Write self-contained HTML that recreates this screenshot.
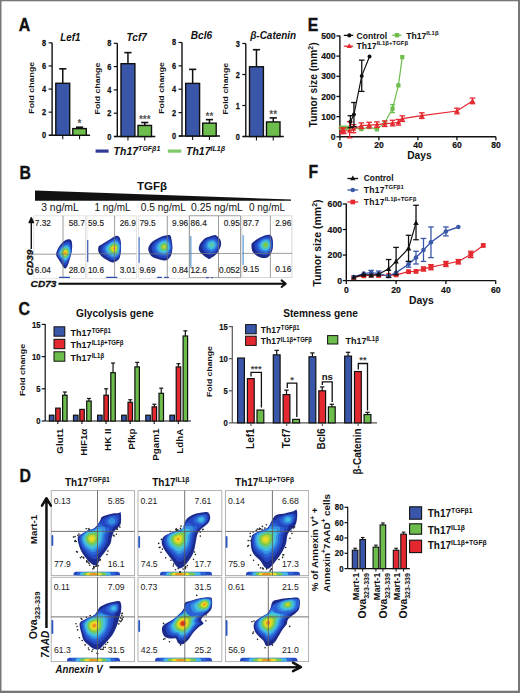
<!DOCTYPE html>
<html><head><meta charset="utf-8"><style>
html,body{margin:0;padding:0;background:#fff;width:520px;height:693px;overflow:hidden;}
svg{display:block;font-family:"Liberation Sans", sans-serif;}
</style></head><body>
<svg width="520" height="693" viewBox="0 0 520 693">
<defs><filter id="bl" x="-20%" y="-20%" width="140%" height="140%"><feGaussianBlur stdDeviation="0.35"/></filter></defs>
<rect x="0" y="0" width="520" height="693" fill="#777"/>
<rect x="1.5" y="1.3" width="516.5" height="689.4" fill="#fff"/>
<text transform="translate(18.80,30.80) scale(0.9,1)" font-size="17.6" font-weight="bold" font-style="normal" text-anchor="start" fill="#111" stroke="#111" stroke-width="0.35">A</text>
<text transform="translate(19.50,178.60) scale(0.9,1)" font-size="17.6" font-weight="bold" font-style="normal" text-anchor="start" fill="#111" stroke="#111" stroke-width="0.35">B</text>
<text transform="translate(18.50,315.20) scale(0.9,1)" font-size="17.6" font-weight="bold" font-style="normal" text-anchor="start" fill="#111" stroke="#111" stroke-width="0.35">C</text>
<text transform="translate(19.50,482.20) scale(0.9,1)" font-size="17.6" font-weight="bold" font-style="normal" text-anchor="start" fill="#111" stroke="#111" stroke-width="0.35">D</text>
<text transform="translate(307.80,30.80) scale(0.9,1)" font-size="17.6" font-weight="bold" font-style="normal" text-anchor="start" fill="#111" stroke="#111" stroke-width="0.35">E</text>
<text transform="translate(308.50,177.70) scale(0.9,1)" font-size="17.6" font-weight="bold" font-style="normal" text-anchor="start" fill="#111" stroke="#111" stroke-width="0.35">F</text>
<line x1="52.10" y1="42.82" x2="52.10" y2="135.80" stroke="#111" stroke-width="1.4" />
<line x1="49.10" y1="135.30" x2="90.10" y2="135.30" stroke="#111" stroke-width="1.4" />
<line x1="48.60" y1="135.30" x2="52.10" y2="135.30" stroke="#111" stroke-width="1.2" />
<text transform="translate(46.20,138.30) scale(0.84,1)" font-size="8.8" font-weight="bold" font-style="normal" text-anchor="end" fill="#111" stroke="#111" stroke-width="0.25">0</text>
<line x1="48.60" y1="112.18" x2="52.10" y2="112.18" stroke="#111" stroke-width="1.2" />
<text transform="translate(46.20,115.18) scale(0.84,1)" font-size="8.8" font-weight="bold" font-style="normal" text-anchor="end" fill="#111" stroke="#111" stroke-width="0.25">2</text>
<line x1="48.60" y1="89.06" x2="52.10" y2="89.06" stroke="#111" stroke-width="1.2" />
<text transform="translate(46.20,92.06) scale(0.84,1)" font-size="8.8" font-weight="bold" font-style="normal" text-anchor="end" fill="#111" stroke="#111" stroke-width="0.25">4</text>
<line x1="48.60" y1="65.94" x2="52.10" y2="65.94" stroke="#111" stroke-width="1.2" />
<text transform="translate(46.20,68.94) scale(0.84,1)" font-size="8.8" font-weight="bold" font-style="normal" text-anchor="end" fill="#111" stroke="#111" stroke-width="0.25">6</text>
<line x1="48.60" y1="42.82" x2="52.10" y2="42.82" stroke="#111" stroke-width="1.2" />
<text transform="translate(46.20,45.82) scale(0.84,1)" font-size="8.8" font-weight="bold" font-style="normal" text-anchor="end" fill="#111" stroke="#111" stroke-width="0.25">8</text>
<line x1="62.75" y1="68.83" x2="62.75" y2="83.28" stroke="#111" stroke-width="1.5" />
<line x1="59.15" y1="68.83" x2="66.35" y2="68.83" stroke="#111" stroke-width="1.6" />
<rect x="55.80" y="83.28" width="13.90" height="52.02" fill="#3a56a8" stroke="#111" stroke-width="1.4"/>
<line x1="62.75" y1="135.30" x2="62.75" y2="139.30" stroke="#111" stroke-width="1.1" />
<line x1="79.55" y1="127.21" x2="79.55" y2="128.60" stroke="#111" stroke-width="1.5" />
<line x1="75.95" y1="127.21" x2="83.15" y2="127.21" stroke="#111" stroke-width="1.6" />
<rect x="72.80" y="128.60" width="13.50" height="6.70" fill="#6dbd4c" stroke="#111" stroke-width="1.4"/>
<line x1="79.55" y1="135.30" x2="79.55" y2="139.30" stroke="#111" stroke-width="1.1" />
<text x="79.55" y="127.41" font-size="10" font-weight="bold" font-style="normal" text-anchor="middle" fill="#555" >*</text>
<text x="60.20" y="41.20" font-size="10.5" font-weight="bold" font-style="italic" text-anchor="start" fill="#111" textLength="20.2" lengthAdjust="spacingAndGlyphs">Lef1</text>
<text transform="translate(34.40,87.76) rotate(-90)" font-size="8" font-weight="bold" font-style="normal" text-anchor="middle" fill="#111" textLength="51.8" lengthAdjust="spacingAndGlyphs">Fold change</text>
<line x1="117.30" y1="43.30" x2="117.30" y2="137.00" stroke="#111" stroke-width="1.4" />
<line x1="114.30" y1="136.50" x2="155.30" y2="136.50" stroke="#111" stroke-width="1.4" />
<line x1="113.80" y1="136.50" x2="117.30" y2="136.50" stroke="#111" stroke-width="1.2" />
<text transform="translate(111.40,139.50) scale(0.84,1)" font-size="8.8" font-weight="bold" font-style="normal" text-anchor="end" fill="#111" stroke="#111" stroke-width="0.25">0</text>
<line x1="113.80" y1="113.20" x2="117.30" y2="113.20" stroke="#111" stroke-width="1.2" />
<text transform="translate(111.40,116.20) scale(0.84,1)" font-size="8.8" font-weight="bold" font-style="normal" text-anchor="end" fill="#111" stroke="#111" stroke-width="0.25">2</text>
<line x1="113.80" y1="89.90" x2="117.30" y2="89.90" stroke="#111" stroke-width="1.2" />
<text transform="translate(111.40,92.90) scale(0.84,1)" font-size="8.8" font-weight="bold" font-style="normal" text-anchor="end" fill="#111" stroke="#111" stroke-width="0.25">4</text>
<line x1="113.80" y1="66.60" x2="117.30" y2="66.60" stroke="#111" stroke-width="1.2" />
<text transform="translate(111.40,69.60) scale(0.84,1)" font-size="8.8" font-weight="bold" font-style="normal" text-anchor="end" fill="#111" stroke="#111" stroke-width="0.25">6</text>
<line x1="113.80" y1="43.30" x2="117.30" y2="43.30" stroke="#111" stroke-width="1.2" />
<text transform="translate(111.40,46.30) scale(0.84,1)" font-size="8.8" font-weight="bold" font-style="normal" text-anchor="end" fill="#111" stroke="#111" stroke-width="0.25">8</text>
<line x1="127.95" y1="52.62" x2="127.95" y2="63.69" stroke="#111" stroke-width="1.5" />
<line x1="124.35" y1="52.62" x2="131.55" y2="52.62" stroke="#111" stroke-width="1.6" />
<rect x="121.00" y="63.69" width="13.90" height="72.81" fill="#3a56a8" stroke="#111" stroke-width="1.4"/>
<line x1="127.95" y1="136.50" x2="127.95" y2="140.50" stroke="#111" stroke-width="1.1" />
<line x1="144.75" y1="122.52" x2="144.75" y2="125.43" stroke="#111" stroke-width="1.5" />
<line x1="141.15" y1="122.52" x2="148.35" y2="122.52" stroke="#111" stroke-width="1.6" />
<rect x="138.00" y="125.43" width="13.50" height="11.07" fill="#6dbd4c" stroke="#111" stroke-width="1.4"/>
<line x1="144.75" y1="136.50" x2="144.75" y2="140.50" stroke="#111" stroke-width="1.1" />
<text x="144.75" y="122.72" font-size="10" font-weight="bold" font-style="normal" text-anchor="middle" fill="#555" >***</text>
<text x="126.60" y="41.20" font-size="10.5" font-weight="bold" font-style="italic" text-anchor="start" fill="#111" textLength="20.2" lengthAdjust="spacingAndGlyphs">Tcf7</text>
<text transform="translate(99.60,88.60) rotate(-90)" font-size="8" font-weight="bold" font-style="normal" text-anchor="middle" fill="#111" textLength="51.8" lengthAdjust="spacingAndGlyphs">Fold change</text>
<line x1="182.00" y1="42.48" x2="182.00" y2="136.50" stroke="#111" stroke-width="1.4" />
<line x1="179.00" y1="136.00" x2="220.00" y2="136.00" stroke="#111" stroke-width="1.4" />
<line x1="178.50" y1="136.00" x2="182.00" y2="136.00" stroke="#111" stroke-width="1.2" />
<text transform="translate(176.10,139.00) scale(0.84,1)" font-size="8.8" font-weight="bold" font-style="normal" text-anchor="end" fill="#111" stroke="#111" stroke-width="0.25">0</text>
<line x1="178.50" y1="112.62" x2="182.00" y2="112.62" stroke="#111" stroke-width="1.2" />
<text transform="translate(176.10,115.62) scale(0.84,1)" font-size="8.8" font-weight="bold" font-style="normal" text-anchor="end" fill="#111" stroke="#111" stroke-width="0.25">2</text>
<line x1="178.50" y1="89.24" x2="182.00" y2="89.24" stroke="#111" stroke-width="1.2" />
<text transform="translate(176.10,92.24) scale(0.84,1)" font-size="8.8" font-weight="bold" font-style="normal" text-anchor="end" fill="#111" stroke="#111" stroke-width="0.25">4</text>
<line x1="178.50" y1="65.86" x2="182.00" y2="65.86" stroke="#111" stroke-width="1.2" />
<text transform="translate(176.10,68.86) scale(0.84,1)" font-size="8.8" font-weight="bold" font-style="normal" text-anchor="end" fill="#111" stroke="#111" stroke-width="0.25">6</text>
<line x1="178.50" y1="42.48" x2="182.00" y2="42.48" stroke="#111" stroke-width="1.2" />
<text transform="translate(176.10,45.48) scale(0.84,1)" font-size="8.8" font-weight="bold" font-style="normal" text-anchor="end" fill="#111" stroke="#111" stroke-width="0.25">8</text>
<line x1="192.65" y1="69.37" x2="192.65" y2="83.40" stroke="#111" stroke-width="1.5" />
<line x1="189.05" y1="69.37" x2="196.25" y2="69.37" stroke="#111" stroke-width="1.6" />
<rect x="185.70" y="83.40" width="13.90" height="52.60" fill="#3a56a8" stroke="#111" stroke-width="1.4"/>
<line x1="192.65" y1="136.00" x2="192.65" y2="140.00" stroke="#111" stroke-width="1.1" />
<line x1="209.45" y1="119.63" x2="209.45" y2="123.14" stroke="#111" stroke-width="1.5" />
<line x1="205.85" y1="119.63" x2="213.05" y2="119.63" stroke="#111" stroke-width="1.6" />
<rect x="202.70" y="123.14" width="13.50" height="12.86" fill="#6dbd4c" stroke="#111" stroke-width="1.4"/>
<line x1="209.45" y1="136.00" x2="209.45" y2="140.00" stroke="#111" stroke-width="1.1" />
<text x="209.45" y="119.83" font-size="10" font-weight="bold" font-style="normal" text-anchor="middle" fill="#555" >**</text>
<text x="190.80" y="38.80" font-size="10.5" font-weight="bold" font-style="italic" text-anchor="start" fill="#111" textLength="21.4" lengthAdjust="spacingAndGlyphs">Bcl6</text>
<text transform="translate(164.30,87.94) rotate(-90)" font-size="8" font-weight="bold" font-style="normal" text-anchor="middle" fill="#111" textLength="51.8" lengthAdjust="spacingAndGlyphs">Fold change</text>
<line x1="245.80" y1="43.50" x2="245.80" y2="137.00" stroke="#111" stroke-width="1.4" />
<line x1="242.80" y1="136.50" x2="283.80" y2="136.50" stroke="#111" stroke-width="1.4" />
<line x1="242.30" y1="136.50" x2="245.80" y2="136.50" stroke="#111" stroke-width="1.2" />
<text transform="translate(239.90,139.50) scale(0.84,1)" font-size="8.8" font-weight="bold" font-style="normal" text-anchor="end" fill="#111" stroke="#111" stroke-width="0.25">0</text>
<line x1="242.30" y1="105.50" x2="245.80" y2="105.50" stroke="#111" stroke-width="1.2" />
<text transform="translate(239.90,108.50) scale(0.84,1)" font-size="8.8" font-weight="bold" font-style="normal" text-anchor="end" fill="#111" stroke="#111" stroke-width="0.25">1</text>
<line x1="242.30" y1="74.50" x2="245.80" y2="74.50" stroke="#111" stroke-width="1.2" />
<text transform="translate(239.90,77.50) scale(0.84,1)" font-size="8.8" font-weight="bold" font-style="normal" text-anchor="end" fill="#111" stroke="#111" stroke-width="0.25">2</text>
<line x1="242.30" y1="43.50" x2="245.80" y2="43.50" stroke="#111" stroke-width="1.2" />
<text transform="translate(239.90,46.50) scale(0.84,1)" font-size="8.8" font-weight="bold" font-style="normal" text-anchor="end" fill="#111" stroke="#111" stroke-width="0.25">3</text>
<line x1="256.45" y1="49.70" x2="256.45" y2="66.75" stroke="#111" stroke-width="1.5" />
<line x1="252.85" y1="49.70" x2="260.05" y2="49.70" stroke="#111" stroke-width="1.6" />
<rect x="249.50" y="66.75" width="13.90" height="69.75" fill="#3a56a8" stroke="#111" stroke-width="1.4"/>
<line x1="256.45" y1="136.50" x2="256.45" y2="140.50" stroke="#111" stroke-width="1.1" />
<line x1="273.25" y1="117.90" x2="273.25" y2="121.93" stroke="#111" stroke-width="1.5" />
<line x1="269.65" y1="117.90" x2="276.85" y2="117.90" stroke="#111" stroke-width="1.6" />
<rect x="266.50" y="121.93" width="13.50" height="14.57" fill="#6dbd4c" stroke="#111" stroke-width="1.4"/>
<line x1="273.25" y1="136.50" x2="273.25" y2="140.50" stroke="#111" stroke-width="1.1" />
<text x="273.25" y="118.10" font-size="10" font-weight="bold" font-style="normal" text-anchor="middle" fill="#555" >**</text>
<text x="250.20" y="38.80" font-size="10.5" font-weight="bold" font-style="italic" text-anchor="start" fill="#111" textLength="46.0" lengthAdjust="spacingAndGlyphs">&#946;-Catenin</text>
<text transform="translate(228.10,88.70) rotate(-90)" font-size="8" font-weight="bold" font-style="normal" text-anchor="middle" fill="#111" textLength="51.8" lengthAdjust="spacingAndGlyphs">Fold change</text>
<line x1="95.60" y1="151.10" x2="108.60" y2="151.10" stroke="#313896" stroke-width="3.2" />
<text x="113.6" y="154.8" font-size="10.5" font-weight="bold" font-style="italic" fill="#111">Th17<tspan dy="-3.4" font-size="7">TGF&#946;1</tspan></text>
<line x1="167.80" y1="151.10" x2="181.40" y2="151.10" stroke="#7fc86a" stroke-width="3.2" />
<text x="186" y="154.8" font-size="10.5" font-weight="bold" font-style="italic" fill="#111">Th17<tspan dy="-3.4" font-size="7">IL1&#946;</tspan></text>
<line x1="339.90" y1="35.45" x2="339.90" y2="136.80" stroke="#111" stroke-width="1.4" />
<line x1="339.90" y1="136.80" x2="495.90" y2="136.80" stroke="#111" stroke-width="1.4" />
<line x1="336.40" y1="136.80" x2="339.90" y2="136.80" stroke="#111" stroke-width="1.3" />
<text transform="translate(335.60,140.00) scale(0.96,1)" font-size="9" font-weight="bold" font-style="normal" text-anchor="end" fill="#111" stroke="#111" stroke-width="0.2">0</text>
<line x1="336.40" y1="116.63" x2="339.90" y2="116.63" stroke="#111" stroke-width="1.3" />
<text transform="translate(335.60,119.83) scale(0.96,1)" font-size="9" font-weight="bold" font-style="normal" text-anchor="end" fill="#111" stroke="#111" stroke-width="0.2">100</text>
<line x1="336.40" y1="96.46" x2="339.90" y2="96.46" stroke="#111" stroke-width="1.3" />
<text transform="translate(335.60,99.66) scale(0.96,1)" font-size="9" font-weight="bold" font-style="normal" text-anchor="end" fill="#111" stroke="#111" stroke-width="0.2">200</text>
<line x1="336.40" y1="76.29" x2="339.90" y2="76.29" stroke="#111" stroke-width="1.3" />
<text transform="translate(335.60,79.49) scale(0.96,1)" font-size="9" font-weight="bold" font-style="normal" text-anchor="end" fill="#111" stroke="#111" stroke-width="0.2">300</text>
<line x1="336.40" y1="56.12" x2="339.90" y2="56.12" stroke="#111" stroke-width="1.3" />
<text transform="translate(335.60,59.32) scale(0.96,1)" font-size="9" font-weight="bold" font-style="normal" text-anchor="end" fill="#111" stroke="#111" stroke-width="0.2">400</text>
<line x1="336.40" y1="35.95" x2="339.90" y2="35.95" stroke="#111" stroke-width="1.3" />
<text transform="translate(335.60,39.15) scale(0.96,1)" font-size="9" font-weight="bold" font-style="normal" text-anchor="end" fill="#111" stroke="#111" stroke-width="0.2">500</text>
<line x1="339.90" y1="136.80" x2="339.90" y2="140.30" stroke="#111" stroke-width="1.3" />
<text transform="translate(339.90,148.20) scale(0.95,1)" font-size="9" font-weight="bold" font-style="normal" text-anchor="middle" fill="#111" stroke="#111" stroke-width="0.2">0</text>
<line x1="378.90" y1="136.80" x2="378.90" y2="140.30" stroke="#111" stroke-width="1.3" />
<text transform="translate(378.90,148.20) scale(0.95,1)" font-size="9" font-weight="bold" font-style="normal" text-anchor="middle" fill="#111" stroke="#111" stroke-width="0.2">20</text>
<line x1="417.90" y1="136.80" x2="417.90" y2="140.30" stroke="#111" stroke-width="1.3" />
<text transform="translate(417.90,148.20) scale(0.95,1)" font-size="9" font-weight="bold" font-style="normal" text-anchor="middle" fill="#111" stroke="#111" stroke-width="0.2">40</text>
<line x1="456.90" y1="136.80" x2="456.90" y2="140.30" stroke="#111" stroke-width="1.3" />
<text transform="translate(456.90,148.20) scale(0.95,1)" font-size="9" font-weight="bold" font-style="normal" text-anchor="middle" fill="#111" stroke="#111" stroke-width="0.2">60</text>
<line x1="495.90" y1="136.80" x2="495.90" y2="140.30" stroke="#111" stroke-width="1.3" />
<text transform="translate(495.90,148.20) scale(0.95,1)" font-size="9" font-weight="bold" font-style="normal" text-anchor="middle" fill="#111" stroke="#111" stroke-width="0.2">80</text>
<text x="407.20" y="159.40" font-size="10.2" font-weight="bold" font-style="normal" text-anchor="start" fill="#111" >Days</text>
<text transform="translate(316.9,84.8) rotate(-90)" font-size="10.2" font-weight="bold" text-anchor="middle" fill="#111">Tumor size (mm<tspan dy="-4" font-size="7">2</tspan><tspan dy="4">)</tspan></text>
<polyline points="340.88,127.72 343.80,127.72 347.70,127.72 361.35,129.14 369.15,127.12 376.95,129.34 384.75,122.68 392.55,108.56 398.40,85.37 402.30,57.13" fill="none" stroke="#6dbd4c" stroke-width="1.2"/>
<rect x="338.77" y="125.62" width="4.20" height="4.20" fill="#6dbd4c"/>
<rect x="341.70" y="125.62" width="4.20" height="4.20" fill="#6dbd4c"/>
<rect x="345.60" y="125.62" width="4.20" height="4.20" fill="#6dbd4c"/>
<rect x="359.25" y="127.04" width="4.20" height="4.20" fill="#6dbd4c"/>
<rect x="367.05" y="125.02" width="4.20" height="4.20" fill="#6dbd4c"/>
<rect x="374.85" y="127.24" width="4.20" height="4.20" fill="#6dbd4c"/>
<rect x="382.65" y="120.58" width="4.20" height="4.20" fill="#6dbd4c"/>
<rect x="390.45" y="106.46" width="4.20" height="4.20" fill="#6dbd4c"/>
<rect x="396.30" y="83.27" width="4.20" height="4.20" fill="#6dbd4c"/>
<rect x="400.20" y="55.03" width="4.20" height="4.20" fill="#6dbd4c"/>
<line x1="392.55" y1="104.53" x2="392.55" y2="112.60" stroke="#6dbd4c" stroke-width="1.3" />
<line x1="390.05" y1="104.53" x2="395.05" y2="104.53" stroke="#6dbd4c" stroke-width="1.3" />
<line x1="390.05" y1="112.60" x2="395.05" y2="112.60" stroke="#6dbd4c" stroke-width="1.3" />
<polyline points="341.85,130.75 343.80,130.75 349.65,130.75 353.55,128.73 361.35,125.71 369.15,125.10 376.95,124.70 384.75,123.69 392.55,123.08 398.40,122.28 402.30,118.65 421.80,115.62 456.90,110.98 472.50,100.90" fill="none" stroke="#e3292f" stroke-width="1.2"/>
<line x1="341.85" y1="127.93" x2="341.85" y2="133.57" stroke="#e3292f" stroke-width="1.3" />
<line x1="339.05" y1="127.93" x2="344.65" y2="127.93" stroke="#e3292f" stroke-width="1.3" />
<line x1="339.05" y1="133.57" x2="344.65" y2="133.57" stroke="#e3292f" stroke-width="1.3" />
<line x1="343.80" y1="127.93" x2="343.80" y2="133.57" stroke="#e3292f" stroke-width="1.3" />
<line x1="341.00" y1="127.93" x2="346.60" y2="127.93" stroke="#e3292f" stroke-width="1.3" />
<line x1="341.00" y1="133.57" x2="346.60" y2="133.57" stroke="#e3292f" stroke-width="1.3" />
<line x1="349.65" y1="121.67" x2="349.65" y2="137.81" stroke="#e3292f" stroke-width="1.3" />
<line x1="346.85" y1="121.67" x2="352.45" y2="121.67" stroke="#e3292f" stroke-width="1.3" />
<line x1="346.85" y1="137.81" x2="352.45" y2="137.81" stroke="#e3292f" stroke-width="1.3" />
<line x1="353.55" y1="124.70" x2="353.55" y2="132.77" stroke="#e3292f" stroke-width="1.3" />
<line x1="350.75" y1="124.70" x2="356.35" y2="124.70" stroke="#e3292f" stroke-width="1.3" />
<line x1="350.75" y1="132.77" x2="356.35" y2="132.77" stroke="#e3292f" stroke-width="1.3" />
<line x1="361.35" y1="122.88" x2="361.35" y2="128.53" stroke="#e3292f" stroke-width="1.3" />
<line x1="358.55" y1="122.88" x2="364.15" y2="122.88" stroke="#e3292f" stroke-width="1.3" />
<line x1="358.55" y1="128.53" x2="364.15" y2="128.53" stroke="#e3292f" stroke-width="1.3" />
<line x1="369.15" y1="122.28" x2="369.15" y2="127.93" stroke="#e3292f" stroke-width="1.3" />
<line x1="366.35" y1="122.28" x2="371.95" y2="122.28" stroke="#e3292f" stroke-width="1.3" />
<line x1="366.35" y1="127.93" x2="371.95" y2="127.93" stroke="#e3292f" stroke-width="1.3" />
<line x1="376.95" y1="121.87" x2="376.95" y2="127.52" stroke="#e3292f" stroke-width="1.3" />
<line x1="374.15" y1="121.87" x2="379.75" y2="121.87" stroke="#e3292f" stroke-width="1.3" />
<line x1="374.15" y1="127.52" x2="379.75" y2="127.52" stroke="#e3292f" stroke-width="1.3" />
<line x1="384.75" y1="120.87" x2="384.75" y2="126.51" stroke="#e3292f" stroke-width="1.3" />
<line x1="381.95" y1="120.87" x2="387.55" y2="120.87" stroke="#e3292f" stroke-width="1.3" />
<line x1="381.95" y1="126.51" x2="387.55" y2="126.51" stroke="#e3292f" stroke-width="1.3" />
<line x1="392.55" y1="120.26" x2="392.55" y2="125.91" stroke="#e3292f" stroke-width="1.3" />
<line x1="389.75" y1="120.26" x2="395.35" y2="120.26" stroke="#e3292f" stroke-width="1.3" />
<line x1="389.75" y1="125.91" x2="395.35" y2="125.91" stroke="#e3292f" stroke-width="1.3" />
<line x1="398.40" y1="119.45" x2="398.40" y2="125.10" stroke="#e3292f" stroke-width="1.3" />
<line x1="395.60" y1="119.45" x2="401.20" y2="119.45" stroke="#e3292f" stroke-width="1.3" />
<line x1="395.60" y1="125.10" x2="401.20" y2="125.10" stroke="#e3292f" stroke-width="1.3" />
<line x1="402.30" y1="115.82" x2="402.30" y2="121.47" stroke="#e3292f" stroke-width="1.3" />
<line x1="399.50" y1="115.82" x2="405.10" y2="115.82" stroke="#e3292f" stroke-width="1.3" />
<line x1="399.50" y1="121.47" x2="405.10" y2="121.47" stroke="#e3292f" stroke-width="1.3" />
<line x1="421.80" y1="112.80" x2="421.80" y2="118.45" stroke="#e3292f" stroke-width="1.3" />
<line x1="419.00" y1="112.80" x2="424.60" y2="112.80" stroke="#e3292f" stroke-width="1.3" />
<line x1="419.00" y1="118.45" x2="424.60" y2="118.45" stroke="#e3292f" stroke-width="1.3" />
<line x1="456.90" y1="108.16" x2="456.90" y2="113.81" stroke="#e3292f" stroke-width="1.3" />
<line x1="454.10" y1="108.16" x2="459.70" y2="108.16" stroke="#e3292f" stroke-width="1.3" />
<line x1="454.10" y1="113.81" x2="459.70" y2="113.81" stroke="#e3292f" stroke-width="1.3" />
<line x1="472.50" y1="98.07" x2="472.50" y2="103.72" stroke="#e3292f" stroke-width="1.3" />
<line x1="469.70" y1="98.07" x2="475.30" y2="98.07" stroke="#e3292f" stroke-width="1.3" />
<line x1="469.70" y1="103.72" x2="475.30" y2="103.72" stroke="#e3292f" stroke-width="1.3" />
<polygon points="341.85,127.99 344.49,132.82 339.20,132.82" fill="#e3292f"/>
<polygon points="343.80,127.99 346.44,132.82 341.15,132.82" fill="#e3292f"/>
<polygon points="349.65,127.99 352.29,132.82 347.00,132.82" fill="#e3292f"/>
<polygon points="353.55,125.97 356.19,130.80 350.90,130.80" fill="#e3292f"/>
<polygon points="361.35,122.95 363.99,127.78 358.70,127.78" fill="#e3292f"/>
<polygon points="369.15,122.34 371.79,127.17 366.50,127.17" fill="#e3292f"/>
<polygon points="376.95,121.94 379.59,126.77 374.31,126.77" fill="#e3292f"/>
<polygon points="384.75,120.93 387.39,125.76 382.11,125.76" fill="#e3292f"/>
<polygon points="392.55,120.32 395.19,125.15 389.90,125.15" fill="#e3292f"/>
<polygon points="398.40,119.52 401.04,124.35 395.75,124.35" fill="#e3292f"/>
<polygon points="402.30,115.89 404.94,120.72 399.65,120.72" fill="#e3292f"/>
<polygon points="421.80,112.86 424.44,117.69 419.15,117.69" fill="#e3292f"/>
<polygon points="456.90,108.22 459.54,113.05 454.25,113.05" fill="#e3292f"/>
<polygon points="472.50,98.14 475.14,102.97 469.86,102.97" fill="#e3292f"/>
<polyline points="350.43,121.67 353.94,114.61 361.74,75.89 369.54,56.52" fill="none" stroke="#111" stroke-width="1.2"/>
<circle cx="350.43" cy="121.67" r="1.99" fill="#111"/>
<circle cx="353.94" cy="114.61" r="1.99" fill="#111"/>
<circle cx="361.74" cy="75.89" r="1.99" fill="#111"/>
<circle cx="369.54" cy="56.52" r="1.99" fill="#111"/>
<line x1="350.43" y1="115.62" x2="350.43" y2="127.72" stroke="#111" stroke-width="1.3" />
<line x1="347.63" y1="115.62" x2="353.23" y2="115.62" stroke="#111" stroke-width="1.3" />
<line x1="347.63" y1="127.72" x2="353.23" y2="127.72" stroke="#111" stroke-width="1.3" />
<line x1="353.94" y1="102.51" x2="353.94" y2="126.72" stroke="#111" stroke-width="1.3" />
<line x1="351.14" y1="102.51" x2="356.74" y2="102.51" stroke="#111" stroke-width="1.3" />
<line x1="351.14" y1="126.72" x2="356.74" y2="126.72" stroke="#111" stroke-width="1.3" />
<line x1="361.74" y1="60.15" x2="361.74" y2="91.42" stroke="#111" stroke-width="1.3" />
<line x1="358.94" y1="60.15" x2="364.54" y2="60.15" stroke="#111" stroke-width="1.3" />
<line x1="358.94" y1="91.42" x2="364.54" y2="91.42" stroke="#111" stroke-width="1.3" />
<line x1="343.80" y1="35.40" x2="353.20" y2="35.40" stroke="#111" stroke-width="1.3" />
<circle cx="349.30" cy="35.40" r="2.09" fill="#111"/>
<text x="356.60" y="38.80" font-size="8.6" font-weight="bold" font-style="normal" text-anchor="start" fill="#111" >Control</text>
<line x1="392.30" y1="35.20" x2="401.50" y2="35.20" stroke="#6dbd4c" stroke-width="1.3" />
<rect x="394.80" y="33.00" width="4.40" height="4.40" fill="#6dbd4c"/>
<text x="406.2" y="38.8" font-size="8.6" font-weight="bold" fill="#111">Th17<tspan dy="-3.4" font-size="6">IL1&#946;</tspan></text>
<line x1="343.80" y1="46.20" x2="353.20" y2="46.20" stroke="#e3292f" stroke-width="1.3" />
<polygon points="349.30,43.24 351.94,48.07 346.66,48.07" fill="#e3292f"/>
<text x="356.6" y="49.0" font-size="8.6" font-weight="bold" fill="#111">Th17<tspan dy="-3.6" font-size="6">IL1&#946;+TGF&#946;</tspan></text>
<line x1="346.30" y1="203.48" x2="346.30" y2="280.60" stroke="#111" stroke-width="1.4" />
<line x1="346.30" y1="280.60" x2="495.70" y2="280.60" stroke="#111" stroke-width="1.4" />
<line x1="342.80" y1="280.60" x2="346.30" y2="280.60" stroke="#111" stroke-width="1.3" />
<text transform="translate(342.10,283.80) scale(0.97,1)" font-size="9" font-weight="bold" font-style="normal" text-anchor="end" fill="#111" stroke="#111" stroke-width="0.2">0</text>
<line x1="342.80" y1="255.06" x2="346.30" y2="255.06" stroke="#111" stroke-width="1.3" />
<text transform="translate(342.10,258.26) scale(0.97,1)" font-size="9" font-weight="bold" font-style="normal" text-anchor="end" fill="#111" stroke="#111" stroke-width="0.2">200</text>
<line x1="342.80" y1="229.52" x2="346.30" y2="229.52" stroke="#111" stroke-width="1.3" />
<text transform="translate(342.10,232.72) scale(0.97,1)" font-size="9" font-weight="bold" font-style="normal" text-anchor="end" fill="#111" stroke="#111" stroke-width="0.2">400</text>
<line x1="342.80" y1="203.98" x2="346.30" y2="203.98" stroke="#111" stroke-width="1.3" />
<text transform="translate(342.10,207.18) scale(0.97,1)" font-size="9" font-weight="bold" font-style="normal" text-anchor="end" fill="#111" stroke="#111" stroke-width="0.2">600</text>
<line x1="346.30" y1="280.60" x2="346.30" y2="284.10" stroke="#111" stroke-width="1.3" />
<text transform="translate(346.30,293.10) scale(0.96,1)" font-size="9" font-weight="bold" font-style="normal" text-anchor="middle" fill="#111" stroke="#111" stroke-width="0.2">0</text>
<line x1="396.10" y1="280.60" x2="396.10" y2="284.10" stroke="#111" stroke-width="1.3" />
<text transform="translate(396.10,293.10) scale(0.96,1)" font-size="9" font-weight="bold" font-style="normal" text-anchor="middle" fill="#111" stroke="#111" stroke-width="0.2">20</text>
<line x1="445.90" y1="280.60" x2="445.90" y2="284.10" stroke="#111" stroke-width="1.3" />
<text transform="translate(445.90,293.10) scale(0.96,1)" font-size="9" font-weight="bold" font-style="normal" text-anchor="middle" fill="#111" stroke="#111" stroke-width="0.2">40</text>
<line x1="495.70" y1="280.60" x2="495.70" y2="284.10" stroke="#111" stroke-width="1.3" />
<text transform="translate(495.70,293.10) scale(0.96,1)" font-size="9" font-weight="bold" font-style="normal" text-anchor="middle" fill="#111" stroke="#111" stroke-width="0.2">60</text>
<text x="409.00" y="304.30" font-size="10.4" font-weight="bold" font-style="normal" text-anchor="start" fill="#111" >Days</text>
<text transform="translate(320.7,243) rotate(-90)" font-size="10.5" font-weight="bold" text-anchor="middle" fill="#111">Tumor size (mm<tspan dy="-4" font-size="7">2</tspan><tspan dy="4">)</tspan></text>
<polyline points="353.77,277.41 363.73,275.75 371.20,275.24 378.67,275.49 388.63,275.49 396.10,274.85 408.55,271.66 416.02,271.41 423.49,268.85 430.96,267.19 445.90,264.00 458.35,261.45 470.80,254.42 483.25,245.48" fill="none" stroke="#e3292f" stroke-width="1.2"/>
<line x1="423.49" y1="267.19" x2="423.49" y2="271.02" stroke="#e3292f" stroke-width="1.3" />
<line x1="420.69" y1="267.19" x2="426.29" y2="267.19" stroke="#e3292f" stroke-width="1.3" />
<line x1="420.69" y1="271.02" x2="426.29" y2="271.02" stroke="#e3292f" stroke-width="1.3" />
<line x1="430.96" y1="264.64" x2="430.96" y2="269.75" stroke="#e3292f" stroke-width="1.3" />
<line x1="428.16" y1="264.64" x2="433.76" y2="264.64" stroke="#e3292f" stroke-width="1.3" />
<line x1="428.16" y1="269.75" x2="433.76" y2="269.75" stroke="#e3292f" stroke-width="1.3" />
<line x1="445.90" y1="261.45" x2="445.90" y2="266.55" stroke="#e3292f" stroke-width="1.3" />
<line x1="443.10" y1="261.45" x2="448.70" y2="261.45" stroke="#e3292f" stroke-width="1.3" />
<line x1="443.10" y1="266.55" x2="448.70" y2="266.55" stroke="#e3292f" stroke-width="1.3" />
<line x1="458.35" y1="259.53" x2="458.35" y2="264.00" stroke="#e3292f" stroke-width="1.3" />
<line x1="455.55" y1="259.53" x2="461.15" y2="259.53" stroke="#e3292f" stroke-width="1.3" />
<line x1="455.55" y1="264.00" x2="461.15" y2="264.00" stroke="#e3292f" stroke-width="1.3" />
<line x1="470.80" y1="251.23" x2="470.80" y2="257.61" stroke="#e3292f" stroke-width="1.3" />
<line x1="468.00" y1="251.23" x2="473.60" y2="251.23" stroke="#e3292f" stroke-width="1.3" />
<line x1="468.00" y1="257.61" x2="473.60" y2="257.61" stroke="#e3292f" stroke-width="1.3" />
<rect x="351.37" y="275.01" width="4.80" height="4.80" fill="#e3292f"/>
<rect x="361.33" y="273.35" width="4.80" height="4.80" fill="#e3292f"/>
<rect x="368.80" y="272.84" width="4.80" height="4.80" fill="#e3292f"/>
<rect x="376.27" y="273.09" width="4.80" height="4.80" fill="#e3292f"/>
<rect x="386.23" y="273.09" width="4.80" height="4.80" fill="#e3292f"/>
<rect x="393.70" y="272.45" width="4.80" height="4.80" fill="#e3292f"/>
<rect x="406.15" y="269.26" width="4.80" height="4.80" fill="#e3292f"/>
<rect x="413.62" y="269.01" width="4.80" height="4.80" fill="#e3292f"/>
<rect x="421.09" y="266.45" width="4.80" height="4.80" fill="#e3292f"/>
<rect x="428.56" y="264.79" width="4.80" height="4.80" fill="#e3292f"/>
<rect x="443.50" y="261.60" width="4.80" height="4.80" fill="#e3292f"/>
<rect x="455.95" y="259.05" width="4.80" height="4.80" fill="#e3292f"/>
<rect x="468.40" y="252.02" width="4.80" height="4.80" fill="#e3292f"/>
<rect x="480.85" y="243.08" width="4.80" height="4.80" fill="#e3292f"/>
<polyline points="353.77,277.02 363.73,273.58 371.20,272.68 378.67,273.58 388.63,276.13 396.10,272.68 408.55,264.25 416.02,257.61 423.49,249.95 430.96,242.29 445.90,231.44 458.35,226.97" fill="none" stroke="#3a58a8" stroke-width="1.4"/>
<line x1="371.20" y1="270.38" x2="371.20" y2="274.85" stroke="#3a58a8" stroke-width="1.3" />
<line x1="368.40" y1="270.38" x2="374.00" y2="270.38" stroke="#3a58a8" stroke-width="1.3" />
<line x1="368.40" y1="274.85" x2="374.00" y2="274.85" stroke="#3a58a8" stroke-width="1.3" />
<line x1="378.67" y1="271.02" x2="378.67" y2="275.49" stroke="#3a58a8" stroke-width="1.3" />
<line x1="375.87" y1="271.02" x2="381.47" y2="271.02" stroke="#3a58a8" stroke-width="1.3" />
<line x1="375.87" y1="275.49" x2="381.47" y2="275.49" stroke="#3a58a8" stroke-width="1.3" />
<line x1="408.55" y1="261.45" x2="408.55" y2="267.19" stroke="#3a58a8" stroke-width="1.3" />
<line x1="405.75" y1="261.45" x2="411.35" y2="261.45" stroke="#3a58a8" stroke-width="1.3" />
<line x1="405.75" y1="267.19" x2="411.35" y2="267.19" stroke="#3a58a8" stroke-width="1.3" />
<line x1="416.02" y1="251.23" x2="416.02" y2="264.00" stroke="#3a58a8" stroke-width="1.3" />
<line x1="413.22" y1="251.23" x2="418.82" y2="251.23" stroke="#3a58a8" stroke-width="1.3" />
<line x1="413.22" y1="264.00" x2="418.82" y2="264.00" stroke="#3a58a8" stroke-width="1.3" />
<line x1="423.49" y1="238.46" x2="423.49" y2="261.45" stroke="#3a58a8" stroke-width="1.3" />
<line x1="420.69" y1="238.46" x2="426.29" y2="238.46" stroke="#3a58a8" stroke-width="1.3" />
<line x1="420.69" y1="261.45" x2="426.29" y2="261.45" stroke="#3a58a8" stroke-width="1.3" />
<line x1="430.96" y1="226.97" x2="430.96" y2="257.61" stroke="#3a58a8" stroke-width="1.3" />
<line x1="428.16" y1="226.97" x2="433.76" y2="226.97" stroke="#3a58a8" stroke-width="1.3" />
<line x1="428.16" y1="257.61" x2="433.76" y2="257.61" stroke="#3a58a8" stroke-width="1.3" />
<line x1="445.90" y1="226.97" x2="445.90" y2="235.91" stroke="#3a58a8" stroke-width="1.3" />
<line x1="443.10" y1="226.97" x2="448.70" y2="226.97" stroke="#3a58a8" stroke-width="1.3" />
<line x1="443.10" y1="235.91" x2="448.70" y2="235.91" stroke="#3a58a8" stroke-width="1.3" />
<circle cx="353.77" cy="277.02" r="2.28" fill="#3a58a8"/>
<circle cx="363.73" cy="273.58" r="2.28" fill="#3a58a8"/>
<circle cx="371.20" cy="272.68" r="2.28" fill="#3a58a8"/>
<circle cx="378.67" cy="273.58" r="2.28" fill="#3a58a8"/>
<circle cx="388.63" cy="276.13" r="2.28" fill="#3a58a8"/>
<circle cx="396.10" cy="272.68" r="2.28" fill="#3a58a8"/>
<circle cx="408.55" cy="264.25" r="2.28" fill="#3a58a8"/>
<circle cx="416.02" cy="257.61" r="2.28" fill="#3a58a8"/>
<circle cx="423.49" cy="249.95" r="2.28" fill="#3a58a8"/>
<circle cx="430.96" cy="242.29" r="2.28" fill="#3a58a8"/>
<circle cx="445.90" cy="231.44" r="2.28" fill="#3a58a8"/>
<circle cx="458.35" cy="226.97" r="2.28" fill="#3a58a8"/>
<polyline points="353.77,277.41 363.73,274.47 371.20,275.24 378.67,274.22 388.63,268.85 396.10,261.45 408.55,248.42 416.02,222.88" fill="none" stroke="#111" stroke-width="1.2"/>
<line x1="388.63" y1="259.53" x2="388.63" y2="277.41" stroke="#111" stroke-width="1.3" />
<line x1="385.83" y1="259.53" x2="391.43" y2="259.53" stroke="#111" stroke-width="1.3" />
<line x1="385.83" y1="277.41" x2="391.43" y2="277.41" stroke="#111" stroke-width="1.3" />
<line x1="396.10" y1="247.40" x2="396.10" y2="274.85" stroke="#111" stroke-width="1.3" />
<line x1="393.30" y1="247.40" x2="398.90" y2="247.40" stroke="#111" stroke-width="1.3" />
<line x1="393.30" y1="274.85" x2="398.90" y2="274.85" stroke="#111" stroke-width="1.3" />
<line x1="408.55" y1="235.27" x2="408.55" y2="261.45" stroke="#111" stroke-width="1.3" />
<line x1="405.75" y1="235.27" x2="411.35" y2="235.27" stroke="#111" stroke-width="1.3" />
<line x1="405.75" y1="261.45" x2="411.35" y2="261.45" stroke="#111" stroke-width="1.3" />
<line x1="416.02" y1="205.26" x2="416.02" y2="239.74" stroke="#111" stroke-width="1.3" />
<line x1="413.22" y1="205.26" x2="418.82" y2="205.26" stroke="#111" stroke-width="1.3" />
<line x1="413.22" y1="239.74" x2="418.82" y2="239.74" stroke="#111" stroke-width="1.3" />
<polygon points="353.77,274.53 356.53,279.57 351.01,279.57" fill="#111"/>
<polygon points="363.73,271.59 366.49,276.63 360.97,276.63" fill="#111"/>
<polygon points="371.20,272.36 373.96,277.40 368.44,277.40" fill="#111"/>
<polygon points="378.67,271.34 381.43,276.38 375.91,276.38" fill="#111"/>
<polygon points="388.63,265.97 391.39,271.01 385.87,271.01" fill="#111"/>
<polygon points="396.10,258.57 398.86,263.61 393.34,263.61" fill="#111"/>
<polygon points="408.55,245.54 411.31,250.58 405.79,250.58" fill="#111"/>
<polygon points="416.02,220.00 418.78,225.04 413.26,225.04" fill="#111"/>
<line x1="347.40" y1="178.50" x2="358.20" y2="178.50" stroke="#111" stroke-width="1.3" />
<polygon points="352.80,175.54 355.44,180.37 350.16,180.37" fill="#111"/>
<text x="363.80" y="181.10" font-size="8.4" font-weight="bold" font-style="normal" text-anchor="start" fill="#111" >Control</text>
<line x1="347.40" y1="190.00" x2="358.20" y2="190.00" stroke="#3a58a8" stroke-width="1.3" />
<circle cx="352.80" cy="190.00" r="2.28" fill="#3a58a8"/>
<text x="363.8" y="193" font-size="8.5" font-weight="bold" fill="#111" letter-spacing="0.3">Th17<tspan dy="-3.6" font-size="6" letter-spacing="0">TGF&#946;1</tspan></text>
<line x1="347.40" y1="202.00" x2="358.20" y2="202.00" stroke="#e3292f" stroke-width="1.3" />
<rect x="350.50" y="199.70" width="4.60" height="4.60" fill="#e3292f"/>
<text x="363.8" y="204.8" font-size="8.5" font-weight="bold" fill="#111" letter-spacing="0.3">Th17<tspan dy="-3.6" font-size="6" letter-spacing="0">IL1&#946;+TGF&#946;</tspan></text>
<polygon points="35,190.4 291,199.6 291,200.8 35,200.8" fill="#111"/>
<text x="152.00" y="190.20" font-size="11.5" font-weight="bold" font-style="normal" text-anchor="middle" fill="#111" >TGF&#946;</text>
<text x="41.20" y="210.70" font-size="10.5" font-weight="normal" font-style="normal" text-anchor="start" fill="#111" textLength="37.6" lengthAdjust="spacingAndGlyphs">3 ng/mL</text>
<text x="94.50" y="210.70" font-size="10.5" font-weight="normal" font-style="normal" text-anchor="start" fill="#111" textLength="36.0" lengthAdjust="spacingAndGlyphs">1 ng/mL</text>
<text x="140.80" y="210.70" font-size="10.5" font-weight="normal" font-style="normal" text-anchor="start" fill="#111" textLength="45.0" lengthAdjust="spacingAndGlyphs">0.5 ng/mL</text>
<text x="191.00" y="210.70" font-size="10.5" font-weight="normal" font-style="normal" text-anchor="start" fill="#111" textLength="51.9" lengthAdjust="spacingAndGlyphs">0.25 ng/mL</text>
<text x="249.00" y="210.70" font-size="10.5" font-weight="normal" font-style="normal" text-anchor="start" fill="#111" textLength="36.0" lengthAdjust="spacingAndGlyphs">0 ng/mL</text>
<rect x="33.8" y="215.8" width="51.60000000000001" height="62.5" fill="#fff" stroke="#ddd" stroke-width="0.8"/>
<rect x="86.9" y="215.8" width="49.5" height="62.5" fill="#fff" stroke="#ddd" stroke-width="0.8"/>
<rect x="138.4" y="215.8" width="50.400000000000006" height="62.5" fill="#fff" stroke="#ddd" stroke-width="0.8"/>
<rect x="189.6" y="215.8" width="50.80000000000001" height="61.89999999999998" fill="#fff" stroke="#888" stroke-width="0.8"/>
<rect x="241.9" y="215.8" width="49.99999999999997" height="61.599999999999966" fill="#fff" stroke="#ccc" stroke-width="0.8"/>
<g filter="url(#bl)"><path d="M68.50,239.20 C69.77,239.12 70.78,239.50 71.40,240.70 C72.02,241.90 72.22,244.35 72.20,246.40 C72.18,248.45 71.70,250.90 71.30,253.00 C70.90,255.10 70.35,257.08 69.80,259.00 C69.25,260.92 68.63,262.97 68.00,264.50 C67.37,266.03 66.70,267.65 66.00,268.20 C65.30,268.75 64.55,268.50 63.80,267.80 C63.05,267.10 62.37,265.38 61.50,264.00 C60.63,262.62 59.50,260.98 58.60,259.50 C57.70,258.02 56.38,256.52 56.10,255.10 C55.82,253.68 56.33,252.52 56.90,251.00 C57.47,249.48 58.35,247.63 59.50,246.00 C60.65,244.37 62.30,242.33 63.80,241.20 C65.30,240.07 67.23,239.28 68.50,239.20 Z" fill="#1c2b8c"/><path d="M67.93,241.61 C68.99,241.58 69.76,241.88 70.35,242.79 C70.93,243.71 71.27,245.41 71.44,247.11 C71.60,248.81 71.65,251.09 71.33,253.00 C71.01,254.92 70.14,256.99 69.51,258.60 C68.89,260.22 68.19,261.58 67.58,262.69 C66.97,263.80 66.45,264.89 65.87,265.27 C65.28,265.66 64.71,265.49 64.08,264.99 C63.45,264.49 62.87,263.33 62.08,262.29 C61.29,261.25 60.17,259.99 59.35,258.75 C58.53,257.51 57.41,256.11 57.13,254.84 C56.85,253.58 57.17,252.52 57.67,251.16 C58.16,249.80 59.02,248.05 60.08,246.68 C61.14,245.31 62.72,243.79 64.03,242.95 C65.33,242.10 66.88,241.64 67.93,241.61 Z" fill="#2446c0"/><path d="M67.53,243.34 C68.42,243.35 69.04,243.58 69.58,244.31 C70.12,245.05 70.51,246.30 70.75,247.75 C70.99,249.19 71.29,251.26 71.02,252.99 C70.75,254.72 69.78,256.72 69.15,258.10 C68.52,259.49 67.83,260.45 67.26,261.31 C66.70,262.16 66.27,262.94 65.77,263.23 C65.28,263.51 64.82,263.39 64.28,263.02 C63.74,262.64 63.23,261.81 62.52,260.98 C61.81,260.16 60.77,259.14 60.02,258.08 C59.28,257.02 58.32,255.74 58.06,254.61 C57.79,253.49 58.01,252.54 58.44,251.33 C58.86,250.11 59.67,248.50 60.63,247.33 C61.59,246.15 63.05,244.96 64.20,244.29 C65.35,243.63 66.63,243.34 67.53,243.34 Z" fill="#2b62d6"/><path d="M67.17,244.85 C67.93,244.87 68.42,245.06 68.91,245.64 C69.39,246.23 69.80,247.15 70.08,248.37 C70.36,249.59 70.80,251.44 70.58,252.98 C70.36,254.51 69.36,256.38 68.76,257.56 C68.15,258.74 67.49,259.41 66.98,260.06 C66.47,260.72 66.12,261.27 65.69,261.48 C65.27,261.69 64.91,261.60 64.45,261.32 C63.99,261.04 63.55,260.45 62.93,259.80 C62.30,259.15 61.34,258.33 60.68,257.42 C60.01,256.52 59.20,255.37 58.95,254.39 C58.71,253.40 58.85,252.57 59.22,251.50 C59.59,250.43 60.33,248.97 61.18,247.97 C62.04,246.98 63.36,246.04 64.36,245.52 C65.36,245.00 66.41,244.83 67.17,244.85 Z" fill="#3590e0"/><path d="M66.85,246.22 C67.48,246.25 67.87,246.39 68.30,246.86 C68.72,247.32 69.12,247.97 69.41,248.98 C69.70,250.00 70.22,251.63 70.05,252.96 C69.87,254.29 68.89,255.99 68.34,256.98 C67.78,257.97 67.16,258.42 66.71,258.91 C66.26,259.40 65.98,259.77 65.62,259.92 C65.27,260.07 64.99,260.01 64.60,259.81 C64.21,259.60 63.85,259.20 63.30,258.69 C62.75,258.19 61.90,257.53 61.32,256.78 C60.74,256.02 60.06,255.02 59.84,254.17 C59.62,253.31 59.70,252.59 60.02,251.67 C60.33,250.74 60.99,249.46 61.74,248.62 C62.49,247.79 63.65,247.06 64.51,246.66 C65.36,246.26 66.22,246.18 66.85,246.22 Z" fill="#42bde6"/><path d="M66.55,247.47 C67.07,247.51 67.37,247.62 67.73,247.97 C68.10,248.33 68.47,248.77 68.75,249.60 C69.03,250.43 69.58,251.81 69.43,252.94 C69.29,254.07 68.39,255.56 67.89,256.37 C67.40,257.18 66.85,257.46 66.46,257.81 C66.07,258.17 65.85,258.41 65.56,258.51 C65.27,258.61 65.05,258.58 64.74,258.43 C64.42,258.29 64.12,258.03 63.66,257.64 C63.19,257.26 62.45,256.75 61.96,256.14 C61.47,255.52 60.91,254.66 60.72,253.94 C60.53,253.23 60.57,252.62 60.83,251.84 C61.09,251.06 61.66,249.96 62.30,249.28 C62.93,248.60 63.94,248.05 64.65,247.75 C65.36,247.45 66.04,247.43 66.55,247.47 Z" fill="#55c9a8"/><path d="M66.28,248.64 C66.68,248.68 66.90,248.76 67.21,249.02 C67.51,249.28 67.83,249.56 68.09,250.21 C68.35,250.86 68.86,251.99 68.75,252.92 C68.64,253.84 67.85,255.09 67.43,255.73 C67.01,256.38 66.54,256.52 66.22,256.77 C65.89,257.02 65.73,257.15 65.50,257.22 C65.28,257.29 65.11,257.27 64.86,257.17 C64.61,257.07 64.37,256.92 64.00,256.64 C63.62,256.36 63.00,255.98 62.60,255.50 C62.20,255.01 61.76,254.30 61.60,253.72 C61.44,253.15 61.45,252.65 61.66,252.02 C61.87,251.39 62.34,250.48 62.86,249.94 C63.38,249.40 64.21,249.01 64.78,248.79 C65.35,248.57 65.88,248.60 66.28,248.64 Z" fill="#7cc84a"/><path d="M66.02,249.73 C66.32,249.76 66.48,249.82 66.71,250.00 C66.94,250.19 67.21,250.35 67.43,250.83 C67.64,251.31 68.09,252.18 68.01,252.89 C67.93,253.60 67.29,254.59 66.95,255.07 C66.61,255.55 66.24,255.61 65.98,255.77 C65.73,255.93 65.61,255.99 65.45,256.03 C65.28,256.07 65.17,256.06 64.98,256.00 C64.79,255.94 64.61,255.87 64.32,255.68 C64.04,255.48 63.55,255.22 63.25,254.85 C62.94,254.49 62.60,253.95 62.48,253.50 C62.36,253.06 62.35,252.68 62.51,252.20 C62.67,251.72 63.03,251.01 63.43,250.61 C63.83,250.21 64.48,249.94 64.91,249.80 C65.34,249.65 65.72,249.69 66.02,249.73 Z" fill="#bcd636"/><path d="M65.78,250.74 C65.99,250.77 66.08,250.80 66.25,250.92 C66.41,251.04 66.60,251.12 66.76,251.45 C66.92,251.77 67.25,252.38 67.19,252.86 C67.14,253.35 66.68,254.05 66.44,254.37 C66.20,254.69 65.94,254.71 65.76,254.81 C65.59,254.91 65.51,254.93 65.40,254.95 C65.29,254.98 65.21,254.97 65.09,254.94 C64.96,254.90 64.84,254.87 64.64,254.75 C64.44,254.63 64.10,254.45 63.89,254.21 C63.68,253.96 63.45,253.59 63.37,253.28 C63.28,252.98 63.27,252.72 63.38,252.39 C63.49,252.06 63.74,251.57 64.02,251.30 C64.29,251.03 64.74,250.86 65.04,250.76 C65.33,250.67 65.58,250.71 65.78,250.74 Z" fill="#f0dc20"/><path d="M65.56,251.69 C65.67,251.71 65.72,251.72 65.81,251.79 C65.90,251.85 66.00,251.90 66.09,252.07 C66.17,252.25 66.35,252.57 66.32,252.83 C66.29,253.10 66.04,253.47 65.91,253.65 C65.79,253.82 65.64,253.83 65.55,253.88 C65.46,253.93 65.41,253.95 65.35,253.96 C65.29,253.97 65.25,253.97 65.19,253.95 C65.12,253.93 65.05,253.91 64.94,253.85 C64.84,253.78 64.66,253.69 64.54,253.56 C64.43,253.43 64.31,253.22 64.26,253.06 C64.21,252.90 64.21,252.76 64.27,252.58 C64.32,252.40 64.46,252.14 64.61,251.99 C64.76,251.85 65.00,251.75 65.16,251.70 C65.32,251.65 65.45,251.68 65.56,251.69 Z" fill="#f09020"/></g>
<g filter="url(#bl)"><path d="M115.50,235.90 C117.07,235.38 117.88,235.97 118.70,236.60 C119.52,237.23 120.00,238.15 120.40,239.70 C120.80,241.25 121.10,243.37 121.10,245.90 C121.10,248.43 120.87,252.58 120.40,254.90 C119.93,257.22 119.57,258.53 118.30,259.80 C117.03,261.07 114.53,262.38 112.80,262.50 C111.07,262.62 109.63,261.42 107.90,260.50 C106.17,259.58 103.95,258.38 102.40,257.00 C100.85,255.62 99.23,253.93 98.60,252.20 C97.97,250.47 97.97,247.98 98.60,246.60 C99.23,245.22 100.62,245.05 102.40,243.90 C104.18,242.75 107.12,241.03 109.30,239.70 C111.48,238.37 113.93,236.42 115.50,235.90 Z" fill="#1c2b8c"/><path d="M115.31,237.70 C116.69,237.32 117.32,237.81 118.05,238.31 C118.79,238.81 119.22,239.42 119.70,240.69 C120.19,241.96 120.92,243.66 120.97,245.95 C121.01,248.24 120.50,252.39 119.96,254.45 C119.43,256.51 118.91,257.32 117.75,258.29 C116.60,259.26 114.50,260.20 113.02,260.26 C111.54,260.32 110.32,259.43 108.87,258.65 C107.42,257.87 105.59,256.78 104.35,255.60 C103.10,254.41 101.89,252.98 101.39,251.54 C100.89,250.09 100.90,248.10 101.35,246.93 C101.80,245.77 102.68,245.62 104.09,244.56 C105.49,243.50 107.91,241.71 109.78,240.57 C111.65,239.42 113.94,238.08 115.31,237.70 Z" fill="#2446c0"/><path d="M115.17,239.13 C116.38,238.83 116.89,239.25 117.54,239.66 C118.20,240.07 118.58,240.50 119.08,241.57 C119.58,242.65 120.48,244.05 120.54,246.11 C120.60,248.17 119.99,252.09 119.45,253.92 C118.91,255.74 118.35,256.28 117.30,257.05 C116.26,257.83 114.47,258.55 113.19,258.58 C111.91,258.61 110.85,257.91 109.61,257.24 C108.38,256.57 106.83,255.59 105.79,254.56 C104.75,253.53 103.80,252.29 103.39,251.06 C102.98,249.83 102.99,248.17 103.33,247.18 C103.67,246.18 104.27,246.04 105.42,245.08 C106.57,244.11 108.62,242.39 110.25,241.40 C111.87,240.41 113.95,239.42 115.17,239.13 Z" fill="#2b62d6"/><path d="M115.03,240.43 C116.09,240.21 116.50,240.56 117.08,240.90 C117.65,241.23 117.99,241.53 118.47,242.43 C118.96,243.34 119.93,244.50 120.00,246.32 C120.07,248.14 119.41,251.75 118.90,253.35 C118.38,254.95 117.81,255.28 116.89,255.90 C115.96,256.52 114.44,257.06 113.34,257.07 C112.24,257.08 111.33,256.54 110.28,255.96 C109.24,255.39 107.93,254.52 107.07,253.64 C106.21,252.75 105.46,251.69 105.13,250.65 C104.79,249.61 104.80,248.24 105.06,247.39 C105.31,246.54 105.70,246.41 106.65,245.56 C107.59,244.70 109.31,243.09 110.71,242.24 C112.11,241.38 113.97,240.66 115.03,240.43 Z" fill="#3590e0"/><path d="M114.90,241.67 C115.81,241.50 116.14,241.80 116.63,242.07 C117.13,242.33 117.42,242.53 117.88,243.28 C118.33,244.03 119.30,244.97 119.37,246.55 C119.44,248.13 118.80,251.37 118.31,252.75 C117.83,254.12 117.29,254.31 116.49,254.80 C115.68,255.29 114.41,255.69 113.48,255.68 C112.55,255.68 111.78,255.26 110.91,254.78 C110.03,254.29 108.95,253.54 108.25,252.79 C107.54,252.04 106.96,251.15 106.69,250.28 C106.42,249.41 106.44,248.29 106.62,247.58 C106.81,246.86 107.05,246.76 107.81,246.01 C108.57,245.26 110.00,243.80 111.18,243.08 C112.36,242.35 114.00,241.84 114.90,241.67 Z" fill="#42bde6"/><path d="M114.78,242.86 C115.54,242.74 115.79,242.98 116.21,243.19 C116.63,243.40 116.87,243.52 117.28,244.13 C117.69,244.73 118.60,245.48 118.67,246.81 C118.74,248.15 118.14,250.97 117.71,252.12 C117.28,253.27 116.78,253.35 116.10,253.73 C115.41,254.11 114.38,254.39 113.61,254.38 C112.85,254.37 112.21,254.05 111.49,253.65 C110.78,253.26 109.90,252.62 109.34,252.00 C108.78,251.38 108.34,250.65 108.13,249.94 C107.92,249.23 107.93,248.34 108.06,247.75 C108.19,247.17 108.32,247.08 108.92,246.44 C109.51,245.80 110.68,244.52 111.65,243.93 C112.63,243.33 114.02,242.98 114.78,242.86 Z" fill="#55c9a8"/><path d="M114.66,244.00 C115.28,243.92 115.46,244.11 115.80,244.27 C116.14,244.43 116.34,244.49 116.69,244.97 C117.04,245.44 117.85,246.02 117.92,247.10 C117.98,248.18 117.44,250.54 117.07,251.47 C116.71,252.40 116.28,252.41 115.72,252.69 C115.16,252.96 114.35,253.16 113.74,253.14 C113.13,253.12 112.62,252.90 112.06,252.58 C111.50,252.27 110.81,251.75 110.38,251.25 C109.94,250.76 109.63,250.18 109.46,249.62 C109.30,249.07 109.31,248.38 109.40,247.92 C109.49,247.45 109.53,247.38 109.99,246.86 C110.44,246.34 111.35,245.26 112.13,244.79 C112.91,244.31 114.05,244.09 114.66,244.00 Z" fill="#7cc84a"/><path d="M114.55,245.12 C115.01,245.06 115.15,245.20 115.40,245.32 C115.66,245.43 115.81,245.46 116.10,245.81 C116.38,246.15 117.05,246.57 117.11,247.40 C117.16,248.24 116.71,250.08 116.42,250.79 C116.13,251.50 115.78,251.47 115.35,251.66 C114.92,251.86 114.31,251.98 113.85,251.96 C113.40,251.94 113.01,251.79 112.60,251.55 C112.18,251.32 111.67,250.92 111.36,250.55 C111.04,250.18 110.83,249.74 110.71,249.33 C110.59,248.91 110.60,248.41 110.66,248.07 C110.71,247.72 110.71,247.67 111.03,247.27 C111.36,246.86 112.03,246.01 112.62,245.66 C113.20,245.30 114.08,245.17 114.55,245.12 Z" fill="#bcd636"/><path d="M114.44,246.20 C114.75,246.17 114.84,246.26 115.02,246.34 C115.19,246.41 115.30,246.42 115.50,246.66 C115.70,246.89 116.18,247.17 116.22,247.74 C116.26,248.31 115.94,249.60 115.73,250.08 C115.53,250.57 115.28,250.53 114.98,250.65 C114.69,250.78 114.28,250.85 113.97,250.84 C113.66,250.82 113.40,250.73 113.11,250.57 C112.83,250.41 112.49,250.13 112.28,249.88 C112.07,249.63 111.94,249.33 111.86,249.05 C111.78,248.78 111.79,248.44 111.82,248.21 C111.85,247.98 111.83,247.94 112.05,247.66 C112.26,247.38 112.71,246.79 113.11,246.55 C113.51,246.30 114.12,246.24 114.44,246.20 Z" fill="#f0dc20"/><path d="M114.33,247.26 C114.50,247.24 114.54,247.30 114.64,247.34 C114.74,247.38 114.79,247.38 114.90,247.51 C115.01,247.63 115.27,247.78 115.29,248.09 C115.31,248.40 115.14,249.09 115.03,249.35 C114.91,249.61 114.78,249.59 114.62,249.66 C114.46,249.73 114.24,249.77 114.07,249.76 C113.91,249.75 113.77,249.70 113.62,249.61 C113.46,249.53 113.28,249.38 113.17,249.24 C113.06,249.11 112.98,248.95 112.94,248.80 C112.90,248.65 112.90,248.47 112.92,248.34 C112.94,248.22 112.93,248.20 113.04,248.05 C113.16,247.90 113.40,247.58 113.61,247.45 C113.83,247.32 114.16,247.28 114.33,247.26 Z" fill="#f09020"/></g>
<g filter="url(#bl)"><path d="M166.90,235.20 C168.52,234.97 169.50,234.63 170.30,235.50 C171.10,236.37 171.35,238.32 171.70,240.40 C172.05,242.48 172.52,245.47 172.40,248.00 C172.28,250.53 171.82,253.63 171.00,255.60 C170.18,257.57 168.65,258.98 167.50,259.80 C166.35,260.62 165.70,260.62 164.10,260.50 C162.50,260.38 159.98,259.80 157.90,259.10 C155.82,258.40 153.17,257.68 151.60,256.30 C150.03,254.92 148.97,252.42 148.50,250.80 C148.03,249.18 148.17,248.10 148.80,246.60 C149.43,245.10 150.33,243.42 152.30,241.80 C154.27,240.18 158.17,238.00 160.60,236.90 C163.03,235.80 165.28,235.43 166.90,235.20 Z" fill="#1c2b8c"/><path d="M166.48,236.95 C167.85,236.83 168.53,236.70 169.27,237.38 C170.00,238.07 170.45,239.33 170.89,241.09 C171.33,242.84 172.05,245.71 171.91,247.93 C171.77,250.15 170.90,252.80 170.06,254.40 C169.23,256.00 167.90,256.92 166.90,257.52 C165.91,258.13 165.42,258.16 164.10,258.05 C162.78,257.95 160.68,257.50 159.01,256.89 C157.35,256.28 155.35,255.53 154.13,254.37 C152.92,253.22 152.11,251.26 151.73,249.97 C151.35,248.68 151.42,247.86 151.84,246.64 C152.26,245.42 152.72,244.05 154.25,242.63 C155.79,241.20 158.99,239.05 161.02,238.10 C163.06,237.15 165.10,237.07 166.48,236.95 Z" fill="#2446c0"/><path d="M166.12,238.42 C167.29,238.36 167.79,238.32 168.44,238.89 C169.10,239.45 169.59,240.31 170.04,241.79 C170.49,243.28 171.27,245.89 171.14,247.82 C171.00,249.74 170.00,252.01 169.22,253.33 C168.44,254.66 167.30,255.29 166.44,255.76 C165.59,256.23 165.20,256.27 164.10,256.17 C163.00,256.08 161.22,255.73 159.87,255.20 C158.51,254.67 156.93,253.95 155.96,252.99 C154.99,252.02 154.35,250.43 154.03,249.38 C153.71,248.33 153.75,247.68 154.05,246.67 C154.35,245.65 154.59,244.53 155.82,243.29 C157.05,242.05 159.71,240.06 161.43,239.25 C163.15,238.44 164.95,238.48 166.12,238.42 Z" fill="#2b62d6"/><path d="M165.79,239.81 C166.76,239.79 167.12,239.82 167.68,240.27 C168.25,240.72 168.75,241.29 169.17,242.53 C169.60,243.76 170.37,246.06 170.24,247.69 C170.11,249.32 169.11,251.21 168.41,252.29 C167.70,253.37 166.74,253.79 166.02,254.15 C165.31,254.52 165.00,254.55 164.10,254.47 C163.20,254.39 161.73,254.12 160.64,253.67 C159.54,253.22 158.32,252.58 157.55,251.78 C156.78,250.98 156.28,249.72 156.02,248.87 C155.76,248.02 155.78,247.52 155.98,246.69 C156.19,245.87 156.28,244.95 157.26,243.90 C158.23,242.85 160.42,241.08 161.84,240.40 C163.26,239.72 164.81,239.84 165.79,239.81 Z" fill="#3590e0"/><path d="M165.46,241.16 C166.25,241.17 166.50,241.23 166.97,241.58 C167.44,241.93 167.90,242.29 168.28,243.28 C168.66,244.27 169.37,246.21 169.25,247.54 C169.14,248.88 168.20,250.41 167.60,251.26 C167.00,252.11 166.21,252.38 165.63,252.65 C165.05,252.92 164.81,252.96 164.10,252.89 C163.39,252.83 162.20,252.62 161.35,252.25 C160.50,251.88 159.57,251.33 158.98,250.69 C158.39,250.05 158.02,249.07 157.81,248.41 C157.60,247.75 157.61,247.37 157.74,246.72 C157.88,246.06 157.88,245.34 158.63,244.48 C159.38,243.62 161.11,242.11 162.25,241.56 C163.39,241.01 164.67,241.16 165.46,241.16 Z" fill="#42bde6"/><path d="M165.14,242.49 C165.74,242.50 165.91,242.57 166.28,242.83 C166.65,243.10 167.04,243.30 167.36,244.05 C167.68,244.81 168.28,246.36 168.18,247.39 C168.09,248.42 167.29,249.60 166.80,250.24 C166.31,250.88 165.71,251.03 165.26,251.22 C164.81,251.41 164.64,251.45 164.10,251.39 C163.56,251.34 162.66,251.19 162.03,250.91 C161.40,250.62 160.73,250.17 160.30,249.69 C159.87,249.20 159.60,248.49 159.44,247.99 C159.29,247.50 159.28,247.23 159.36,246.74 C159.45,246.25 159.39,245.71 159.94,245.04 C160.49,244.37 161.80,243.16 162.66,242.73 C163.53,242.31 164.54,242.47 165.14,242.49 Z" fill="#55c9a8"/><path d="M164.83,243.79 C165.25,243.81 165.34,243.87 165.61,244.05 C165.87,244.23 166.18,244.32 166.41,244.85 C166.65,245.38 167.11,246.50 167.04,247.22 C166.97,247.95 166.35,248.78 166.00,249.22 C165.64,249.66 165.21,249.73 164.90,249.85 C164.58,249.98 164.47,250.00 164.10,249.97 C163.73,249.93 163.10,249.83 162.67,249.63 C162.24,249.43 161.81,249.10 161.52,248.76 C161.23,248.42 161.06,247.94 160.95,247.61 C160.84,247.27 160.83,247.10 160.88,246.76 C160.92,246.42 160.85,246.05 161.22,245.58 C161.58,245.11 162.48,244.23 163.08,243.93 C163.69,243.63 164.41,243.77 164.83,243.79 Z" fill="#7cc84a"/><path d="M164.51,245.08 C164.75,245.09 164.81,245.13 164.96,245.23 C165.11,245.33 165.28,245.39 165.42,245.69 C165.56,245.99 165.81,246.63 165.78,247.04 C165.74,247.46 165.38,247.93 165.18,248.18 C164.98,248.43 164.74,248.47 164.56,248.54 C164.38,248.61 164.31,248.63 164.10,248.60 C163.89,248.58 163.53,248.53 163.29,248.41 C163.04,248.30 162.79,248.11 162.63,247.92 C162.47,247.73 162.36,247.45 162.30,247.26 C162.24,247.07 162.24,246.97 162.26,246.78 C162.29,246.58 162.25,246.37 162.46,246.10 C162.67,245.83 163.18,245.33 163.52,245.16 C163.86,244.99 164.27,245.07 164.51,245.08 Z" fill="#bcd636"/></g>
<g filter="url(#bl)"><path d="M214.10,235.20 C215.83,234.92 215.87,235.15 216.90,235.90 C217.93,236.65 219.62,238.15 220.30,239.70 C220.98,241.25 221.35,243.23 221.00,245.20 C220.65,247.17 219.23,249.77 218.20,251.50 C217.17,253.23 216.18,254.40 214.80,255.60 C213.42,256.80 211.05,258.23 209.90,258.70 C208.75,259.17 209.05,259.03 207.90,258.40 C206.75,257.77 204.45,256.17 203.00,254.90 C201.55,253.63 199.83,252.30 199.20,250.80 C198.57,249.30 198.68,247.52 199.20,245.90 C199.72,244.28 201.08,242.48 202.30,241.10 C203.52,239.72 204.53,238.58 206.50,237.60 C208.47,236.62 212.37,235.48 214.10,235.20 Z" fill="#1c2b8c"/><path d="M213.68,236.91 C215.13,236.73 215.09,236.96 215.94,237.58 C216.79,238.20 218.19,239.36 218.79,240.63 C219.40,241.89 219.85,243.52 219.59,245.17 C219.33,246.82 218.14,249.15 217.24,250.54 C216.34,251.93 215.33,252.70 214.18,253.50 C213.04,254.29 211.24,255.03 210.35,255.29 C209.46,255.55 209.73,255.51 208.85,255.05 C207.97,254.59 206.17,253.48 205.08,252.53 C203.99,251.59 202.81,250.50 202.30,249.36 C201.80,248.22 201.77,246.96 202.05,245.69 C202.33,244.43 203.10,242.96 203.96,241.79 C204.83,240.62 205.62,239.47 207.24,238.66 C208.86,237.85 212.23,237.09 213.68,236.91 Z" fill="#2446c0"/><path d="M213.31,238.43 C214.49,238.31 214.42,238.52 215.12,239.02 C215.81,239.52 216.94,240.43 217.46,241.45 C217.98,242.47 218.41,243.78 218.21,245.14 C218.02,246.50 217.04,248.47 216.28,249.58 C215.53,250.69 214.62,251.23 213.68,251.78 C212.75,252.33 211.36,252.73 210.67,252.87 C209.97,253.02 210.20,253.02 209.52,252.67 C208.84,252.33 207.43,251.54 206.59,250.81 C205.75,250.09 204.91,249.22 204.51,248.34 C204.11,247.46 204.03,246.53 204.18,245.54 C204.34,244.55 204.79,243.37 205.43,242.40 C206.06,241.43 206.69,240.40 208.00,239.74 C209.32,239.08 212.12,238.55 213.31,238.43 Z" fill="#2b62d6"/><path d="M212.95,239.91 C213.87,239.83 213.80,240.00 214.33,240.39 C214.87,240.78 215.75,241.46 216.16,242.25 C216.58,243.03 216.96,244.05 216.81,245.11 C216.67,246.17 215.90,247.76 215.30,248.60 C214.70,249.45 213.94,249.81 213.21,250.18 C212.49,250.55 211.46,250.72 210.94,250.80 C210.42,250.87 210.61,250.89 210.10,250.64 C209.60,250.39 208.53,249.84 207.91,249.31 C207.29,248.78 206.71,248.11 206.40,247.46 C206.10,246.81 206.00,246.15 206.08,245.40 C206.15,244.66 206.39,243.74 206.84,242.99 C207.30,242.23 207.77,241.36 208.78,240.85 C209.80,240.34 212.02,239.98 212.95,239.91 Z" fill="#3590e0"/><path d="M212.59,241.37 C213.25,241.32 213.19,241.45 213.57,241.73 C213.95,242.01 214.58,242.48 214.88,243.04 C215.19,243.60 215.49,244.32 215.39,245.08 C215.29,245.84 214.74,247.01 214.30,247.60 C213.87,248.20 213.29,248.42 212.77,248.65 C212.25,248.87 211.54,248.91 211.18,248.94 C210.82,248.97 210.96,249.00 210.61,248.83 C210.27,248.67 209.52,248.32 209.10,247.96 C208.68,247.60 208.31,247.12 208.10,246.67 C207.88,246.23 207.79,245.80 207.81,245.28 C207.84,244.76 207.94,244.11 208.24,243.56 C208.54,243.02 208.86,242.36 209.59,241.99 C210.31,241.63 211.93,241.41 212.59,241.37 Z" fill="#42bde6"/><path d="M212.23,242.84 C212.62,242.82 212.58,242.90 212.81,243.06 C213.03,243.23 213.41,243.50 213.59,243.83 C213.77,244.17 213.95,244.59 213.90,245.05 C213.84,245.50 213.51,246.20 213.25,246.55 C212.99,246.90 212.64,247.03 212.33,247.16 C212.02,247.29 211.61,247.30 211.40,247.31 C211.18,247.33 211.27,247.34 211.06,247.25 C210.86,247.15 210.42,246.95 210.17,246.74 C209.93,246.53 209.71,246.24 209.59,245.98 C209.46,245.72 209.40,245.47 209.41,245.16 C209.42,244.86 209.47,244.47 209.65,244.15 C209.82,243.82 210.01,243.43 210.44,243.21 C210.87,242.99 211.83,242.87 212.23,242.84 Z" fill="#55c9a8"/></g>
<g filter="url(#bl)"><path d="M265.40,235.20 C267.00,234.73 268.40,234.52 269.50,234.80 C270.60,235.08 271.42,235.62 272.00,236.90 C272.58,238.18 272.88,240.53 273.00,242.50 C273.12,244.47 273.05,246.87 272.70,248.70 C272.35,250.53 271.65,252.12 270.90,253.50 C270.15,254.88 269.23,256.25 268.20,257.00 C267.17,257.75 265.98,257.93 264.70,258.00 C263.42,258.07 262.00,257.92 260.50,257.40 C259.00,256.88 257.08,256.00 255.70,254.90 C254.32,253.80 252.90,252.53 252.20,250.80 C251.50,249.07 251.27,246.00 251.50,244.50 C251.73,243.00 252.20,242.95 253.60,241.80 C255.00,240.65 257.93,238.70 259.90,237.60 C261.87,236.50 263.80,235.67 265.40,235.20 Z" fill="#1c2b8c"/><path d="M265.44,236.54 C266.82,236.20 267.94,236.20 268.88,236.46 C269.82,236.72 270.46,237.07 271.06,238.10 C271.67,239.14 272.33,240.95 272.52,242.67 C272.70,244.39 272.57,246.82 272.18,248.42 C271.78,250.03 270.91,251.25 270.17,252.30 C269.42,253.35 268.60,254.22 267.73,254.73 C266.85,255.24 265.93,255.36 264.90,255.38 C263.88,255.39 262.75,255.26 261.58,254.82 C260.41,254.39 258.92,253.65 257.86,252.76 C256.80,251.87 255.77,250.86 255.22,249.50 C254.68,248.14 254.48,245.79 254.60,244.61 C254.72,243.43 254.94,243.43 255.94,242.42 C256.95,241.41 259.05,239.51 260.63,238.53 C262.21,237.55 264.07,236.89 265.44,236.54 Z" fill="#2446c0"/><path d="M265.48,237.79 C266.65,237.52 267.57,237.62 268.36,237.85 C269.16,238.08 269.67,238.32 270.24,239.17 C270.81,240.01 271.57,241.44 271.77,242.92 C271.97,244.40 271.82,246.65 271.44,248.03 C271.06,249.41 270.18,250.38 269.50,251.21 C268.82,252.03 268.10,252.61 267.36,252.99 C266.62,253.36 265.88,253.44 265.05,253.43 C264.22,253.42 263.31,253.31 262.37,252.94 C261.43,252.58 260.25,251.95 259.41,251.23 C258.57,250.50 257.78,249.68 257.35,248.59 C256.91,247.50 256.74,245.64 256.80,244.69 C256.86,243.74 256.96,243.76 257.72,242.89 C258.48,242.02 260.05,240.29 261.34,239.44 C262.64,238.59 264.31,238.05 265.48,237.79 Z" fill="#2b62d6"/><path d="M265.52,239.02 C266.49,238.82 267.22,238.96 267.88,239.16 C268.53,239.35 268.93,239.52 269.44,240.19 C269.94,240.87 270.71,241.98 270.91,243.22 C271.10,244.45 270.95,246.44 270.61,247.59 C270.26,248.75 269.44,249.50 268.84,250.14 C268.25,250.77 267.65,251.15 267.04,251.41 C266.43,251.68 265.85,251.73 265.18,251.71 C264.52,251.69 263.80,251.60 263.06,251.30 C262.32,250.99 261.40,250.49 260.75,249.90 C260.10,249.32 259.50,248.67 259.16,247.81 C258.82,246.95 258.68,245.50 258.70,244.75 C258.73,244.00 258.75,244.04 259.31,243.31 C259.87,242.58 261.03,241.08 262.06,240.36 C263.10,239.65 264.55,239.22 265.52,239.02 Z" fill="#3590e0"/><path d="M265.55,240.25 C266.32,240.10 266.89,240.26 267.41,240.42 C267.92,240.58 268.23,240.68 268.65,241.20 C269.08,241.72 269.78,242.56 269.95,243.54 C270.13,244.53 269.99,246.19 269.70,247.11 C269.40,248.03 268.69,248.60 268.19,249.07 C267.70,249.55 267.21,249.77 266.73,249.95 C266.25,250.13 265.81,250.16 265.30,250.14 C264.80,250.11 264.25,250.04 263.69,249.80 C263.13,249.56 262.43,249.16 261.95,248.72 C261.46,248.27 261.03,247.77 260.78,247.11 C260.52,246.46 260.40,245.38 260.41,244.81 C260.41,244.24 260.38,244.28 260.78,243.70 C261.18,243.11 262.00,241.87 262.80,241.30 C263.59,240.72 264.79,240.39 265.55,240.25 Z" fill="#42bde6"/><path d="M265.59,241.48 C266.16,241.38 266.57,241.53 266.95,241.65 C267.33,241.77 267.54,241.83 267.87,242.20 C268.20,242.58 268.78,243.16 268.93,243.90 C269.07,244.63 268.96,245.91 268.72,246.60 C268.49,247.28 267.92,247.68 267.54,248.01 C267.16,248.34 266.80,248.46 266.44,248.57 C266.09,248.68 265.78,248.70 265.42,248.67 C265.05,248.65 264.66,248.59 264.27,248.42 C263.87,248.24 263.38,247.95 263.04,247.63 C262.71,247.31 262.42,246.95 262.24,246.49 C262.05,246.03 261.97,245.27 261.96,244.87 C261.95,244.46 261.90,244.50 262.16,244.06 C262.43,243.63 262.97,242.68 263.54,242.25 C264.11,241.82 265.02,241.58 265.59,241.48 Z" fill="#55c9a8"/><path d="M265.63,242.76 C265.99,242.70 266.25,242.79 266.49,242.87 C266.73,242.95 266.87,242.98 267.08,243.22 C267.29,243.46 267.67,243.83 267.76,244.29 C267.85,244.76 267.78,245.58 267.63,246.02 C267.48,246.46 267.11,246.71 266.87,246.91 C266.63,247.12 266.40,247.20 266.17,247.26 C265.95,247.33 265.75,247.35 265.52,247.33 C265.29,247.31 265.04,247.28 264.79,247.17 C264.54,247.06 264.23,246.87 264.02,246.67 C263.80,246.46 263.62,246.23 263.51,245.94 C263.39,245.65 263.34,245.17 263.33,244.92 C263.32,244.66 263.29,244.68 263.46,244.41 C263.62,244.13 263.96,243.52 264.33,243.25 C264.69,242.97 265.27,242.82 265.63,242.76 Z" fill="#7cc84a"/></g>
<rect x="87.2" y="240" width="1.1" height="22" rx="0.55" fill="#2a46a8"/>
<rect x="138.6" y="237" width="1.1" height="26" rx="0.55" fill="#3a70c8"/>
<rect x="190.3" y="236" width="1.1" height="32" rx="0.55" fill="#4a90d0"/>
<rect x="242.6" y="235" width="1.1" height="30" rx="0.55" fill="#4a98d8"/>
<rect x="59" y="276.7" width="11" height="1.4" rx="0.7" fill="#2a4cb0"/>
<rect x="106" y="276.7" width="11.5" height="1.4" rx="0.7" fill="#2a4cb0"/>
<rect x="157" y="276.7" width="5" height="1.4" rx="0.7" fill="#2a4cb0"/>
<rect x="164" y="276.7" width="5" height="1.4" rx="0.7" fill="#2a4cb0"/>
<rect x="206" y="276.90000000000003" width="3" height="1.4" rx="0.7" fill="#2a4cb0"/>
<rect x="211" y="276.90000000000003" width="2" height="1.4" rx="0.7" fill="#2a4cb0"/>
<line x1="63.00" y1="215.80" x2="63.00" y2="278.30" stroke="#777" stroke-width="0.9" stroke-opacity="0.8"/>
<line x1="33.80" y1="254.20" x2="85.40" y2="254.20" stroke="#777" stroke-width="0.9" stroke-opacity="0.8"/>
<line x1="114.60" y1="215.80" x2="114.60" y2="278.30" stroke="#777" stroke-width="0.9" stroke-opacity="0.8"/>
<line x1="86.90" y1="253.80" x2="136.40" y2="253.80" stroke="#777" stroke-width="0.9" stroke-opacity="0.8"/>
<line x1="167.30" y1="215.80" x2="167.30" y2="278.30" stroke="#777" stroke-width="0.9" stroke-opacity="0.8"/>
<line x1="138.40" y1="253.80" x2="188.80" y2="253.80" stroke="#777" stroke-width="0.9" stroke-opacity="0.8"/>
<line x1="218.50" y1="215.80" x2="218.50" y2="277.70" stroke="#777" stroke-width="0.9" stroke-opacity="0.8"/>
<line x1="189.60" y1="253.50" x2="240.40" y2="253.50" stroke="#777" stroke-width="0.9" stroke-opacity="0.8"/>
<line x1="270.40" y1="215.80" x2="270.40" y2="277.40" stroke="#777" stroke-width="0.9" stroke-opacity="0.8"/>
<line x1="241.90" y1="253.40" x2="291.90" y2="253.40" stroke="#777" stroke-width="0.9" stroke-opacity="0.8"/>
<text x="34.80" y="225.70" font-size="8.3" font-weight="normal" font-style="normal" text-anchor="start" fill="#1a1a1a" stroke="#1a1a1a" stroke-width="0.15">7.32</text>
<text x="84.80" y="225.70" font-size="8.3" font-weight="normal" font-style="normal" text-anchor="end" fill="#1a1a1a" stroke="#1a1a1a" stroke-width="0.15">58.7</text>
<text x="34.80" y="273.30" font-size="8.3" font-weight="normal" font-style="normal" text-anchor="start" fill="#1a1a1a" stroke="#1a1a1a" stroke-width="0.15">6.04</text>
<text x="84.80" y="273.30" font-size="8.3" font-weight="normal" font-style="normal" text-anchor="end" fill="#1a1a1a" stroke="#1a1a1a" stroke-width="0.15">28.0</text>
<text x="87.90" y="225.70" font-size="8.3" font-weight="normal" font-style="normal" text-anchor="start" fill="#1a1a1a" stroke="#1a1a1a" stroke-width="0.15">59.5</text>
<text x="135.80" y="225.70" font-size="8.3" font-weight="normal" font-style="normal" text-anchor="end" fill="#1a1a1a" stroke="#1a1a1a" stroke-width="0.15">26.9</text>
<text x="87.90" y="273.30" font-size="8.3" font-weight="normal" font-style="normal" text-anchor="start" fill="#1a1a1a" stroke="#1a1a1a" stroke-width="0.15">10.6</text>
<text x="135.80" y="273.30" font-size="8.3" font-weight="normal" font-style="normal" text-anchor="end" fill="#1a1a1a" stroke="#1a1a1a" stroke-width="0.15">3.01</text>
<text x="139.40" y="225.70" font-size="8.3" font-weight="normal" font-style="normal" text-anchor="start" fill="#1a1a1a" stroke="#1a1a1a" stroke-width="0.15">79.5</text>
<text x="188.20" y="225.70" font-size="8.3" font-weight="normal" font-style="normal" text-anchor="end" fill="#1a1a1a" stroke="#1a1a1a" stroke-width="0.15">9.96</text>
<text x="139.40" y="273.30" font-size="8.3" font-weight="normal" font-style="normal" text-anchor="start" fill="#1a1a1a" stroke="#1a1a1a" stroke-width="0.15">9.69</text>
<text x="188.20" y="273.30" font-size="8.3" font-weight="normal" font-style="normal" text-anchor="end" fill="#1a1a1a" stroke="#1a1a1a" stroke-width="0.15">0.84</text>
<text x="190.60" y="225.70" font-size="8.3" font-weight="normal" font-style="normal" text-anchor="start" fill="#1a1a1a" stroke="#1a1a1a" stroke-width="0.15">86.4</text>
<text x="239.80" y="225.70" font-size="8.3" font-weight="normal" font-style="normal" text-anchor="end" fill="#1a1a1a" stroke="#1a1a1a" stroke-width="0.15">0.95</text>
<text x="190.60" y="272.70" font-size="8.3" font-weight="normal" font-style="normal" text-anchor="start" fill="#1a1a1a" stroke="#1a1a1a" stroke-width="0.15">12.6</text>
<text x="239.80" y="272.70" font-size="8.3" font-weight="normal" font-style="normal" text-anchor="end" fill="#1a1a1a" stroke="#1a1a1a" stroke-width="0.15">0.052</text>
<text x="242.90" y="225.70" font-size="8.3" font-weight="normal" font-style="normal" text-anchor="start" fill="#1a1a1a" stroke="#1a1a1a" stroke-width="0.15">87.7</text>
<text x="291.30" y="225.70" font-size="8.3" font-weight="normal" font-style="normal" text-anchor="end" fill="#1a1a1a" stroke="#1a1a1a" stroke-width="0.15">2.96</text>
<text x="242.90" y="272.40" font-size="8.3" font-weight="normal" font-style="normal" text-anchor="start" fill="#1a1a1a" stroke="#1a1a1a" stroke-width="0.15">9.15</text>
<text x="291.30" y="272.40" font-size="8.3" font-weight="normal" font-style="normal" text-anchor="end" fill="#1a1a1a" stroke="#1a1a1a" stroke-width="0.15">0.16</text>
<line x1="31.30" y1="219.00" x2="31.30" y2="249.00" stroke="#111" stroke-width="1.4" />
<polygon points="31.3,217.6 29.0,222.6 33.6,222.6" fill="#111" stroke="#111" stroke-width="1.2" stroke-linejoin="round"/>
<text transform="translate(33.10,262.40) rotate(-90)" font-size="9.3" font-weight="bold" font-style="italic" text-anchor="middle" fill="#111" textLength="25.6" lengthAdjust="spacingAndGlyphs" stroke="#111" stroke-width="0.3">CD39</text>
<text x="30.60" y="287.10" font-size="9.6" font-weight="bold" font-style="italic" text-anchor="start" fill="#111" textLength="25.8" lengthAdjust="spacingAndGlyphs" stroke="#111" stroke-width="0.3">CD73</text>
<rect x="58.5" y="282.7" width="226" height="2.1" fill="#111"/>
<polyline points="281.6,280.4 285.8,283.7 281.6,287.0" fill="none" stroke="#111" stroke-width="2.0" stroke-linejoin="round" stroke-linecap="round"/>
<polygon points="286.2,283.7 282.8,281.5 282.8,285.9" fill="#111"/>
<line x1="45.20" y1="323.90" x2="45.20" y2="421.00" stroke="#111" stroke-width="1.2" />
<line x1="45.20" y1="421.00" x2="191.00" y2="421.00" stroke="#111" stroke-width="1.2" />
<line x1="41.70" y1="421.00" x2="45.20" y2="421.00" stroke="#111" stroke-width="1.2" />
<text transform="translate(40.60,424.10) scale(0.86,1)" font-size="8.9" font-weight="bold" font-style="normal" text-anchor="end" fill="#111" stroke="#111" stroke-width="0.2">0</text>
<line x1="41.70" y1="388.80" x2="45.20" y2="388.80" stroke="#111" stroke-width="1.2" />
<text transform="translate(40.60,391.90) scale(0.86,1)" font-size="8.9" font-weight="bold" font-style="normal" text-anchor="end" fill="#111" stroke="#111" stroke-width="0.2">5</text>
<line x1="41.70" y1="356.60" x2="45.20" y2="356.60" stroke="#111" stroke-width="1.2" />
<text transform="translate(40.60,359.70) scale(0.86,1)" font-size="8.9" font-weight="bold" font-style="normal" text-anchor="end" fill="#111" stroke="#111" stroke-width="0.2">10</text>
<line x1="41.70" y1="324.40" x2="45.20" y2="324.40" stroke="#111" stroke-width="1.2" />
<text transform="translate(40.60,327.50) scale(0.86,1)" font-size="8.9" font-weight="bold" font-style="normal" text-anchor="end" fill="#111" stroke="#111" stroke-width="0.2">15</text>
<text transform="translate(24.80,370.00) rotate(-90)" font-size="7.9" font-weight="bold" font-style="normal" text-anchor="middle" fill="#111" textLength="52.2" lengthAdjust="spacingAndGlyphs">Fold change</text>
<text x="76.00" y="317.40" font-size="10.2" font-weight="bold" font-style="normal" text-anchor="start" fill="#111" >Glycolysis gene</text>
<rect x="49.40" y="415.20" width="4.50" height="5.80" rx="0" fill="#3a56a8" stroke="#111" stroke-width="1.2"/>
<rect x="55.70" y="408.12" width="4.50" height="12.88" rx="0" fill="#e3292f" stroke="#111" stroke-width="1.2"/>
<line x1="64.85" y1="392.02" x2="64.85" y2="395.24" stroke="#111" stroke-width="1.2" />
<line x1="62.85" y1="392.02" x2="66.85" y2="392.02" stroke="#111" stroke-width="1.2" />
<rect x="62.60" y="395.24" width="4.50" height="25.76" rx="0" fill="#6dbd4c" stroke="#111" stroke-width="1.2"/>
<line x1="57.80" y1="421.00" x2="57.80" y2="424.00" stroke="#111" stroke-width="1.1" />
<text transform="translate(62.80,428.60) rotate(-90)" font-size="9.8" font-weight="bold" font-style="normal" text-anchor="end" fill="#111" >Glut1</text>
<rect x="73.50" y="415.20" width="4.50" height="5.80" rx="0" fill="#3a56a8" stroke="#111" stroke-width="1.2"/>
<rect x="79.80" y="409.41" width="4.50" height="11.59" rx="0" fill="#e3292f" stroke="#111" stroke-width="1.2"/>
<line x1="88.95" y1="398.46" x2="88.95" y2="401.04" stroke="#111" stroke-width="1.2" />
<line x1="86.95" y1="398.46" x2="90.95" y2="398.46" stroke="#111" stroke-width="1.2" />
<rect x="86.70" y="401.04" width="4.50" height="19.96" rx="0" fill="#6dbd4c" stroke="#111" stroke-width="1.2"/>
<line x1="81.90" y1="421.00" x2="81.90" y2="424.00" stroke="#111" stroke-width="1.1" />
<text transform="translate(86.90,428.60) rotate(-90)" font-size="9.8" font-weight="bold" font-style="normal" text-anchor="end" fill="#111" >HIF1&#945;</text>
<rect x="97.60" y="415.20" width="4.50" height="5.80" rx="0" fill="#3a56a8" stroke="#111" stroke-width="1.2"/>
<line x1="106.15" y1="388.80" x2="106.15" y2="395.24" stroke="#111" stroke-width="1.2" />
<line x1="104.15" y1="388.80" x2="108.15" y2="388.80" stroke="#111" stroke-width="1.2" />
<rect x="103.90" y="395.24" width="4.50" height="25.76" rx="0" fill="#e3292f" stroke="#111" stroke-width="1.2"/>
<line x1="113.05" y1="363.04" x2="113.05" y2="372.70" stroke="#111" stroke-width="1.2" />
<line x1="111.05" y1="363.04" x2="115.05" y2="363.04" stroke="#111" stroke-width="1.2" />
<rect x="110.80" y="372.70" width="4.50" height="48.30" rx="0" fill="#6dbd4c" stroke="#111" stroke-width="1.2"/>
<line x1="106.00" y1="421.00" x2="106.00" y2="424.00" stroke="#111" stroke-width="1.1" />
<text transform="translate(111.00,428.60) rotate(-90)" font-size="9.8" font-weight="bold" font-style="normal" text-anchor="end" fill="#111" >HK II</text>
<rect x="121.70" y="415.20" width="4.50" height="5.80" rx="0" fill="#3a56a8" stroke="#111" stroke-width="1.2"/>
<line x1="130.25" y1="399.75" x2="130.25" y2="402.32" stroke="#111" stroke-width="1.2" />
<line x1="128.25" y1="399.75" x2="132.25" y2="399.75" stroke="#111" stroke-width="1.2" />
<rect x="128.00" y="402.32" width="4.50" height="18.68" rx="0" fill="#e3292f" stroke="#111" stroke-width="1.2"/>
<line x1="137.15" y1="362.40" x2="137.15" y2="366.90" stroke="#111" stroke-width="1.2" />
<line x1="135.15" y1="362.40" x2="139.15" y2="362.40" stroke="#111" stroke-width="1.2" />
<rect x="134.90" y="366.90" width="4.50" height="54.10" rx="0" fill="#6dbd4c" stroke="#111" stroke-width="1.2"/>
<line x1="130.10" y1="421.00" x2="130.10" y2="424.00" stroke="#111" stroke-width="1.1" />
<text transform="translate(135.10,428.60) rotate(-90)" font-size="9.8" font-weight="bold" font-style="normal" text-anchor="end" fill="#111" >Pfkp</text>
<rect x="145.80" y="415.20" width="4.50" height="5.80" rx="0" fill="#3a56a8" stroke="#111" stroke-width="1.2"/>
<line x1="154.35" y1="404.26" x2="154.35" y2="406.83" stroke="#111" stroke-width="1.2" />
<line x1="152.35" y1="404.26" x2="156.35" y2="404.26" stroke="#111" stroke-width="1.2" />
<rect x="152.10" y="406.83" width="4.50" height="14.17" rx="0" fill="#e3292f" stroke="#111" stroke-width="1.2"/>
<line x1="161.25" y1="388.16" x2="161.25" y2="393.31" stroke="#111" stroke-width="1.2" />
<line x1="159.25" y1="388.16" x2="163.25" y2="388.16" stroke="#111" stroke-width="1.2" />
<rect x="159.00" y="393.31" width="4.50" height="27.69" rx="0" fill="#6dbd4c" stroke="#111" stroke-width="1.2"/>
<line x1="154.20" y1="421.00" x2="154.20" y2="424.00" stroke="#111" stroke-width="1.1" />
<text transform="translate(159.20,428.60) rotate(-90)" font-size="9.8" font-weight="bold" font-style="normal" text-anchor="end" fill="#111" >Pgam1</text>
<rect x="169.90" y="415.20" width="4.50" height="5.80" rx="0" fill="#3a56a8" stroke="#111" stroke-width="1.2"/>
<line x1="178.45" y1="363.68" x2="178.45" y2="366.90" stroke="#111" stroke-width="1.2" />
<line x1="176.45" y1="363.68" x2="180.45" y2="363.68" stroke="#111" stroke-width="1.2" />
<rect x="176.20" y="366.90" width="4.50" height="54.10" rx="0" fill="#e3292f" stroke="#111" stroke-width="1.2"/>
<line x1="185.35" y1="330.84" x2="185.35" y2="335.99" stroke="#111" stroke-width="1.2" />
<line x1="183.35" y1="330.84" x2="187.35" y2="330.84" stroke="#111" stroke-width="1.2" />
<rect x="183.10" y="335.99" width="4.50" height="85.01" rx="0" fill="#6dbd4c" stroke="#111" stroke-width="1.2"/>
<line x1="178.30" y1="421.00" x2="178.30" y2="424.00" stroke="#111" stroke-width="1.1" />
<text transform="translate(183.30,428.60) rotate(-90)" font-size="9.8" font-weight="bold" font-style="normal" text-anchor="end" fill="#111" >LdhA</text>
<rect x="54" y="326.80" width="10.8" height="9.4" fill="#3a56a8" stroke="#111" stroke-width="1"/>
<text transform="translate(70.6,335.80) scale(0.92,1)" font-size="9.8" font-weight="bold" fill="#111">Th17<tspan dy="-3.0" font-size="6.6">TGF&#946;1</tspan></text>
<rect x="54" y="339.30" width="10.8" height="9.4" fill="#e3292f" stroke="#111" stroke-width="1"/>
<text transform="translate(70.6,348.30) scale(0.92,1)" font-size="9.8" font-weight="bold" fill="#111">Th17<tspan dy="-3.0" font-size="6.6">IL1&#946;+TGF&#946;</tspan></text>
<rect x="54" y="351.80" width="10.8" height="9.4" fill="#6dbd4c" stroke="#111" stroke-width="1"/>
<text transform="translate(70.6,360.80) scale(0.92,1)" font-size="9.8" font-weight="bold" fill="#111">Th17<tspan dy="-3.0" font-size="6.6">IL1&#946;</tspan></text>
<line x1="232.30" y1="326.10" x2="232.30" y2="422.90" stroke="#555" stroke-width="1.2" />
<line x1="232.30" y1="422.90" x2="377.00" y2="422.90" stroke="#555" stroke-width="1.2" />
<line x1="228.80" y1="422.90" x2="232.30" y2="422.90" stroke="#555" stroke-width="1.2" />
<text transform="translate(227.70,426.00) scale(0.86,1)" font-size="8.9" font-weight="bold" font-style="normal" text-anchor="end" fill="#111" stroke="#111" stroke-width="0.2">0</text>
<line x1="228.80" y1="390.80" x2="232.30" y2="390.80" stroke="#555" stroke-width="1.2" />
<text transform="translate(227.70,393.90) scale(0.86,1)" font-size="8.9" font-weight="bold" font-style="normal" text-anchor="end" fill="#111" stroke="#111" stroke-width="0.2">5</text>
<line x1="228.80" y1="358.70" x2="232.30" y2="358.70" stroke="#555" stroke-width="1.2" />
<text transform="translate(227.70,361.80) scale(0.86,1)" font-size="8.9" font-weight="bold" font-style="normal" text-anchor="end" fill="#111" stroke="#111" stroke-width="0.2">10</text>
<line x1="228.80" y1="326.60" x2="232.30" y2="326.60" stroke="#555" stroke-width="1.2" />
<text transform="translate(227.70,329.70) scale(0.86,1)" font-size="8.9" font-weight="bold" font-style="normal" text-anchor="end" fill="#111" stroke="#111" stroke-width="0.2">15</text>
<text transform="translate(212.30,371.60) rotate(-90)" font-size="7.9" font-weight="bold" font-style="normal" text-anchor="middle" fill="#111" textLength="51" lengthAdjust="spacingAndGlyphs">Fold change</text>
<text x="320.50" y="317.20" font-size="10.2" font-weight="bold" font-style="normal" text-anchor="middle" fill="#111" >Stemness gene</text>
<rect x="237.60" y="358.06" width="6.8" height="64.84" fill="#3a56a8" stroke="#111" stroke-width="1.2"/>
<rect x="247.40" y="378.60" width="6.8" height="44.30" fill="#e3292f" stroke="#111" stroke-width="1.2"/>
<rect x="257.00" y="410.06" width="6.8" height="12.84" fill="#6dbd4c" stroke="#111" stroke-width="1.2"/>
<line x1="251.00" y1="422.90" x2="251.00" y2="425.90" stroke="#555" stroke-width="1.1" />
<text transform="translate(254.00,428.40) rotate(-90)" font-size="10" font-weight="bold" font-style="normal" text-anchor="end" fill="#111" >Lef1</text>
<line x1="276.70" y1="350.35" x2="276.70" y2="354.85" stroke="#111" stroke-width="1.2" />
<line x1="274.50" y1="350.35" x2="278.90" y2="350.35" stroke="#111" stroke-width="1.2" />
<rect x="273.30" y="354.85" width="6.8" height="68.05" fill="#3a56a8" stroke="#111" stroke-width="1.2"/>
<line x1="286.50" y1="390.16" x2="286.50" y2="394.65" stroke="#111" stroke-width="1.2" />
<line x1="284.30" y1="390.16" x2="288.70" y2="390.16" stroke="#111" stroke-width="1.2" />
<rect x="283.10" y="394.65" width="6.8" height="28.25" fill="#e3292f" stroke="#111" stroke-width="1.2"/>
<rect x="292.70" y="419.37" width="6.8" height="3.53" fill="#6dbd4c" stroke="#111" stroke-width="1.2"/>
<line x1="286.70" y1="422.90" x2="286.70" y2="425.90" stroke="#555" stroke-width="1.1" />
<text transform="translate(289.70,428.40) rotate(-90)" font-size="10" font-weight="bold" font-style="normal" text-anchor="end" fill="#111" >Tcf7</text>
<line x1="312.40" y1="352.92" x2="312.40" y2="356.77" stroke="#111" stroke-width="1.2" />
<line x1="310.20" y1="352.92" x2="314.60" y2="352.92" stroke="#111" stroke-width="1.2" />
<rect x="309.00" y="356.77" width="6.8" height="66.13" fill="#3a56a8" stroke="#111" stroke-width="1.2"/>
<line x1="322.20" y1="386.95" x2="322.20" y2="390.80" stroke="#111" stroke-width="1.2" />
<line x1="320.00" y1="386.95" x2="324.40" y2="386.95" stroke="#111" stroke-width="1.2" />
<rect x="318.80" y="390.80" width="6.8" height="32.10" fill="#e3292f" stroke="#111" stroke-width="1.2"/>
<line x1="331.80" y1="404.28" x2="331.80" y2="406.85" stroke="#111" stroke-width="1.2" />
<line x1="329.60" y1="404.28" x2="334.00" y2="404.28" stroke="#111" stroke-width="1.2" />
<rect x="328.40" y="406.85" width="6.8" height="16.05" fill="#6dbd4c" stroke="#111" stroke-width="1.2"/>
<line x1="322.40" y1="422.90" x2="322.40" y2="425.90" stroke="#555" stroke-width="1.1" />
<text transform="translate(325.40,428.40) rotate(-90)" font-size="10" font-weight="bold" font-style="normal" text-anchor="end" fill="#111" >Bcl6</text>
<line x1="348.10" y1="352.28" x2="348.10" y2="356.13" stroke="#111" stroke-width="1.2" />
<line x1="345.90" y1="352.28" x2="350.30" y2="352.28" stroke="#111" stroke-width="1.2" />
<rect x="344.70" y="356.13" width="6.8" height="66.77" fill="#3a56a8" stroke="#111" stroke-width="1.2"/>
<rect x="354.50" y="371.54" width="6.8" height="51.36" fill="#e3292f" stroke="#111" stroke-width="1.2"/>
<line x1="367.50" y1="412.31" x2="367.50" y2="414.55" stroke="#111" stroke-width="1.2" />
<line x1="365.30" y1="412.31" x2="369.70" y2="412.31" stroke="#111" stroke-width="1.2" />
<rect x="364.10" y="414.55" width="6.8" height="8.35" fill="#6dbd4c" stroke="#111" stroke-width="1.2"/>
<line x1="358.10" y1="422.90" x2="358.10" y2="425.90" stroke="#555" stroke-width="1.1" />
<text transform="translate(361.10,428.40) rotate(-90)" font-size="10" font-weight="bold" font-style="normal" text-anchor="end" fill="#111" >&#946;-Catenin</text>
<polyline points="251.00,376.50 251.00,372.30 261.40,372.30 261.40,407.50" fill="none" stroke="#111" stroke-width="1.3"/>
<text x="256.20" y="371.50" font-size="9.4" font-weight="bold" font-style="normal" text-anchor="middle" fill="#444" >***</text>
<polyline points="287.30,388.00 287.30,383.10 296.80,383.10 296.80,417.00" fill="none" stroke="#111" stroke-width="1.3"/>
<text x="292.05" y="382.50" font-size="9.4" font-weight="bold" font-style="normal" text-anchor="middle" fill="#444" >*</text>
<polyline points="322.30,385.00 322.30,381.80 332.20,381.80 332.20,402.00" fill="none" stroke="#111" stroke-width="1.3"/>
<text x="327.25" y="380.00" font-size="9.6" font-weight="bold" font-style="normal" text-anchor="middle" fill="#111" >ns</text>
<polyline points="358.30,369.50 358.30,363.50 367.50,363.50 367.50,410.60" fill="none" stroke="#111" stroke-width="1.3"/>
<text x="362.90" y="363.30" font-size="9.4" font-weight="bold" font-style="normal" text-anchor="middle" fill="#444" >**</text>
<rect x="245.6" y="324.6" width="10.6" height="9.2" fill="#3a56a8" stroke="#111" stroke-width="1"/>
<text transform="translate(260.7,332.6) scale(0.9,1)" font-size="9.6" font-weight="bold" fill="#111">Th17<tspan dy="-2.9" font-size="6.6">TGF&#946;1</tspan></text>
<rect x="245.6" y="336.2" width="10.6" height="9.2" fill="#e3292f" stroke="#111" stroke-width="1"/>
<text transform="translate(260.7,344.4) scale(0.9,1)" font-size="9.6" font-weight="bold" fill="#111">Th17<tspan dy="-2.9" font-size="6.6">IL1&#946;+TGF&#946;</tspan></text>
<rect x="327.6" y="335.6" width="10.2" height="8.4" fill="#6dbd4c" stroke="#111" stroke-width="1"/>
<text transform="translate(345.4,344.2) scale(0.92,1)" font-size="9.8" font-weight="bold" fill="#111">Th17<tspan dy="-3.0" font-size="6.6">IL1&#946;</tspan></text>
<rect x="51.2" y="490.6" width="83.39999999999999" height="85.0" fill="#fff" stroke="#aaa" stroke-width="0.9"/>
<rect x="138.0" y="490.6" width="83.80000000000001" height="85.0" fill="#fff" stroke="#aaa" stroke-width="0.9"/>
<rect x="225.4" y="490.6" width="83.20000000000002" height="85.0" fill="#fff" stroke="#aaa" stroke-width="0.9"/>
<rect x="51.2" y="577.3" width="83.39999999999999" height="84.30000000000007" fill="#fff" stroke="#aaa" stroke-width="0.9"/>
<rect x="138.0" y="577.3" width="83.80000000000001" height="84.30000000000007" fill="#fff" stroke="#aaa" stroke-width="0.9"/>
<rect x="225.4" y="577.3" width="83.20000000000002" height="84.30000000000007" fill="#fff" stroke="#aaa" stroke-width="0.9"/>
<g filter="url(#bl)"><path d="M73.50,575.20 C73.50,571.80 75.00,571.80 77.50,571.80 L116.00,571.80 C118.50,571.80 120.00,571.80 120.00,575.20 Z" fill="#2446c0"/><path d="M76.67,575.20 C76.67,572.06 78.17,572.06 80.67,572.06 L111.42,572.06 C113.92,572.06 115.42,572.06 115.42,575.20 Z" fill="#2b62d6"/><path d="M79.83,575.20 C79.83,572.31 81.33,572.31 83.83,572.31 L106.83,572.31 C109.33,572.31 110.83,572.31 110.83,575.20 Z" fill="#42bde6"/><path d="M83.00,575.20 C83.00,572.57 84.50,572.57 87.00,572.57 L102.25,572.57 C104.75,572.57 106.25,572.57 106.25,575.20 Z" fill="#7cc84a"/><path d="M86.17,575.20 C86.17,572.82 87.67,572.82 90.17,572.82 L97.67,572.82 C100.17,572.82 101.67,572.82 101.67,575.20 Z" fill="#f0dc20"/><path d="M89.33,575.20 C89.33,573.08 90.83,573.08 93.33,573.08 L93.08,573.08 C95.58,573.08 97.08,573.08 97.08,575.20 Z" fill="#f09020"/></g>
<g filter="url(#bl)"><path d="M160.00,575.20 C160.00,571.80 161.50,571.80 164.00,571.80 L208.00,571.80 C210.50,571.80 212.00,571.80 212.00,575.20 Z" fill="#2446c0"/><path d="M163.00,575.20 C163.00,572.06 164.50,572.06 167.00,572.06 L202.33,572.06 C204.83,572.06 206.33,572.06 206.33,575.20 Z" fill="#2b62d6"/><path d="M166.00,575.20 C166.00,572.31 167.50,572.31 170.00,572.31 L196.67,572.31 C199.17,572.31 200.67,572.31 200.67,575.20 Z" fill="#42bde6"/><path d="M169.00,575.20 C169.00,572.57 170.50,572.57 173.00,572.57 L191.00,572.57 C193.50,572.57 195.00,572.57 195.00,575.20 Z" fill="#7cc84a"/><path d="M172.00,575.20 C172.00,572.82 173.50,572.82 176.00,572.82 L185.33,572.82 C187.83,572.82 189.33,572.82 189.33,575.20 Z" fill="#f0dc20"/><path d="M175.00,575.20 C175.00,573.08 176.50,573.08 179.00,573.08 L179.67,573.08 C182.17,573.08 183.67,573.08 183.67,575.20 Z" fill="#f09020"/></g>
<g filter="url(#bl)"><path d="M246.00,575.20 C246.00,571.80 247.50,571.80 250.00,571.80 L296.00,571.80 C298.50,571.80 300.00,571.80 300.00,575.20 Z" fill="#2446c0"/><path d="M249.17,575.20 C249.17,572.06 250.67,572.06 253.17,572.06 L290.17,572.06 C292.67,572.06 294.17,572.06 294.17,575.20 Z" fill="#2b62d6"/><path d="M252.33,575.20 C252.33,572.31 253.83,572.31 256.33,572.31 L284.33,572.31 C286.83,572.31 288.33,572.31 288.33,575.20 Z" fill="#42bde6"/><path d="M255.50,575.20 C255.50,572.57 257.00,572.57 259.50,572.57 L278.50,572.57 C281.00,572.57 282.50,572.57 282.50,575.20 Z" fill="#7cc84a"/><path d="M258.67,575.20 C258.67,572.82 260.17,572.82 262.67,572.82 L272.67,572.82 C275.17,572.82 276.67,572.82 276.67,575.20 Z" fill="#f0dc20"/><path d="M261.83,575.20 C261.83,573.08 263.33,573.08 265.83,573.08 L266.83,573.08 C269.33,573.08 270.83,573.08 270.83,575.20 Z" fill="#f09020"/></g>
<g filter="url(#bl)"><path d="M67.00,661.30 C67.00,657.70 68.50,657.70 71.00,657.70 L116.00,657.70 C118.50,657.70 120.00,657.70 120.00,661.30 Z" fill="#2446c0"/><path d="M71.33,661.30 C71.33,657.97 72.83,657.97 75.33,657.97 L111.50,657.97 C114.00,657.97 115.50,657.97 115.50,661.30 Z" fill="#2b62d6"/><path d="M75.67,661.30 C75.67,658.24 77.17,658.24 79.67,658.24 L107.00,658.24 C109.50,658.24 111.00,658.24 111.00,661.30 Z" fill="#42bde6"/><path d="M80.00,661.30 C80.00,658.51 81.50,658.51 84.00,658.51 L102.50,658.51 C105.00,658.51 106.50,658.51 106.50,661.30 Z" fill="#7cc84a"/><path d="M84.33,661.30 C84.33,658.78 85.83,658.78 88.33,658.78 L98.00,658.78 C100.50,658.78 102.00,658.78 102.00,661.30 Z" fill="#f0dc20"/><path d="M88.67,661.30 C88.67,659.05 90.17,659.05 92.67,659.05 L93.50,659.05 C96.00,659.05 97.50,659.05 97.50,661.30 Z" fill="#f09020"/></g>
<g filter="url(#bl)"><path d="M155.00,661.30 C155.00,657.70 156.50,657.70 159.00,657.70 L208.00,657.70 C210.50,657.70 212.00,657.70 212.00,661.30 Z" fill="#2446c0"/><path d="M159.17,661.30 C159.17,657.97 160.67,657.97 163.17,657.97 L202.67,657.97 C205.17,657.97 206.67,657.97 206.67,661.30 Z" fill="#2b62d6"/><path d="M163.33,661.30 C163.33,658.24 164.83,658.24 167.33,658.24 L197.33,658.24 C199.83,658.24 201.33,658.24 201.33,661.30 Z" fill="#42bde6"/><path d="M167.50,661.30 C167.50,658.51 169.00,658.51 171.50,658.51 L192.00,658.51 C194.50,658.51 196.00,658.51 196.00,661.30 Z" fill="#7cc84a"/><path d="M171.67,661.30 C171.67,658.78 173.17,658.78 175.67,658.78 L186.67,658.78 C189.17,658.78 190.67,658.78 190.67,661.30 Z" fill="#f0dc20"/><path d="M175.83,661.30 C175.83,659.05 177.33,659.05 179.83,659.05 L181.33,659.05 C183.83,659.05 185.33,659.05 185.33,661.30 Z" fill="#f09020"/></g>
<g filter="url(#bl)"><path d="M240.00,661.30 C240.00,657.70 241.50,657.70 244.00,657.70 L293.50,657.70 C296.00,657.70 297.50,657.70 297.50,661.30 Z" fill="#2446c0"/><path d="M244.33,661.30 C244.33,657.97 245.83,657.97 248.33,657.97 L288.25,657.97 C290.75,657.97 292.25,657.97 292.25,661.30 Z" fill="#2b62d6"/><path d="M248.67,661.30 C248.67,658.24 250.17,658.24 252.67,658.24 L283.00,658.24 C285.50,658.24 287.00,658.24 287.00,661.30 Z" fill="#42bde6"/><path d="M253.00,661.30 C253.00,658.51 254.50,658.51 257.00,658.51 L277.75,658.51 C280.25,658.51 281.75,658.51 281.75,661.30 Z" fill="#7cc84a"/><path d="M257.33,661.30 C257.33,658.78 258.83,658.78 261.33,658.78 L272.50,658.78 C275.00,658.78 276.50,658.78 276.50,661.30 Z" fill="#f0dc20"/><path d="M261.67,661.30 C261.67,659.05 263.17,659.05 265.67,659.05 L267.25,659.05 C269.75,659.05 271.25,659.05 271.25,661.30 Z" fill="#f09020"/></g>
<rect x="51.5" y="535" width="1.8" height="11" rx="0.9" fill="#2a58c0" filter="url(#bl)"/>
<rect x="138.29999999999998" y="536" width="1.8" height="12" rx="0.9" fill="#2a58c0" filter="url(#bl)"/>
<rect x="225.7" y="536" width="1.8" height="12" rx="0.9" fill="#2a58c0" filter="url(#bl)"/>
<rect x="51.5" y="620" width="1.8" height="14" rx="0.9" fill="#2a58c0" filter="url(#bl)"/>
<rect x="138.29999999999998" y="620" width="1.8" height="12" rx="0.9" fill="#2a58c0" filter="url(#bl)"/>
<rect x="225.7" y="620" width="1.8" height="16" rx="0.9" fill="#2a58c0" filter="url(#bl)"/>
<g filter="url(#bl)"><path d="M102.60,516.50 C104.42,515.65 109.10,514.27 111.80,513.70 C114.50,513.13 117.35,513.40 118.80,513.10 C120.25,512.80 120.12,511.13 120.50,511.90 C120.88,512.67 121.10,515.58 121.10,517.70 C121.10,519.82 121.08,522.87 120.50,524.60 C119.92,526.33 118.65,526.95 117.60,528.10 C116.55,529.25 115.17,529.97 114.20,531.50 C113.23,533.03 112.38,535.37 111.80,537.30 C111.22,539.23 111.47,541.18 110.70,543.10 C109.93,545.02 108.35,547.07 107.20,548.80 C106.05,550.53 104.95,551.95 103.80,553.50 C102.65,555.05 101.17,556.57 100.30,558.10 C99.43,559.63 99.18,561.55 98.60,562.70 C98.02,563.85 97.67,564.62 96.80,565.00 C95.93,565.38 94.73,565.58 93.40,565.00 C92.07,564.42 90.33,563.03 88.80,561.50 C87.27,559.97 85.55,557.72 84.20,555.80 C82.85,553.88 81.67,552.12 80.70,550.00 C79.73,547.88 78.88,545.22 78.40,543.10 C77.92,540.98 77.42,538.75 77.80,537.30 C78.18,535.85 79.07,535.37 80.70,534.40 C82.33,533.43 85.30,532.55 87.60,531.50 C89.90,530.45 92.57,529.63 94.50,528.10 C96.43,526.57 98.13,523.85 99.20,522.30 C100.27,520.75 100.33,519.77 100.90,518.80 C101.47,517.83 100.78,517.35 102.60,516.50 Z" fill="#1c2b8c"/><path d="M100.25,521.25 C101.51,520.81 104.84,520.19 106.71,519.98 C108.58,519.77 110.49,520.10 111.46,519.98 C112.43,519.86 112.24,518.71 112.53,519.26 C112.83,519.80 113.12,521.79 113.23,523.27 C113.34,524.74 113.48,526.91 113.20,528.12 C112.91,529.34 112.12,529.74 111.50,530.55 C110.89,531.35 110.05,531.80 109.50,532.96 C108.94,534.12 108.53,535.96 108.18,537.52 C107.83,539.07 107.98,540.70 107.39,542.30 C106.80,543.90 105.60,545.67 104.66,547.11 C103.71,548.55 102.73,549.73 101.73,550.93 C100.73,552.13 99.42,553.26 98.65,554.34 C97.88,555.41 97.59,556.62 97.08,557.38 C96.58,558.14 96.30,558.63 95.62,558.89 C94.95,559.15 94.05,559.31 93.01,558.96 C91.97,558.60 90.66,557.76 89.40,556.76 C88.14,555.75 86.67,554.29 85.45,552.92 C84.24,551.54 83.07,550.24 82.10,548.53 C81.14,546.82 80.16,544.52 79.66,542.66 C79.16,540.81 78.84,538.76 79.08,537.41 C79.33,536.06 79.78,535.68 81.12,534.56 C82.47,533.44 84.91,531.77 87.13,530.71 C89.36,529.64 92.66,529.17 94.48,528.18 C96.30,527.20 97.27,525.73 98.04,524.81 C98.81,523.88 98.74,523.23 99.11,522.64 C99.48,522.05 98.98,521.69 100.25,521.25 Z" fill="#2446c0"/><path d="M98.77,524.23 C99.73,523.98 102.30,523.73 103.71,523.68 C105.13,523.63 106.53,523.97 107.25,523.93 C107.96,523.89 107.76,523.02 108.00,523.44 C108.24,523.87 108.55,525.35 108.70,526.47 C108.85,527.60 109.05,529.27 108.90,530.20 C108.75,531.12 108.21,531.41 107.81,532.03 C107.41,532.65 106.85,532.96 106.50,533.89 C106.15,534.83 105.95,536.36 105.71,537.66 C105.48,538.97 105.58,540.37 105.10,541.74 C104.62,543.12 103.65,544.67 102.85,545.91 C102.04,547.14 101.16,548.15 100.28,549.14 C99.40,550.13 98.25,551.03 97.56,551.85 C96.87,552.67 96.58,553.51 96.14,554.07 C95.70,554.62 95.47,554.96 94.91,555.16 C94.35,555.36 93.63,555.49 92.77,555.25 C91.92,555.01 90.85,554.45 89.78,553.72 C88.71,552.99 87.42,551.94 86.33,550.88 C85.25,549.81 84.15,548.78 83.25,547.34 C82.34,545.90 81.37,543.88 80.89,542.24 C80.40,540.60 80.18,538.75 80.35,537.52 C80.52,536.29 80.77,535.97 81.91,534.85 C83.06,533.74 85.14,531.83 87.21,530.83 C89.27,529.82 92.64,529.51 94.31,528.81 C95.97,528.12 96.58,527.26 97.19,526.65 C97.79,526.04 97.67,525.56 97.93,525.16 C98.19,524.76 97.81,524.48 98.77,524.23 Z" fill="#2b62d6"/><path d="M97.52,526.75 C98.25,526.63 100.23,526.60 101.30,526.65 C102.37,526.70 103.41,527.02 103.93,527.03 C104.46,527.05 104.26,526.39 104.46,526.72 C104.65,527.05 104.95,528.15 105.12,529.01 C105.29,529.86 105.51,531.16 105.45,531.86 C105.39,532.57 105.02,532.78 104.77,533.25 C104.52,533.72 104.16,533.93 103.95,534.69 C103.74,535.45 103.66,536.70 103.51,537.79 C103.36,538.89 103.42,540.08 103.03,541.24 C102.65,542.41 101.86,543.76 101.19,544.80 C100.51,545.85 99.74,546.70 98.97,547.51 C98.21,548.33 97.21,549.04 96.60,549.67 C96.00,550.30 95.73,550.88 95.34,551.28 C94.96,551.68 94.77,551.92 94.31,552.07 C93.85,552.22 93.28,552.33 92.58,552.17 C91.88,552.01 91.02,551.64 90.11,551.12 C89.20,550.59 88.10,549.84 87.14,549.02 C86.18,548.19 85.19,547.37 84.37,546.17 C83.54,544.96 82.62,543.21 82.18,541.79 C81.73,540.37 81.58,538.73 81.70,537.64 C81.82,536.54 81.93,536.27 82.90,535.22 C83.86,534.16 85.62,532.22 87.48,531.30 C89.35,530.38 92.58,530.19 94.07,529.70 C95.55,529.21 95.92,528.75 96.39,528.36 C96.87,527.97 96.72,527.63 96.90,527.36 C97.09,527.09 96.79,526.87 97.52,526.75 Z" fill="#3590e0"/><path d="M96.41,529.00 C96.96,528.97 98.46,529.08 99.25,529.18 C100.04,529.29 100.79,529.58 101.17,529.63 C101.55,529.67 101.36,529.18 101.52,529.43 C101.68,529.68 101.95,530.49 102.12,531.13 C102.28,531.77 102.51,532.75 102.51,533.28 C102.51,533.81 102.27,533.96 102.13,534.31 C101.98,534.67 101.76,534.80 101.65,535.41 C101.54,536.01 101.55,537.02 101.46,537.92 C101.36,538.81 101.40,539.80 101.09,540.77 C100.78,541.75 100.16,542.88 99.60,543.75 C99.04,544.62 98.38,545.33 97.73,545.98 C97.09,546.63 96.24,547.20 95.72,547.67 C95.21,548.14 94.96,548.53 94.64,548.81 C94.32,549.09 94.16,549.26 93.79,549.36 C93.42,549.47 92.97,549.56 92.40,549.46 C91.84,549.36 91.15,549.13 90.41,548.77 C89.66,548.40 88.73,547.87 87.91,547.25 C87.09,546.62 86.22,545.97 85.49,544.99 C84.77,544.00 83.94,542.53 83.54,541.32 C83.15,540.12 83.04,538.71 83.12,537.76 C83.20,536.81 83.23,536.60 84.02,535.64 C84.82,534.68 86.28,532.83 87.91,532.02 C89.53,531.21 92.50,531.10 93.78,530.77 C95.07,530.43 95.26,530.25 95.63,530.02 C95.99,529.79 95.83,529.54 95.96,529.37 C96.09,529.20 95.86,529.03 96.41,529.00 Z" fill="#42bde6"/><path d="M95.39,531.06 C95.78,531.08 96.89,531.27 97.46,531.40 C98.03,531.53 98.54,531.79 98.80,531.84 C99.06,531.90 98.90,531.55 99.02,531.74 C99.15,531.92 99.39,532.49 99.54,532.95 C99.70,533.42 99.90,534.14 99.94,534.52 C99.98,534.91 99.83,535.01 99.76,535.26 C99.69,535.52 99.57,535.60 99.53,536.07 C99.48,536.53 99.54,537.33 99.49,538.03 C99.44,538.74 99.46,539.54 99.22,540.32 C98.98,541.10 98.50,542.03 98.06,542.72 C97.61,543.42 97.07,543.99 96.54,544.50 C96.01,545.01 95.32,545.44 94.89,545.78 C94.47,546.12 94.26,546.36 94.00,546.56 C93.73,546.75 93.61,546.85 93.32,546.93 C93.03,547.01 92.69,547.07 92.25,547.02 C91.81,546.96 91.28,546.84 90.68,546.59 C90.08,546.34 89.33,545.99 88.65,545.53 C87.98,545.06 87.25,544.58 86.63,543.80 C86.02,543.01 85.31,541.81 84.97,540.83 C84.64,539.84 84.57,538.68 84.62,537.89 C84.67,537.10 84.64,536.93 85.28,536.11 C85.91,535.28 87.08,533.63 88.44,532.94 C89.81,532.25 92.38,532.20 93.45,531.99 C94.52,531.77 94.60,531.77 94.87,531.65 C95.14,531.53 94.99,531.36 95.08,531.26 C95.17,531.16 94.99,531.03 95.39,531.06 Z" fill="#55c9a8"/><path d="M94.44,532.97 C94.71,533.02 95.48,533.23 95.86,533.36 C96.25,533.50 96.58,533.71 96.75,533.76 C96.92,533.82 96.79,533.59 96.88,533.72 C96.97,533.85 97.17,534.22 97.30,534.54 C97.43,534.86 97.61,535.36 97.66,535.62 C97.71,535.89 97.63,535.95 97.61,536.13 C97.59,536.30 97.54,536.35 97.54,536.68 C97.53,537.02 97.62,537.62 97.60,538.15 C97.57,538.68 97.58,539.29 97.41,539.88 C97.23,540.48 96.88,541.19 96.54,541.72 C96.20,542.25 95.78,542.68 95.38,543.06 C94.97,543.43 94.43,543.74 94.10,543.98 C93.77,544.21 93.60,544.35 93.40,544.47 C93.20,544.59 93.11,544.65 92.89,544.70 C92.68,544.75 92.43,544.80 92.10,544.78 C91.78,544.75 91.39,544.70 90.94,544.54 C90.48,544.39 89.91,544.17 89.38,543.85 C88.86,543.52 88.28,543.17 87.79,542.59 C87.31,542.00 86.73,541.07 86.46,540.31 C86.19,539.55 86.16,538.64 86.18,538.02 C86.21,537.41 86.15,537.28 86.64,536.61 C87.12,535.95 88.00,534.57 89.08,534.03 C90.15,533.48 92.25,533.47 93.09,533.34 C93.93,533.21 93.93,533.31 94.12,533.26 C94.32,533.22 94.19,533.11 94.24,533.06 C94.29,533.01 94.17,532.92 94.44,532.97 Z" fill="#7cc84a"/><path d="M93.55,534.76 C93.72,534.82 94.21,535.00 94.45,535.10 C94.69,535.21 94.89,535.36 94.99,535.41 C95.09,535.46 95.00,535.32 95.06,535.40 C95.12,535.48 95.26,535.71 95.36,535.91 C95.46,536.11 95.59,536.43 95.64,536.60 C95.69,536.77 95.65,536.80 95.65,536.91 C95.66,537.02 95.64,537.05 95.66,537.27 C95.67,537.49 95.75,537.90 95.74,538.26 C95.74,538.62 95.74,539.04 95.62,539.45 C95.50,539.86 95.27,540.35 95.04,540.72 C94.81,541.08 94.51,541.38 94.23,541.63 C93.94,541.89 93.57,542.09 93.34,542.24 C93.11,542.39 92.99,542.46 92.85,542.53 C92.71,542.60 92.65,542.63 92.50,542.66 C92.35,542.69 92.19,542.73 91.97,542.72 C91.75,542.71 91.49,542.69 91.18,542.60 C90.87,542.51 90.47,542.39 90.10,542.18 C89.74,541.97 89.33,541.74 88.98,541.34 C88.64,540.94 88.22,540.30 88.03,539.77 C87.84,539.24 87.82,538.60 87.84,538.17 C87.85,537.73 87.79,537.65 88.12,537.17 C88.45,536.69 89.06,535.68 89.82,535.29 C90.58,534.90 92.09,534.91 92.69,534.84 C93.28,534.77 93.25,534.89 93.37,534.88 C93.50,534.88 93.40,534.81 93.43,534.79 C93.46,534.77 93.38,534.71 93.55,534.76 Z" fill="#bcd636"/><path d="M92.71,536.45 C92.81,536.48 93.08,536.58 93.21,536.64 C93.34,536.70 93.45,536.78 93.50,536.81 C93.56,536.84 93.51,536.76 93.54,536.80 C93.57,536.85 93.65,536.97 93.71,537.08 C93.76,537.19 93.83,537.37 93.86,537.46 C93.88,537.55 93.87,537.57 93.87,537.63 C93.87,537.69 93.86,537.70 93.87,537.83 C93.88,537.95 93.92,538.17 93.91,538.37 C93.91,538.57 93.91,538.80 93.85,539.02 C93.78,539.24 93.66,539.52 93.53,539.72 C93.40,539.91 93.24,540.08 93.08,540.22 C92.93,540.36 92.72,540.47 92.60,540.55 C92.47,540.63 92.41,540.67 92.33,540.71 C92.25,540.74 92.22,540.76 92.14,540.78 C92.06,540.80 91.97,540.82 91.85,540.81 C91.73,540.80 91.59,540.79 91.42,540.75 C91.25,540.70 91.03,540.63 90.83,540.52 C90.62,540.40 90.40,540.28 90.21,540.06 C90.02,539.84 89.79,539.49 89.69,539.20 C89.58,538.91 89.57,538.55 89.58,538.32 C89.59,538.08 89.56,538.03 89.74,537.77 C89.92,537.51 90.25,536.95 90.67,536.74 C91.09,536.53 91.92,536.53 92.24,536.49 C92.56,536.46 92.55,536.52 92.62,536.52 C92.69,536.51 92.63,536.48 92.65,536.47 C92.66,536.46 92.62,536.42 92.71,536.45 Z" fill="#f0dc20"/></g>
<g filter="url(#bl)"><path d="M102.00,520.00 C103.25,518.25 108.25,516.33 111.00,515.50 C113.75,514.67 117.08,514.42 118.50,515.00 C119.92,515.58 119.67,517.42 119.50,519.00 C119.33,520.58 118.92,523.08 117.50,524.50 C116.08,525.92 113.33,527.25 111.00,527.50 C108.67,527.75 105.00,527.25 103.50,526.00 C102.00,524.75 100.75,521.75 102.00,520.00 Z" fill="#2446c0"/><path d="M105.57,520.44 C106.35,519.09 109.32,516.76 111.10,516.20 C112.88,515.64 115.21,516.52 116.24,517.09 C117.28,517.66 117.28,518.50 117.30,519.63 C117.32,520.76 117.41,522.73 116.38,523.85 C115.36,524.98 112.80,526.31 111.14,526.38 C109.48,526.46 107.37,525.29 106.44,524.30 C105.51,523.31 104.79,521.79 105.57,520.44 Z" fill="#2b62d6"/><path d="M108.38,520.78 C108.80,519.97 110.37,518.36 111.36,518.05 C112.34,517.73 113.69,518.52 114.29,518.89 C114.90,519.27 114.95,519.63 115.00,520.29 C115.05,520.94 115.20,522.14 114.60,522.82 C114.00,523.51 112.35,524.38 111.39,524.39 C110.43,524.41 109.34,523.52 108.84,522.91 C108.33,522.31 107.96,521.59 108.38,520.78 Z" fill="#3590e0"/></g>
<g filter="url(#bl)"><path d="M186.00,519.70 C187.58,517.60 190.50,515.63 193.50,514.40 C196.50,513.17 201.53,512.60 204.00,512.30 C206.47,512.00 207.27,511.72 208.30,512.60 C209.33,513.48 210.20,515.88 210.20,517.60 C210.20,519.32 209.67,521.13 208.30,522.90 C206.93,524.67 203.77,526.43 202.00,528.20 C200.23,529.97 198.77,531.03 197.70,533.50 C196.63,535.97 196.30,539.83 195.60,543.00 C194.90,546.17 194.57,549.67 193.50,552.50 C192.43,555.33 190.78,557.70 189.20,560.00 C187.62,562.30 185.58,564.90 184.00,566.30 C182.42,567.70 180.95,568.40 179.70,568.40 C178.45,568.40 177.90,567.88 176.50,566.30 C175.10,564.72 173.23,561.55 171.30,558.90 C169.37,556.25 166.50,553.05 164.90,550.40 C163.30,547.75 161.88,545.30 161.70,543.00 C161.52,540.70 162.38,538.18 163.80,536.60 C165.22,535.02 167.72,534.37 170.20,533.50 C172.68,532.63 176.40,532.48 178.70,531.40 C181.00,530.32 182.78,528.95 184.00,527.00 C185.22,525.05 184.42,521.80 186.00,519.70 Z" fill="#1c2b8c"/><path d="M184.64,523.02 C185.71,521.71 187.91,520.58 190.04,519.92 C192.18,519.26 195.70,519.15 197.43,519.08 C199.16,519.00 199.66,518.83 200.41,519.50 C201.16,520.17 201.85,521.89 201.93,523.11 C202.02,524.33 201.74,525.61 200.91,526.84 C200.08,528.07 198.06,529.21 196.98,530.47 C195.89,531.73 195.06,532.43 194.41,534.42 C193.77,536.42 193.70,539.80 193.11,542.43 C192.53,545.06 191.91,547.98 190.90,550.22 C189.89,552.47 188.40,554.23 187.04,555.91 C185.67,557.59 183.99,559.34 182.71,560.32 C181.42,561.29 180.31,561.73 179.34,561.75 C178.36,561.76 177.99,561.45 176.85,560.40 C175.70,559.35 174.17,557.37 172.48,555.44 C170.79,553.52 168.14,551.01 166.69,548.85 C165.25,546.69 164.07,544.49 163.81,542.49 C163.54,540.48 164.09,538.36 165.10,536.82 C166.11,535.28 167.57,534.35 169.85,533.26 C172.13,532.16 176.50,531.17 178.79,530.26 C181.08,529.35 182.62,529.03 183.60,527.82 C184.57,526.61 183.57,524.34 184.64,523.02 Z" fill="#2446c0"/><path d="M183.71,525.29 C184.51,524.37 186.29,523.66 187.94,523.28 C189.59,522.91 192.28,522.99 193.60,523.02 C194.93,523.05 195.27,522.92 195.87,523.47 C196.46,524.02 197.04,525.35 197.15,526.30 C197.27,527.25 197.11,528.23 196.55,529.16 C196.00,530.09 194.57,530.91 193.84,531.89 C193.10,532.87 192.58,533.37 192.15,535.06 C191.72,536.74 191.76,539.74 191.26,542.01 C190.75,544.27 190.05,546.78 189.12,548.66 C188.18,550.53 186.84,551.94 185.64,553.27 C184.44,554.60 183.00,555.90 181.91,556.64 C180.82,557.38 179.93,557.69 179.12,557.71 C178.31,557.72 178.03,557.52 177.06,556.75 C176.09,555.98 174.78,554.61 173.28,553.10 C171.78,551.59 169.36,549.51 168.06,547.67 C166.76,545.83 165.75,543.86 165.46,542.08 C165.18,540.31 165.56,538.46 166.34,537.03 C167.12,535.59 168.06,534.59 170.14,533.46 C172.21,532.32 176.63,531.02 178.79,530.24 C180.96,529.45 182.31,529.59 183.13,528.76 C183.95,527.94 182.91,526.20 183.71,525.29 Z" fill="#2b62d6"/><path d="M182.89,527.30 C183.49,526.68 184.92,526.25 186.20,526.06 C187.48,525.87 189.54,526.07 190.56,526.16 C191.57,526.25 191.81,526.16 192.27,526.61 C192.74,527.06 193.23,528.09 193.35,528.83 C193.48,529.57 193.40,530.32 193.04,531.03 C192.68,531.74 191.68,532.32 191.19,533.08 C190.70,533.85 190.40,534.21 190.12,535.63 C189.84,537.05 189.95,539.67 189.51,541.61 C189.08,543.55 188.36,545.69 187.51,547.25 C186.67,548.82 185.49,549.94 184.44,551.00 C183.40,552.05 182.17,553.01 181.25,553.58 C180.33,554.14 179.61,554.36 178.94,554.38 C178.27,554.40 178.06,554.26 177.24,553.70 C176.41,553.14 175.31,552.21 173.99,551.01 C172.68,549.82 170.52,548.10 169.36,546.55 C168.21,544.99 167.35,543.24 167.06,541.69 C166.77,540.14 167.04,538.55 167.65,537.25 C168.25,535.94 168.83,534.94 170.69,533.84 C172.54,532.74 176.77,531.31 178.76,530.63 C180.75,529.96 181.93,530.37 182.62,529.81 C183.30,529.26 182.29,527.93 182.89,527.30 Z" fill="#3590e0"/><path d="M182.12,529.19 C182.55,528.78 183.70,528.55 184.68,528.49 C185.66,528.43 187.22,528.69 187.98,528.81 C188.75,528.94 188.90,528.88 189.27,529.24 C189.63,529.60 190.03,530.39 190.16,530.96 C190.29,531.52 190.27,532.10 190.05,532.63 C189.83,533.16 189.15,533.56 188.84,534.15 C188.53,534.74 188.38,534.99 188.20,536.16 C188.03,537.34 188.18,539.59 187.82,541.22 C187.45,542.85 186.76,544.65 186.01,545.94 C185.27,547.22 184.24,548.11 183.35,548.94 C182.46,549.76 181.43,550.46 180.67,550.88 C179.91,551.31 179.32,551.45 178.78,551.47 C178.23,551.49 178.08,551.41 177.40,551.01 C176.71,550.61 175.78,550.00 174.66,549.07 C173.53,548.14 171.64,546.74 170.64,545.44 C169.64,544.15 168.92,542.63 168.65,541.31 C168.37,539.98 168.56,538.64 169.02,537.48 C169.48,536.32 169.81,535.37 171.42,534.35 C173.03,533.32 176.93,531.89 178.71,531.32 C180.48,530.76 181.49,531.31 182.05,530.96 C182.62,530.60 181.68,529.60 182.12,529.19 Z" fill="#42bde6"/><path d="M181.38,530.98 C181.69,530.73 182.58,530.65 183.31,530.67 C184.04,530.69 185.19,530.98 185.75,531.11 C186.31,531.25 186.41,531.21 186.69,531.50 C186.96,531.78 187.28,532.37 187.41,532.80 C187.53,533.22 187.54,533.64 187.42,534.03 C187.30,534.42 186.86,534.68 186.69,535.12 C186.51,535.56 186.46,535.73 186.37,536.68 C186.28,537.63 186.44,539.51 186.14,540.84 C185.84,542.17 185.21,543.64 184.57,544.67 C183.94,545.70 183.08,546.39 182.34,547.02 C181.60,547.65 180.76,548.14 180.14,548.45 C179.53,548.76 179.07,548.85 178.64,548.87 C178.20,548.89 178.10,548.84 177.54,548.57 C176.98,548.29 176.23,547.92 175.29,547.22 C174.35,546.51 172.76,545.39 171.91,544.34 C171.07,543.29 170.48,542.02 170.24,540.92 C169.99,539.81 170.11,538.71 170.45,537.72 C170.80,536.72 170.94,535.88 172.30,534.96 C173.67,534.05 177.11,532.71 178.63,532.24 C180.16,531.78 180.99,532.39 181.45,532.18 C181.91,531.97 181.07,531.24 181.38,530.98 Z" fill="#55c9a8"/><path d="M180.67,532.72 C180.88,532.59 181.55,532.59 182.07,532.66 C182.59,532.73 183.39,533.00 183.79,533.14 C184.18,533.27 184.24,533.25 184.44,533.46 C184.64,533.67 184.89,534.10 185.00,534.40 C185.10,534.71 185.14,535.01 185.09,535.28 C185.04,535.54 184.78,535.70 184.70,536.02 C184.61,536.34 184.63,536.44 184.59,537.18 C184.55,537.92 184.71,539.41 184.47,540.46 C184.24,541.50 183.69,542.66 183.18,543.45 C182.66,544.24 181.97,544.75 181.38,545.21 C180.80,545.68 180.14,546.00 179.66,546.22 C179.18,546.43 178.84,546.48 178.51,546.50 C178.18,546.52 178.11,546.50 177.67,546.32 C177.24,546.14 176.65,545.95 175.90,545.43 C175.15,544.92 173.86,544.06 173.19,543.24 C172.51,542.43 172.05,541.41 171.84,540.53 C171.63,539.65 171.70,538.78 171.94,537.97 C172.19,537.16 172.21,536.44 173.32,535.67 C174.42,534.90 177.30,533.72 178.55,533.36 C179.80,532.99 180.46,533.59 180.81,533.48 C181.17,533.38 180.46,532.86 180.67,532.72 Z" fill="#7cc84a"/><path d="M179.98,534.42 C180.11,534.36 180.57,534.41 180.92,534.50 C181.26,534.58 181.79,534.82 182.05,534.93 C182.31,535.04 182.33,535.04 182.47,535.18 C182.60,535.33 182.78,535.62 182.87,535.82 C182.96,536.02 183.00,536.22 182.99,536.39 C182.98,536.57 182.85,536.65 182.83,536.86 C182.81,537.08 182.85,537.13 182.85,537.67 C182.84,538.20 182.98,539.31 182.81,540.08 C182.63,540.84 182.20,541.69 181.81,542.25 C181.42,542.82 180.91,543.18 180.47,543.49 C180.04,543.81 179.56,544.01 179.21,544.15 C178.86,544.28 178.63,544.31 178.39,544.32 C178.15,544.34 178.11,544.33 177.79,544.23 C177.48,544.13 177.05,544.04 176.50,543.70 C175.94,543.35 174.97,542.73 174.46,542.14 C173.96,541.55 173.62,540.79 173.46,540.13 C173.29,539.48 173.33,538.84 173.49,538.23 C173.65,537.61 173.61,537.05 174.44,536.45 C175.26,535.85 177.49,534.91 178.44,534.64 C179.39,534.37 179.89,534.89 180.14,534.85 C180.40,534.81 179.85,534.47 179.98,534.42 Z" fill="#bcd636"/><path d="M179.29,536.08 C179.37,536.06 179.66,536.12 179.86,536.18 C180.07,536.25 180.38,536.42 180.53,536.50 C180.68,536.58 180.69,536.57 180.77,536.66 C180.85,536.76 180.97,536.93 181.03,537.05 C181.09,537.17 181.12,537.29 181.13,537.39 C181.13,537.49 181.07,537.53 181.07,537.66 C181.08,537.78 181.12,537.81 181.13,538.15 C181.13,538.49 181.23,539.20 181.12,539.69 C181.01,540.18 180.72,540.72 180.47,541.07 C180.21,541.43 179.88,541.65 179.60,541.84 C179.32,542.03 179.02,542.14 178.80,542.22 C178.58,542.31 178.43,542.32 178.28,542.33 C178.13,542.33 178.11,542.34 177.91,542.28 C177.71,542.23 177.44,542.20 177.08,541.99 C176.72,541.78 176.09,541.39 175.77,541.02 C175.44,540.64 175.22,540.15 175.11,539.73 C175.01,539.31 175.02,538.90 175.12,538.50 C175.21,538.10 175.16,537.72 175.70,537.33 C176.23,536.93 177.71,536.30 178.33,536.13 C178.95,535.95 179.26,536.31 179.42,536.31 C179.59,536.30 179.22,536.10 179.29,536.08 Z" fill="#f0dc20"/><path d="M178.63,537.72 C178.66,537.71 178.78,537.73 178.88,537.76 C178.97,537.79 179.10,537.86 179.17,537.90 C179.23,537.93 179.24,537.93 179.27,537.97 C179.31,538.01 179.36,538.09 179.39,538.14 C179.41,538.19 179.43,538.25 179.43,538.29 C179.43,538.34 179.41,538.35 179.41,538.41 C179.41,538.46 179.43,538.48 179.43,538.63 C179.43,538.78 179.48,539.09 179.43,539.30 C179.38,539.52 179.25,539.75 179.14,539.91 C179.03,540.07 178.88,540.17 178.76,540.25 C178.64,540.33 178.50,540.38 178.41,540.42 C178.31,540.45 178.24,540.46 178.18,540.46 C178.11,540.47 178.10,540.47 178.02,540.44 C177.93,540.42 177.81,540.41 177.65,540.31 C177.49,540.22 177.22,540.05 177.07,539.89 C176.93,539.72 176.83,539.50 176.79,539.32 C176.74,539.14 176.75,538.96 176.79,538.78 C176.83,538.60 176.81,538.44 177.04,538.27 C177.28,538.09 177.93,537.81 178.20,537.74 C178.47,537.66 178.61,537.82 178.68,537.82 C178.75,537.81 178.59,537.73 178.63,537.72 Z" fill="#f09020"/></g>
<g filter="url(#bl)"><path d="M189.00,520.00 C189.67,518.42 193.50,516.50 196.00,515.50 C198.50,514.50 202.00,514.08 204.00,514.00 C206.00,513.92 207.42,513.83 208.00,515.00 C208.58,516.17 208.50,519.25 207.50,521.00 C206.50,522.75 204.58,524.83 202.00,525.50 C199.42,526.17 194.17,525.92 192.00,525.00 C189.83,524.08 188.33,521.58 189.00,520.00 Z" fill="#2446c0"/><path d="M193.42,519.82 C193.73,518.66 195.22,517.03 196.91,516.20 C198.60,515.37 202.02,514.83 203.58,514.82 C205.14,514.81 205.80,515.16 206.27,516.14 C206.75,517.13 207.16,519.33 206.43,520.75 C205.70,522.16 203.78,524.25 201.89,524.65 C199.99,525.06 196.47,523.98 195.06,523.17 C193.65,522.37 193.11,520.98 193.42,519.82 Z" fill="#2b62d6"/><path d="M196.59,519.69 C196.71,518.92 197.13,517.76 198.18,517.18 C199.23,516.59 201.84,516.14 202.90,516.15 C203.97,516.17 204.24,516.57 204.57,517.27 C204.90,517.98 205.38,519.39 204.90,520.38 C204.42,521.37 202.94,522.98 201.69,523.21 C200.45,523.44 198.27,522.35 197.42,521.76 C196.57,521.17 196.46,520.45 196.59,519.69 Z" fill="#3590e0"/><path d="M198.77,519.60 C198.82,519.17 198.89,518.50 199.46,518.16 C200.03,517.82 201.58,517.55 202.19,517.56 C202.79,517.58 202.89,517.85 203.08,518.25 C203.27,518.66 203.59,519.44 203.33,520.01 C203.06,520.57 202.18,521.53 201.49,521.65 C200.79,521.77 199.62,521.06 199.17,520.71 C198.72,520.37 198.72,520.02 198.77,519.60 Z" fill="#42bde6"/></g>
<g filter="url(#bl)"><path d="M269.00,526.00 C270.58,523.72 272.67,517.60 275.30,515.50 C277.93,513.40 281.80,514.10 284.80,513.40 C287.80,512.70 291.35,511.90 293.30,511.30 C295.25,510.70 295.85,509.02 296.50,509.80 C297.15,510.58 297.38,513.47 297.20,516.00 C297.02,518.53 296.93,522.08 295.40,525.00 C293.87,527.92 289.58,530.33 288.00,533.50 C286.42,536.67 287.13,540.48 285.90,544.00 C284.67,547.52 282.55,551.43 280.60,554.60 C278.65,557.77 276.13,560.70 274.20,563.00 C272.27,565.30 270.58,567.68 269.00,568.40 C267.42,569.12 266.12,568.53 264.70,567.30 C263.28,566.07 262.28,563.12 260.50,561.00 C258.72,558.88 255.58,557.07 254.00,554.60 C252.42,552.13 251.33,549.37 251.00,546.20 C250.67,543.03 250.95,537.90 252.00,535.60 C253.05,533.30 255.00,533.47 257.30,532.40 C259.60,531.33 263.85,530.27 265.80,529.20 C267.75,528.13 267.42,528.28 269.00,526.00 Z" fill="#1c2b8c"/><path d="M268.78,526.83 C270.02,525.46 271.36,521.67 273.25,520.48 C275.13,519.30 278.00,519.99 280.10,519.71 C282.20,519.43 284.54,519.10 285.85,518.81 C287.15,518.52 287.45,517.39 287.92,517.96 C288.40,518.53 288.70,520.48 288.71,522.24 C288.73,524.00 288.85,526.47 288.01,528.53 C287.18,530.60 284.63,532.16 283.70,534.61 C282.77,537.05 283.38,540.32 282.42,543.20 C281.46,546.08 279.61,549.42 277.94,551.91 C276.27,554.39 274.03,556.48 272.41,558.12 C270.78,559.75 269.45,561.22 268.20,561.71 C266.94,562.20 266.01,561.83 264.88,561.05 C263.75,560.27 262.94,558.49 261.42,557.03 C259.89,555.57 257.21,554.22 255.74,552.29 C254.26,550.36 253.03,548.20 252.56,545.46 C252.09,542.72 252.16,538.06 252.91,535.85 C253.66,533.64 254.92,533.41 257.07,532.21 C259.22,531.01 263.86,529.57 265.82,528.67 C267.77,527.78 267.54,528.19 268.78,526.83 Z" fill="#2446c0"/><path d="M268.50,527.89 C269.53,526.99 270.48,524.39 271.94,523.65 C273.41,522.92 275.69,523.57 277.29,523.48 C278.89,523.39 280.60,523.27 281.56,523.13 C282.52,522.98 282.67,522.15 283.04,522.61 C283.42,523.06 283.73,524.49 283.82,525.83 C283.92,527.17 284.12,529.05 283.62,530.63 C283.13,532.22 281.46,533.34 280.85,535.34 C280.24,537.34 280.78,540.19 279.99,542.64 C279.20,545.09 277.57,547.99 276.11,550.05 C274.66,552.11 272.66,553.73 271.26,554.99 C269.86,556.25 268.75,557.25 267.70,557.62 C266.66,557.98 265.93,557.73 264.99,557.19 C264.04,556.64 263.36,555.45 262.03,554.34 C260.71,553.24 258.37,552.16 257.03,550.57 C255.68,548.98 254.46,547.20 253.96,544.79 C253.46,542.39 253.44,538.20 254.02,536.15 C254.61,534.11 255.50,533.72 257.47,532.54 C259.43,531.36 263.96,529.84 265.80,529.07 C267.64,528.29 267.48,528.80 268.50,527.89 Z" fill="#2b62d6"/><path d="M268.18,529.12 C269.02,528.54 269.69,526.78 270.83,526.36 C271.97,525.93 273.78,526.52 275.00,526.55 C276.22,526.58 277.46,526.59 278.17,526.54 C278.87,526.49 278.93,525.88 279.22,526.24 C279.52,526.59 279.82,527.66 279.96,528.67 C280.10,529.69 280.33,531.11 280.07,532.33 C279.80,533.55 278.73,534.35 278.35,535.99 C277.97,537.62 278.43,540.06 277.78,542.13 C277.14,544.20 275.72,546.69 274.47,548.39 C273.22,550.08 271.47,551.33 270.27,552.31 C269.08,553.28 268.16,553.95 267.30,554.23 C266.43,554.50 265.87,554.33 265.08,553.95 C264.30,553.57 263.72,552.79 262.58,551.96 C261.44,551.13 259.44,550.27 258.24,548.96 C257.04,547.65 255.89,546.19 255.39,544.11 C254.90,542.03 254.83,538.34 255.28,536.50 C255.74,534.66 256.37,534.20 258.12,533.09 C259.87,531.98 264.11,530.50 265.78,529.84 C267.46,529.18 267.34,529.71 268.18,529.12 Z" fill="#3590e0"/><path d="M267.82,530.49 C268.50,530.14 268.96,529.00 269.83,528.79 C270.70,528.57 272.11,529.09 273.03,529.19 C273.95,529.30 274.83,529.39 275.33,529.40 C275.84,529.41 275.83,528.97 276.06,529.25 C276.29,529.52 276.57,530.29 276.72,531.05 C276.88,531.81 277.13,532.87 277.01,533.79 C276.90,534.72 276.27,535.27 276.05,536.58 C275.83,537.89 276.22,539.94 275.70,541.65 C275.18,543.36 273.98,545.45 272.92,546.82 C271.87,548.20 270.38,549.15 269.39,549.89 C268.39,550.62 267.64,551.05 266.94,551.25 C266.23,551.46 265.80,551.34 265.16,551.09 C264.52,550.84 264.05,550.36 263.09,549.74 C262.14,549.12 260.45,548.45 259.42,547.39 C258.38,546.34 257.34,545.15 256.88,543.40 C256.42,541.65 256.32,538.48 256.67,536.88 C257.02,535.28 257.45,534.80 258.97,533.80 C260.48,532.80 264.27,531.43 265.75,530.88 C267.23,530.33 267.14,530.84 267.82,530.49 Z" fill="#42bde6"/><path d="M267.43,531.97 C267.96,531.78 268.26,531.10 268.90,531.03 C269.55,530.96 270.62,531.40 271.29,531.53 C271.95,531.67 272.55,531.81 272.90,531.85 C273.24,531.90 273.20,531.60 273.38,531.80 C273.55,532.01 273.79,532.55 273.95,533.09 C274.10,533.64 274.33,534.41 274.32,535.08 C274.31,535.75 273.99,536.12 273.88,537.14 C273.78,538.16 274.09,539.82 273.68,541.19 C273.28,542.55 272.30,544.25 271.44,545.32 C270.59,546.40 269.37,547.10 268.56,547.64 C267.76,548.18 267.17,548.44 266.62,548.58 C266.06,548.72 265.74,548.65 265.24,548.49 C264.73,548.34 264.36,548.07 263.58,547.63 C262.80,547.19 261.44,546.68 260.58,545.85 C259.72,545.02 258.82,544.10 258.42,542.67 C258.01,541.24 257.90,538.63 258.16,537.29 C258.42,535.95 258.70,535.50 259.96,534.64 C261.22,533.78 264.47,532.58 265.71,532.13 C266.96,531.69 266.90,532.15 267.43,531.97 Z" fill="#55c9a8"/><path d="M267.01,533.55 C267.41,533.47 267.59,533.12 268.04,533.14 C268.49,533.15 269.26,533.50 269.72,533.64 C270.17,533.78 270.55,533.93 270.78,533.99 C271.00,534.05 270.94,533.85 271.07,534.00 C271.19,534.15 271.39,534.50 271.53,534.87 C271.67,535.24 271.87,535.76 271.91,536.23 C271.96,536.70 271.84,536.92 271.81,537.67 C271.78,538.42 272.02,539.70 271.72,540.73 C271.41,541.76 270.66,543.06 270.00,543.86 C269.35,544.66 268.40,545.15 267.79,545.53 C267.17,545.91 266.74,546.04 266.32,546.13 C265.91,546.23 265.68,546.19 265.31,546.10 C264.93,546.01 264.65,545.89 264.05,545.59 C263.45,545.30 262.41,544.93 261.73,544.31 C261.06,543.70 260.33,543.01 260.00,541.92 C259.67,540.82 259.57,538.78 259.75,537.72 C259.93,536.67 260.10,536.28 261.09,535.59 C262.07,534.90 264.68,533.91 265.67,533.57 C266.66,533.23 266.62,533.62 267.01,533.55 Z" fill="#7cc84a"/><path d="M266.57,535.25 C266.83,535.23 266.93,535.08 267.22,535.12 C267.51,535.17 268.02,535.42 268.31,535.53 C268.59,535.65 268.81,535.77 268.95,535.83 C269.08,535.88 269.03,535.77 269.11,535.86 C269.19,535.96 269.33,536.17 269.44,536.40 C269.55,536.64 269.70,536.97 269.76,537.26 C269.82,537.56 269.81,537.69 269.81,538.19 C269.81,538.69 269.98,539.58 269.77,540.28 C269.57,540.99 269.05,541.89 268.59,542.43 C268.14,542.97 267.48,543.29 267.05,543.53 C266.63,543.77 266.33,543.82 266.05,543.88 C265.77,543.94 265.63,543.92 265.37,543.88 C265.11,543.83 264.92,543.80 264.51,543.61 C264.09,543.42 263.37,543.18 262.89,542.77 C262.42,542.35 261.90,541.89 261.66,541.13 C261.42,540.36 261.34,538.94 261.45,538.19 C261.57,537.45 261.66,537.15 262.36,536.66 C263.05,536.16 264.92,535.45 265.62,535.21 C266.32,534.98 266.30,535.26 266.57,535.25 Z" fill="#bcd636"/><path d="M266.08,537.08 C266.23,537.07 266.28,536.98 266.44,537.01 C266.60,537.04 266.88,537.17 267.04,537.24 C267.20,537.30 267.32,537.37 267.39,537.40 C267.46,537.43 267.43,537.36 267.48,537.42 C267.52,537.47 267.60,537.59 267.66,537.71 C267.72,537.84 267.80,538.02 267.83,538.18 C267.87,538.35 267.86,538.42 267.86,538.69 C267.86,538.97 267.95,539.45 267.84,539.84 C267.73,540.23 267.44,540.72 267.19,541.02 C266.95,541.31 266.58,541.48 266.35,541.62 C266.12,541.75 265.96,541.78 265.80,541.81 C265.65,541.84 265.57,541.83 265.43,541.81 C265.29,541.78 265.18,541.76 264.96,541.66 C264.73,541.56 264.33,541.43 264.07,541.20 C263.81,540.97 263.53,540.72 263.40,540.30 C263.26,539.88 263.22,539.10 263.28,538.69 C263.35,538.28 263.40,538.12 263.78,537.85 C264.16,537.58 265.18,537.19 265.57,537.06 C265.95,536.93 265.94,537.09 266.08,537.08 Z" fill="#f0dc20"/></g>
<g filter="url(#bl)"><path d="M277.00,518.00 C278.50,516.33 283.17,515.75 286.00,515.00 C288.83,514.25 292.42,513.00 294.00,513.50 C295.58,514.00 295.83,516.25 295.50,518.00 C295.17,519.75 293.92,522.50 292.00,524.00 C290.08,525.50 286.50,526.83 284.00,527.00 C281.50,527.17 278.17,526.50 277.00,525.00 C275.83,523.50 275.50,519.67 277.00,518.00 Z" fill="#2446c0"/><path d="M280.63,518.49 C281.48,517.16 284.05,515.65 286.03,515.07 C288.01,514.49 291.18,514.47 292.49,515.01 C293.79,515.56 294.04,516.92 293.88,518.32 C293.72,519.73 293.01,522.34 291.53,523.47 C290.05,524.60 286.78,525.17 285.01,525.10 C283.24,525.03 281.62,524.15 280.89,523.05 C280.16,521.95 279.77,519.83 280.63,518.49 Z" fill="#2b62d6"/><path d="M283.45,518.88 C283.91,517.96 285.24,516.50 286.49,516.11 C287.75,515.71 290.06,516.08 290.98,516.52 C291.91,516.95 292.09,517.72 292.02,518.70 C291.95,519.68 291.57,521.64 290.57,522.39 C289.57,523.15 287.15,523.35 286.01,523.23 C284.87,523.10 284.17,522.36 283.74,521.63 C283.31,520.91 282.99,519.80 283.45,518.88 Z" fill="#3590e0"/><path d="M285.55,519.17 C285.78,518.64 286.42,517.70 287.10,517.48 C287.79,517.26 289.14,517.57 289.67,517.83 C290.20,518.09 290.31,518.48 290.28,519.04 C290.25,519.60 290.07,520.76 289.50,521.19 C288.93,521.61 287.51,521.68 286.89,521.58 C286.26,521.49 285.97,521.03 285.74,520.63 C285.52,520.22 285.32,519.69 285.55,519.17 Z" fill="#42bde6"/></g>
<g filter="url(#bl)"><path d="M100.00,607.00 C101.53,605.83 104.60,604.37 106.90,603.50 C109.20,602.63 111.68,602.18 113.80,601.80 C115.92,601.42 118.35,600.53 119.60,601.20 C120.85,601.87 121.10,603.87 121.30,605.80 C121.50,607.73 121.13,610.87 120.80,612.80 C120.47,614.73 119.80,615.67 119.30,617.40 C118.80,619.13 118.43,621.28 117.80,623.20 C117.17,625.12 116.50,626.80 115.50,628.90 C114.50,631.00 113.25,633.68 111.80,635.80 C110.35,637.92 108.33,639.87 106.80,641.60 C105.27,643.33 104.03,644.87 102.60,646.20 C101.17,647.53 99.78,649.22 98.20,649.60 C96.62,649.98 94.72,649.25 93.10,648.50 C91.48,647.75 90.05,646.43 88.50,645.10 C86.95,643.77 84.97,642.43 83.80,640.50 C82.63,638.57 82.17,635.82 81.50,633.50 C80.83,631.18 79.98,628.52 79.80,626.60 C79.62,624.68 79.15,623.35 80.40,622.00 C81.65,620.65 85.00,619.65 87.30,618.50 C89.60,617.35 92.47,616.43 94.20,615.10 C95.93,613.77 96.73,611.85 97.70,610.50 C98.67,609.15 98.47,608.17 100.00,607.00 Z" fill="#1c2b8c"/><path d="M99.03,610.08 C100.19,609.39 102.54,608.58 104.23,608.13 C105.92,607.67 107.69,607.51 109.20,607.37 C110.70,607.22 112.35,606.72 113.27,607.26 C114.18,607.80 114.44,609.20 114.68,610.61 C114.91,612.02 114.82,614.30 114.69,615.72 C114.56,617.14 114.16,617.82 113.89,619.15 C113.62,620.47 113.46,622.14 113.07,623.66 C112.69,625.18 112.28,626.55 111.56,628.27 C110.83,629.99 109.87,632.24 108.71,633.99 C107.55,635.74 105.87,637.39 104.58,638.77 C103.30,640.14 102.20,641.26 101.00,642.25 C99.80,643.23 98.66,644.38 97.38,644.67 C96.10,644.96 94.63,644.50 93.32,644.00 C92.00,643.50 90.82,642.63 89.50,641.65 C88.18,640.68 86.51,639.68 85.41,638.17 C84.32,636.67 83.62,634.55 82.93,632.60 C82.24,630.65 81.48,628.19 81.29,626.49 C81.09,624.78 80.79,623.70 81.78,622.35 C82.76,621.00 85.14,619.60 87.21,618.41 C89.28,617.21 92.52,616.19 94.20,615.17 C95.88,614.15 96.48,613.13 97.28,612.28 C98.09,611.43 97.88,610.77 99.03,610.08 Z" fill="#2446c0"/><path d="M98.38,612.16 C99.32,611.71 101.24,611.23 102.59,610.97 C103.93,610.72 105.31,610.69 106.47,610.66 C107.64,610.62 108.87,610.31 109.59,610.77 C110.32,611.23 110.57,612.31 110.81,613.42 C111.05,614.54 111.08,616.33 111.04,617.46 C111.01,618.59 110.75,619.13 110.59,620.21 C110.44,621.29 110.38,622.67 110.11,623.95 C109.85,625.22 109.58,626.39 109.00,627.86 C108.43,629.34 107.65,631.29 106.67,632.80 C105.68,634.30 104.23,635.74 103.12,636.89 C102.00,638.05 101.01,638.94 99.97,639.72 C98.93,640.51 97.96,641.36 96.87,641.60 C95.79,641.84 94.57,641.52 93.45,641.15 C92.33,640.78 91.32,640.14 90.16,639.38 C89.01,638.61 87.55,637.80 86.54,636.55 C85.53,635.30 84.76,633.56 84.10,631.86 C83.43,630.17 82.74,627.92 82.56,626.39 C82.37,624.85 82.15,623.93 82.97,622.65 C83.80,621.37 85.64,619.87 87.51,618.71 C89.38,617.55 92.63,616.54 94.20,615.70 C95.77,614.86 96.26,614.28 96.95,613.69 C97.65,613.10 97.44,612.62 98.38,612.16 Z" fill="#2b62d6"/><path d="M97.80,614.01 C98.56,613.73 100.14,613.46 101.21,613.35 C102.29,613.23 103.36,613.28 104.27,613.32 C105.18,613.36 106.10,613.18 106.67,613.57 C107.25,613.96 107.49,614.79 107.72,615.67 C107.95,616.56 108.06,617.97 108.08,618.87 C108.10,619.78 107.94,620.21 107.86,621.09 C107.78,621.98 107.78,623.12 107.61,624.19 C107.43,625.26 107.26,626.25 106.80,627.51 C106.35,628.77 105.70,630.46 104.88,631.75 C104.05,633.04 102.80,634.29 101.84,635.26 C100.87,636.22 99.99,636.93 99.09,637.56 C98.20,638.19 97.37,638.83 96.44,639.02 C95.52,639.22 94.52,639.00 93.57,638.73 C92.62,638.46 91.75,637.99 90.74,637.39 C89.74,636.78 88.47,636.12 87.56,635.08 C86.64,634.04 85.86,632.61 85.24,631.14 C84.62,629.68 84.01,627.66 83.83,626.29 C83.65,624.93 83.50,624.15 84.19,622.96 C84.88,621.78 86.30,620.27 87.97,619.18 C89.64,618.10 92.76,617.13 94.20,616.44 C95.64,615.75 96.04,615.47 96.64,615.06 C97.24,614.66 97.04,614.30 97.80,614.01 Z" fill="#3590e0"/><path d="M97.26,615.73 C97.88,615.57 99.15,615.46 100.01,615.44 C100.86,615.42 101.69,615.52 102.39,615.60 C103.09,615.68 103.76,615.59 104.21,615.92 C104.67,616.25 104.88,616.88 105.10,617.57 C105.32,618.27 105.47,619.38 105.53,620.09 C105.59,620.81 105.49,621.14 105.47,621.86 C105.44,622.58 105.49,623.52 105.37,624.41 C105.26,625.30 105.16,626.13 104.80,627.19 C104.44,628.25 103.92,629.69 103.23,630.79 C102.54,631.88 101.48,632.95 100.66,633.75 C99.84,634.55 99.07,635.11 98.30,635.61 C97.54,636.11 96.84,636.58 96.07,636.74 C95.29,636.90 94.47,636.76 93.67,636.56 C92.87,636.36 92.14,636.03 91.28,635.55 C90.42,635.08 89.33,634.55 88.52,633.70 C87.70,632.84 86.96,631.67 86.39,630.42 C85.83,629.17 85.29,627.38 85.13,626.19 C84.97,625.00 84.86,624.34 85.43,623.28 C86.00,622.21 87.10,620.77 88.56,619.78 C90.02,618.79 92.91,617.89 94.20,617.33 C95.49,616.77 95.81,616.69 96.32,616.43 C96.83,616.16 96.65,615.90 97.26,615.73 Z" fill="#42bde6"/><path d="M96.75,617.37 C97.23,617.30 98.25,617.29 98.92,617.33 C99.58,617.37 100.20,617.50 100.73,617.60 C101.26,617.71 101.74,617.68 102.09,617.96 C102.44,618.23 102.63,618.69 102.83,619.23 C103.02,619.77 103.19,620.61 103.27,621.17 C103.35,621.72 103.31,621.98 103.32,622.56 C103.33,623.13 103.39,623.89 103.33,624.61 C103.27,625.33 103.21,626.02 102.94,626.89 C102.66,627.77 102.25,628.97 101.68,629.88 C101.12,630.79 100.23,631.68 99.55,632.33 C98.86,632.99 98.21,633.42 97.57,633.81 C96.93,634.20 96.35,634.53 95.72,634.66 C95.09,634.78 94.42,634.70 93.77,634.56 C93.11,634.42 92.50,634.19 91.78,633.83 C91.06,633.46 90.15,633.05 89.45,632.36 C88.74,631.67 88.06,630.73 87.56,629.68 C87.06,628.64 86.60,627.11 86.46,626.09 C86.32,625.08 86.24,624.54 86.70,623.60 C87.17,622.66 87.99,621.34 89.24,620.47 C90.49,619.60 93.07,618.80 94.20,618.35 C95.33,617.90 95.57,617.96 96.00,617.80 C96.42,617.63 96.26,617.45 96.75,617.37 Z" fill="#55c9a8"/><path d="M96.25,618.95 C96.63,618.93 97.41,619.00 97.91,619.07 C98.41,619.14 98.86,619.28 99.25,619.39 C99.63,619.51 99.96,619.52 100.22,619.74 C100.48,619.96 100.65,620.29 100.82,620.69 C100.99,621.09 101.15,621.72 101.24,622.14 C101.33,622.55 101.32,622.75 101.35,623.19 C101.38,623.64 101.46,624.22 101.43,624.80 C101.40,625.37 101.38,625.91 101.18,626.61 C100.97,627.32 100.65,628.29 100.20,629.01 C99.76,629.74 99.04,630.46 98.49,630.98 C97.94,631.50 97.40,631.82 96.88,632.11 C96.37,632.41 95.91,632.64 95.40,632.73 C94.90,632.83 94.38,632.79 93.86,632.69 C93.33,632.60 92.84,632.45 92.26,632.18 C91.67,631.91 90.94,631.59 90.35,631.05 C89.76,630.51 89.16,629.78 88.74,628.94 C88.32,628.10 87.94,626.82 87.82,625.99 C87.70,625.15 87.65,624.72 88.01,623.93 C88.38,623.14 88.98,621.99 90.01,621.25 C91.04,620.51 93.26,619.82 94.20,619.48 C95.14,619.13 95.33,619.27 95.67,619.18 C96.02,619.09 95.88,618.97 96.25,618.95 Z" fill="#7cc84a"/><path d="M95.77,620.49 C96.04,620.50 96.62,620.60 96.98,620.69 C97.34,620.77 97.65,620.90 97.92,621.01 C98.18,621.11 98.39,621.15 98.57,621.32 C98.76,621.48 98.89,621.71 99.03,621.99 C99.17,622.27 99.32,622.72 99.40,623.02 C99.49,623.31 99.50,623.45 99.54,623.78 C99.58,624.10 99.65,624.54 99.65,624.97 C99.64,625.40 99.64,625.81 99.50,626.35 C99.35,626.88 99.12,627.62 98.78,628.18 C98.44,628.74 97.90,629.29 97.47,629.68 C97.05,630.07 96.63,630.30 96.23,630.51 C95.84,630.72 95.48,630.86 95.10,630.94 C94.72,631.01 94.34,630.99 93.94,630.93 C93.54,630.88 93.17,630.79 92.72,630.60 C92.27,630.40 91.70,630.17 91.24,629.77 C90.78,629.37 90.28,628.83 89.94,628.18 C89.60,627.53 89.31,626.53 89.21,625.88 C89.11,625.23 89.09,624.90 89.36,624.27 C89.63,623.64 90.04,622.70 90.85,622.10 C91.66,621.51 93.45,620.95 94.20,620.70 C94.95,620.45 95.09,620.62 95.35,620.58 C95.61,620.54 95.50,620.47 95.77,620.49 Z" fill="#bcd636"/><path d="M95.30,621.99 C95.48,622.02 95.88,622.11 96.12,622.18 C96.35,622.26 96.56,622.36 96.73,622.44 C96.90,622.52 97.03,622.56 97.15,622.68 C97.27,622.79 97.37,622.94 97.47,623.12 C97.57,623.31 97.69,623.61 97.75,623.80 C97.82,624.00 97.83,624.09 97.87,624.32 C97.91,624.54 97.97,624.84 97.97,625.13 C97.97,625.43 97.98,625.72 97.88,626.09 C97.79,626.46 97.63,626.98 97.39,627.37 C97.16,627.76 96.78,628.15 96.48,628.42 C96.18,628.68 95.89,628.84 95.61,628.98 C95.33,629.12 95.09,629.21 94.82,629.25 C94.56,629.30 94.30,629.30 94.02,629.27 C93.74,629.23 93.48,629.18 93.17,629.05 C92.85,628.93 92.45,628.77 92.12,628.50 C91.79,628.22 91.43,627.85 91.19,627.40 C90.94,626.94 90.73,626.23 90.66,625.77 C90.59,625.31 90.58,625.08 90.77,624.63 C90.96,624.18 91.22,623.49 91.79,623.06 C92.37,622.63 93.66,622.23 94.20,622.06 C94.74,621.89 94.83,622.03 95.01,622.02 C95.19,622.01 95.12,621.97 95.30,621.99 Z" fill="#f0dc20"/><path d="M94.83,623.48 C94.94,623.49 95.17,623.54 95.31,623.58 C95.44,623.63 95.56,623.69 95.66,623.73 C95.76,623.78 95.83,623.80 95.90,623.87 C95.98,623.94 96.03,624.02 96.09,624.13 C96.15,624.24 96.21,624.41 96.25,624.52 C96.29,624.64 96.30,624.69 96.32,624.82 C96.34,624.94 96.38,625.12 96.38,625.29 C96.38,625.46 96.38,625.62 96.33,625.84 C96.27,626.05 96.18,626.36 96.04,626.58 C95.91,626.80 95.69,627.03 95.52,627.18 C95.35,627.34 95.17,627.43 95.01,627.51 C94.85,627.59 94.71,627.64 94.56,627.67 C94.41,627.70 94.26,627.69 94.10,627.67 C93.94,627.65 93.79,627.63 93.60,627.55 C93.42,627.48 93.19,627.39 93.00,627.23 C92.81,627.07 92.60,626.86 92.46,626.60 C92.32,626.33 92.20,625.92 92.16,625.66 C92.12,625.39 92.11,625.26 92.22,625.00 C92.33,624.74 92.48,624.34 92.81,624.09 C93.14,623.84 93.89,623.61 94.20,623.51 C94.51,623.41 94.56,623.50 94.67,623.49 C94.77,623.49 94.73,623.46 94.83,623.48 Z" fill="#f09020"/></g>
<g filter="url(#bl)"><path d="M101.00,610.00 C101.67,608.50 105.67,606.08 108.00,605.00 C110.33,603.92 113.17,603.58 115.00,603.50 C116.83,603.42 118.50,603.25 119.00,604.50 C119.50,605.75 119.17,609.25 118.00,611.00 C116.83,612.75 114.33,614.50 112.00,615.00 C109.67,615.50 105.83,614.83 104.00,614.00 C102.17,613.17 100.33,611.50 101.00,610.00 Z" fill="#2446c0"/><path d="M105.89,609.31 C106.17,608.26 107.62,606.55 109.12,605.62 C110.63,604.69 113.45,603.82 114.94,603.75 C116.43,603.67 117.61,603.99 118.07,605.16 C118.53,606.34 118.64,609.40 117.69,610.80 C116.75,612.19 114.09,613.34 112.39,613.53 C110.69,613.72 108.57,612.64 107.48,611.94 C106.40,611.24 105.62,610.36 105.89,609.31 Z" fill="#2b62d6"/><path d="M109.23,608.84 C109.32,608.17 109.64,607.07 110.55,606.41 C111.45,605.74 113.61,604.90 114.66,604.85 C115.70,604.79 116.46,605.18 116.80,606.07 C117.14,606.95 117.36,609.17 116.70,610.14 C116.04,611.10 113.95,611.80 112.83,611.85 C111.72,611.90 110.62,610.94 110.02,610.44 C109.42,609.94 109.14,609.51 109.23,608.84 Z" fill="#3590e0"/><path d="M111.44,608.53 C111.46,608.16 111.46,607.56 111.94,607.17 C112.42,606.79 113.71,606.25 114.31,606.22 C114.90,606.18 115.32,606.45 115.52,606.98 C115.72,607.50 115.89,608.79 115.51,609.34 C115.13,609.89 113.87,610.26 113.25,610.27 C112.63,610.28 112.10,609.67 111.80,609.38 C111.50,609.09 111.41,608.90 111.44,608.53 Z" fill="#42bde6"/></g>
<g filter="url(#bl)"><path d="M185.00,602.70 C186.35,601.35 189.20,601.17 191.90,600.40 C194.60,599.63 198.12,598.58 201.20,598.10 C204.28,597.62 208.58,597.12 210.40,597.50 C212.22,597.88 211.92,598.57 212.10,600.40 C212.28,602.23 212.17,606.38 211.50,608.50 C210.83,610.62 209.43,611.77 208.10,613.10 C206.77,614.43 204.65,615.35 203.50,616.50 C202.35,617.65 201.20,618.83 201.20,620.00 C201.20,621.17 203.90,622.35 203.50,623.50 C203.10,624.65 200.35,625.57 198.80,626.90 C197.25,628.23 195.53,629.95 194.20,631.50 C192.87,633.05 191.95,634.65 190.80,636.20 C189.65,637.75 188.65,639.47 187.30,640.80 C185.95,642.13 184.23,643.82 182.70,644.20 C181.17,644.58 179.25,644.05 178.10,643.10 C176.95,642.15 177.15,639.27 175.80,638.50 C174.45,637.73 171.93,638.88 170.00,638.50 C168.07,638.12 165.55,637.75 164.20,636.20 C162.85,634.65 161.90,631.13 161.90,629.20 C161.90,627.27 162.85,625.93 164.20,624.60 C165.55,623.27 168.07,622.35 170.00,621.20 C171.93,620.05 174.07,619.05 175.80,617.70 C177.53,616.35 179.07,614.63 180.40,613.10 C181.73,611.57 183.03,610.23 183.80,608.50 C184.57,606.77 183.65,604.05 185.00,602.70 Z" fill="#1c2b8c"/><path d="M184.61,606.26 C185.68,605.39 188.02,605.34 190.10,604.93 C192.17,604.51 194.79,603.97 197.06,603.78 C199.33,603.59 202.37,603.42 203.70,603.79 C205.03,604.15 204.82,604.60 205.03,605.95 C205.24,607.31 205.33,610.35 204.96,611.91 C204.59,613.46 203.67,614.29 202.81,615.27 C201.94,616.24 200.53,616.87 199.79,617.75 C199.05,618.63 198.33,619.58 198.36,620.54 C198.39,621.50 200.23,622.51 199.96,623.50 C199.69,624.49 197.87,625.25 196.74,626.46 C195.60,627.67 194.26,629.36 193.13,630.75 C191.99,632.14 190.99,633.55 189.91,634.81 C188.83,636.06 187.84,637.32 186.64,638.30 C185.43,639.28 184.00,640.43 182.70,640.70 C181.40,640.96 179.86,640.56 178.86,639.87 C177.86,639.18 177.83,637.20 176.69,636.57 C175.55,635.94 173.56,636.53 172.04,636.09 C170.52,635.64 168.64,635.21 167.56,633.89 C166.48,632.58 165.65,629.77 165.55,628.20 C165.46,626.62 166.09,625.57 166.99,624.43 C167.88,623.30 169.50,622.53 170.93,621.37 C172.36,620.21 173.96,618.83 175.54,617.48 C177.13,616.14 179.09,614.52 180.44,613.30 C181.80,612.07 182.99,611.31 183.68,610.14 C184.37,608.97 183.54,607.13 184.61,606.26 Z" fill="#2446c0"/><path d="M184.35,608.56 C185.25,607.94 187.27,607.96 188.98,607.72 C190.69,607.48 192.81,607.19 194.62,607.14 C196.43,607.09 198.78,607.08 199.84,607.42 C200.89,607.75 200.73,608.08 200.95,609.16 C201.16,610.25 201.34,612.67 201.11,613.91 C200.89,615.15 200.22,615.81 199.60,616.58 C198.99,617.35 197.95,617.82 197.42,618.54 C196.90,619.27 196.40,620.07 196.44,620.90 C196.48,621.73 197.87,622.63 197.67,623.50 C197.46,624.37 196.14,625.04 195.23,626.15 C194.32,627.25 193.22,628.86 192.22,630.12 C191.21,631.38 190.22,632.64 189.22,633.72 C188.21,634.79 187.26,635.79 186.18,636.57 C185.09,637.36 183.84,638.22 182.70,638.42 C181.56,638.61 180.25,638.29 179.36,637.75 C178.46,637.20 178.33,635.70 177.34,635.16 C176.34,634.62 174.67,634.94 173.40,634.49 C172.12,634.03 170.61,633.59 169.69,632.43 C168.77,631.28 168.03,628.91 167.90,627.56 C167.76,626.20 168.23,625.33 168.88,624.32 C169.54,623.32 170.69,622.65 171.83,621.53 C172.97,620.42 174.27,618.92 175.72,617.64 C177.18,616.35 179.25,614.84 180.56,613.81 C181.87,612.77 182.95,612.30 183.59,611.43 C184.22,610.55 183.45,609.18 184.35,608.56 Z" fill="#2b62d6"/><path d="M184.13,610.55 C184.89,610.12 186.64,610.17 188.06,610.05 C189.47,609.94 191.19,609.81 192.64,609.85 C194.09,609.89 195.93,609.98 196.77,610.29 C197.61,610.60 197.49,610.84 197.70,611.71 C197.91,612.59 198.14,614.53 198.02,615.52 C197.90,616.51 197.41,617.04 196.97,617.66 C196.54,618.27 195.77,618.63 195.40,619.23 C195.03,619.82 194.70,620.51 194.74,621.22 C194.79,621.93 195.83,622.73 195.68,623.50 C195.53,624.27 194.57,624.85 193.84,625.85 C193.11,626.85 192.19,628.35 191.31,629.49 C190.42,630.62 189.47,631.75 188.55,632.67 C187.62,633.59 186.74,634.39 185.76,635.01 C184.79,635.64 183.70,636.30 182.70,636.44 C181.70,636.59 180.58,636.33 179.79,635.90 C179.00,635.47 178.80,634.33 177.93,633.86 C177.07,633.39 175.66,633.53 174.58,633.08 C173.51,632.64 172.28,632.20 171.50,631.19 C170.72,630.17 170.06,628.17 169.91,627.01 C169.76,625.84 170.10,625.10 170.57,624.22 C171.05,623.34 171.86,622.75 172.78,621.70 C173.70,620.66 174.76,619.14 176.08,617.93 C177.40,616.73 179.47,615.35 180.70,614.47 C181.94,613.59 182.92,613.32 183.49,612.67 C184.07,612.01 183.37,610.99 184.13,610.55 Z" fill="#3590e0"/><path d="M183.93,612.36 C184.57,612.07 186.07,612.14 187.24,612.11 C188.41,612.08 189.79,612.08 190.95,612.17 C192.11,612.27 193.52,612.43 194.20,612.71 C194.87,612.99 194.77,613.16 194.97,613.86 C195.17,614.56 195.42,616.11 195.37,616.90 C195.33,617.69 194.98,618.10 194.68,618.59 C194.38,619.08 193.83,619.35 193.58,619.84 C193.32,620.33 193.11,620.91 193.16,621.52 C193.21,622.13 193.98,622.83 193.87,623.50 C193.76,624.17 193.08,624.68 192.49,625.57 C191.91,626.46 191.15,627.83 190.38,628.84 C189.61,629.85 188.72,630.84 187.88,631.63 C187.05,632.41 186.24,633.04 185.37,633.55 C184.51,634.05 183.56,634.54 182.70,634.65 C181.84,634.75 180.89,634.54 180.19,634.20 C179.49,633.86 179.26,633.01 178.51,632.61 C177.76,632.21 176.58,632.22 175.68,631.79 C174.78,631.37 173.79,630.95 173.13,630.07 C172.47,629.19 171.89,627.50 171.73,626.51 C171.57,625.52 171.81,624.90 172.15,624.13 C172.50,623.36 173.05,622.85 173.78,621.89 C174.52,620.92 175.38,619.45 176.56,618.34 C177.74,617.23 179.73,615.98 180.87,615.24 C182.01,614.50 182.89,614.37 183.40,613.89 C183.91,613.41 183.29,612.66 183.93,612.36 Z" fill="#42bde6"/><path d="M183.75,614.05 C184.27,613.86 185.54,613.95 186.49,613.98 C187.45,614.01 188.55,614.08 189.46,614.22 C190.38,614.35 191.45,614.54 191.98,614.79 C192.50,615.04 192.43,615.16 192.61,615.71 C192.80,616.26 193.06,617.48 193.06,618.10 C193.07,618.72 192.83,619.05 192.64,619.43 C192.44,619.82 192.06,620.01 191.89,620.41 C191.73,620.80 191.61,621.29 191.65,621.81 C191.70,622.32 192.26,622.92 192.18,623.50 C192.11,624.08 191.64,624.51 191.18,625.29 C190.72,626.07 190.10,627.30 189.44,628.19 C188.78,629.07 187.96,629.93 187.22,630.59 C186.48,631.24 185.75,631.74 185.00,632.14 C184.24,632.54 183.44,632.89 182.70,632.97 C181.96,633.04 181.17,632.88 180.56,632.61 C179.96,632.35 179.72,631.72 179.07,631.38 C178.43,631.04 177.45,630.96 176.71,630.57 C175.97,630.18 175.18,629.80 174.63,629.04 C174.08,628.29 173.57,626.88 173.41,626.04 C173.25,625.21 173.42,624.70 173.66,624.04 C173.89,623.38 174.25,622.94 174.83,622.07 C175.41,621.21 176.10,619.82 177.14,618.83 C178.18,617.83 180.04,616.72 181.06,616.11 C182.09,615.49 182.87,615.47 183.31,615.12 C183.76,614.78 183.22,614.24 183.75,614.05 Z" fill="#55c9a8"/><path d="M183.57,615.64 C184.00,615.53 185.05,615.63 185.81,615.69 C186.57,615.76 187.43,615.88 188.13,616.04 C188.84,616.19 189.63,616.40 190.04,616.61 C190.44,616.83 190.39,616.90 190.55,617.33 C190.71,617.76 190.97,618.70 191.01,619.17 C191.04,619.65 190.89,619.90 190.78,620.19 C190.66,620.49 190.41,620.62 190.31,620.94 C190.22,621.25 190.16,621.65 190.21,622.08 C190.25,622.51 190.64,623.01 190.59,623.50 C190.53,623.99 190.23,624.35 189.88,625.02 C189.53,625.69 189.02,626.76 188.47,627.51 C187.91,628.27 187.19,629.00 186.55,629.54 C185.91,630.08 185.27,630.46 184.63,630.77 C183.99,631.07 183.32,631.32 182.70,631.37 C182.08,631.43 181.43,631.30 180.92,631.10 C180.41,630.90 180.17,630.45 179.63,630.17 C179.09,629.89 178.30,629.76 177.70,629.41 C177.10,629.06 176.48,628.71 176.03,628.08 C175.58,627.45 175.15,626.30 175.00,625.61 C174.85,624.92 174.96,624.51 175.11,623.95 C175.27,623.39 175.47,623.03 175.92,622.27 C176.37,621.51 176.91,620.25 177.80,619.38 C178.70,618.51 180.37,617.56 181.27,617.05 C182.18,616.55 182.84,616.59 183.22,616.36 C183.61,616.13 183.14,615.76 183.57,615.64 Z" fill="#7cc84a"/><path d="M183.40,617.17 C183.74,617.11 184.58,617.21 185.17,617.29 C185.76,617.38 186.41,617.53 186.94,617.68 C187.47,617.83 188.03,618.04 188.33,618.22 C188.63,618.40 188.59,618.44 188.73,618.76 C188.87,619.08 189.10,619.78 189.16,620.14 C189.22,620.49 189.13,620.67 189.07,620.89 C189.02,621.11 188.86,621.20 188.82,621.44 C188.77,621.68 188.76,622.00 188.80,622.35 C188.84,622.69 189.10,623.10 189.06,623.50 C189.03,623.90 188.85,624.19 188.59,624.74 C188.33,625.30 187.93,626.20 187.48,626.83 C187.03,627.45 186.41,628.05 185.88,628.48 C185.34,628.92 184.81,629.20 184.28,629.43 C183.75,629.66 183.20,629.82 182.70,629.85 C182.20,629.89 181.68,629.79 181.26,629.64 C180.84,629.50 180.62,629.20 180.18,628.97 C179.75,628.75 179.12,628.59 178.65,628.29 C178.18,627.99 177.71,627.69 177.35,627.17 C176.99,626.66 176.64,625.75 176.51,625.20 C176.37,624.65 176.44,624.32 176.53,623.87 C176.62,623.41 176.72,623.12 177.05,622.48 C177.39,621.83 177.80,620.74 178.54,620.01 C179.28,619.27 180.73,618.47 181.50,618.07 C182.26,617.67 182.82,617.76 183.13,617.61 C183.45,617.46 183.06,617.22 183.40,617.17 Z" fill="#bcd636"/><path d="M183.24,618.63 C183.49,618.62 184.14,618.70 184.58,618.79 C185.01,618.88 185.48,619.03 185.85,619.17 C186.23,619.31 186.61,619.49 186.82,619.64 C187.03,619.78 187.01,619.80 187.12,620.03 C187.23,620.26 187.43,620.75 187.49,621.00 C187.56,621.25 187.52,621.38 187.50,621.54 C187.48,621.69 187.40,621.74 187.39,621.92 C187.37,622.10 187.39,622.34 187.42,622.61 C187.46,622.87 187.61,623.19 187.59,623.50 C187.57,623.81 187.49,624.03 187.30,624.47 C187.12,624.91 186.82,625.63 186.47,626.12 C186.12,626.62 185.62,627.08 185.20,627.41 C184.77,627.74 184.34,627.94 183.92,628.11 C183.51,628.27 183.09,628.37 182.70,628.39 C182.31,628.41 181.92,628.34 181.59,628.24 C181.26,628.13 181.07,627.95 180.73,627.78 C180.40,627.60 179.92,627.44 179.57,627.20 C179.22,626.95 178.88,626.71 178.61,626.31 C178.34,625.91 178.06,625.22 177.95,624.80 C177.83,624.38 177.87,624.14 177.91,623.78 C177.96,623.43 177.99,623.21 178.22,622.69 C178.46,622.17 178.76,621.27 179.35,620.68 C179.93,620.09 181.12,619.46 181.74,619.16 C182.35,618.85 182.79,618.96 183.04,618.87 C183.29,618.78 182.98,618.64 183.24,618.63 Z" fill="#f0dc20"/><path d="M183.08,620.04 C183.26,620.04 183.72,620.11 184.02,620.18 C184.33,620.25 184.65,620.37 184.90,620.48 C185.15,620.59 185.40,620.73 185.54,620.83 C185.69,620.93 185.67,620.94 185.76,621.10 C185.84,621.25 185.99,621.59 186.04,621.76 C186.09,621.93 186.07,622.02 186.07,622.12 C186.06,622.22 186.02,622.26 186.02,622.38 C186.02,622.51 186.04,622.68 186.07,622.86 C186.09,623.05 186.19,623.28 186.17,623.50 C186.16,623.72 186.12,623.88 185.99,624.20 C185.87,624.51 185.66,625.04 185.41,625.39 C185.16,625.74 184.80,626.08 184.49,626.31 C184.18,626.54 183.87,626.68 183.57,626.79 C183.28,626.90 182.98,626.96 182.70,626.97 C182.42,626.98 182.14,626.93 181.91,626.87 C181.68,626.80 181.53,626.68 181.29,626.56 C181.05,626.44 180.72,626.31 180.47,626.13 C180.23,625.95 179.99,625.77 179.80,625.49 C179.61,625.20 179.42,624.72 179.33,624.42 C179.25,624.13 179.26,623.95 179.29,623.70 C179.31,623.45 179.31,623.29 179.47,622.92 C179.64,622.54 179.84,621.88 180.27,621.45 C180.69,621.03 181.56,620.57 182.00,620.35 C182.45,620.14 182.76,620.23 182.94,620.18 C183.12,620.13 182.90,620.04 183.08,620.04 Z" fill="#f09020"/><path d="M182.93,621.41 C183.04,621.41 183.32,621.45 183.50,621.50 C183.68,621.54 183.87,621.61 184.03,621.68 C184.18,621.74 184.33,621.83 184.42,621.89 C184.50,621.95 184.49,621.96 184.54,622.05 C184.59,622.15 184.68,622.35 184.71,622.45 C184.75,622.55 184.73,622.61 184.73,622.67 C184.73,622.73 184.70,622.75 184.70,622.83 C184.70,622.90 184.71,623.00 184.73,623.12 C184.75,623.23 184.80,623.37 184.80,623.50 C184.79,623.63 184.76,623.73 184.69,623.92 C184.61,624.11 184.49,624.43 184.34,624.64 C184.19,624.85 183.97,625.05 183.78,625.19 C183.60,625.34 183.41,625.42 183.23,625.48 C183.05,625.55 182.87,625.59 182.70,625.59 C182.53,625.60 182.36,625.57 182.22,625.53 C182.08,625.49 182.00,625.42 181.85,625.35 C181.71,625.27 181.51,625.19 181.36,625.09 C181.21,624.98 181.07,624.87 180.95,624.70 C180.84,624.53 180.72,624.24 180.67,624.06 C180.62,623.88 180.63,623.77 180.64,623.62 C180.66,623.47 180.66,623.37 180.75,623.15 C180.85,622.92 180.98,622.52 181.23,622.27 C181.49,622.01 182.01,621.73 182.28,621.60 C182.55,621.47 182.74,621.53 182.85,621.50 C182.96,621.46 182.82,621.41 182.93,621.41 Z" fill="#d83018"/></g>
<g filter="url(#bl)"><path d="M185.00,606.00 C185.67,603.55 190.00,602.03 193.00,600.80 C196.00,599.57 200.08,598.97 203.00,598.60 C205.92,598.23 209.08,597.70 210.50,598.60 C211.92,599.50 211.92,602.02 211.50,604.00 C211.08,605.98 210.08,608.67 208.00,610.50 C205.92,612.33 202.17,614.17 199.00,615.00 C195.83,615.83 191.33,617.00 189.00,615.50 C186.67,614.00 184.33,608.45 185.00,606.00 Z" fill="#2b62d6"/><path d="M190.82,605.52 C191.16,603.76 193.61,602.73 195.65,601.62 C197.69,600.51 200.74,599.23 203.07,598.87 C205.41,598.51 208.35,598.58 209.64,599.44 C210.94,600.30 211.19,602.29 210.86,604.04 C210.53,605.78 209.44,608.48 207.67,609.91 C205.91,611.34 202.61,612.21 200.27,612.60 C197.92,612.99 195.16,613.42 193.59,612.24 C192.01,611.06 190.48,607.29 190.82,605.52 Z" fill="#3590e0"/><path d="M194.09,605.26 C194.29,603.88 195.81,603.13 197.33,602.14 C198.84,601.16 201.27,599.69 203.21,599.35 C205.15,599.02 207.80,599.33 208.96,600.12 C210.12,600.90 210.44,602.55 210.17,604.08 C209.90,605.61 208.85,608.13 207.33,609.30 C205.81,610.47 202.93,610.90 201.07,611.08 C199.21,611.26 197.34,611.36 196.18,610.39 C195.01,609.42 193.90,606.63 194.09,605.26 Z" fill="#42bde6"/><path d="M196.63,605.05 C196.72,603.99 197.62,603.43 198.74,602.58 C199.87,601.73 201.78,600.25 203.37,599.95 C204.96,599.65 207.28,600.08 208.29,600.77 C209.30,601.47 209.65,602.81 209.43,604.12 C209.21,605.43 208.24,607.69 206.96,608.64 C205.68,609.58 203.22,609.73 201.75,609.79 C200.29,609.84 199.04,609.75 198.19,608.96 C197.34,608.17 196.54,606.11 196.63,605.05 Z" fill="#55c9a8"/><path d="M198.71,604.88 C198.74,604.08 199.20,603.68 200.01,602.98 C200.82,602.27 202.30,600.90 203.56,600.64 C204.83,600.38 206.77,600.85 207.62,601.43 C208.46,602.02 208.80,603.08 208.62,604.17 C208.45,605.25 207.61,607.19 206.57,607.93 C205.52,608.67 203.49,608.65 202.37,608.63 C201.25,608.60 200.46,608.41 199.85,607.78 C199.24,607.16 198.68,605.68 198.71,604.88 Z" fill="#7cc84a"/><path d="M200.45,604.74 C200.44,604.16 200.63,603.89 201.18,603.34 C201.73,602.78 202.81,601.61 203.77,601.40 C204.73,601.20 206.27,601.63 206.94,602.10 C207.61,602.57 207.90,603.37 207.77,604.22 C207.64,605.06 206.96,606.62 206.15,607.18 C205.34,607.74 203.75,607.62 202.93,607.56 C202.11,607.49 201.66,607.26 201.24,606.79 C200.83,606.32 200.46,605.31 200.45,604.74 Z" fill="#bcd636"/><path d="M201.93,604.62 C201.90,604.24 201.92,604.07 202.27,603.68 C202.61,603.28 203.34,602.38 204.00,602.23 C204.67,602.08 205.78,602.43 206.25,602.77 C206.73,603.11 206.96,603.67 206.87,604.27 C206.78,604.87 206.28,606.01 205.71,606.39 C205.14,606.77 204.01,606.63 203.46,606.56 C202.91,606.48 202.68,606.27 202.43,605.95 C202.17,605.62 201.95,605.00 201.93,604.62 Z" fill="#f0dc20"/><path d="M203.09,604.52 C203.07,604.31 203.09,604.22 203.28,603.99 C203.48,603.77 203.89,603.26 204.26,603.18 C204.64,603.09 205.26,603.29 205.53,603.48 C205.81,603.67 205.94,603.98 205.88,604.33 C205.83,604.67 205.55,605.31 205.23,605.52 C204.91,605.74 204.27,605.66 203.96,605.62 C203.65,605.58 203.52,605.46 203.37,605.27 C203.23,605.09 203.10,604.74 203.09,604.52 Z" fill="#f09020"/></g>
<g filter="url(#bl)"><path d="M272.70,601.50 C274.23,599.95 276.92,599.77 279.60,599.20 C282.28,598.63 285.92,598.38 288.80,598.10 C291.68,597.82 295.07,597.12 296.90,597.50 C298.73,597.88 299.42,598.57 299.80,600.40 C300.18,602.23 299.87,606.38 299.20,608.50 C298.53,610.62 297.13,611.77 295.80,613.10 C294.47,614.43 292.55,615.35 291.20,616.50 C289.85,617.65 288.48,618.65 287.70,620.00 C286.92,621.35 287.47,622.87 286.50,624.60 C285.53,626.33 283.23,628.47 281.90,630.40 C280.57,632.33 279.65,634.28 278.50,636.20 C277.35,638.12 276.35,640.37 275.00,641.90 C273.65,643.43 271.93,644.82 270.40,645.40 C268.87,645.98 266.95,646.17 265.80,645.40 C264.65,644.63 265.05,642.73 263.50,640.80 C261.95,638.87 258.13,636.12 256.50,633.80 C254.87,631.48 253.88,629.00 253.70,626.90 C253.52,624.80 254.15,622.73 255.40,621.20 C256.65,619.67 259.28,618.87 261.20,617.70 C263.12,616.53 265.37,615.73 266.90,614.20 C268.43,612.67 269.43,610.62 270.40,608.50 C271.37,606.38 271.17,603.05 272.70,601.50 Z" fill="#1c2b8c"/><path d="M271.84,605.50 C273.00,604.55 275.13,604.53 277.13,604.29 C279.13,604.05 281.77,604.09 283.83,604.05 C285.89,604.01 288.19,603.68 289.48,604.04 C290.77,604.41 291.25,604.89 291.60,606.22 C291.94,607.56 291.90,610.53 291.54,612.05 C291.18,613.57 290.29,614.39 289.46,615.34 C288.63,616.30 287.40,616.93 286.55,617.79 C285.70,618.65 284.86,619.40 284.37,620.49 C283.88,621.58 284.31,622.84 283.62,624.33 C282.92,625.83 281.31,627.81 280.21,629.48 C279.12,631.15 278.13,632.84 277.06,634.36 C275.99,635.88 274.99,637.49 273.80,638.61 C272.62,639.73 271.22,640.66 269.96,641.07 C268.70,641.49 267.20,641.59 266.24,641.07 C265.29,640.56 265.60,639.44 264.22,638.00 C262.84,636.56 259.44,634.36 257.95,632.43 C256.47,630.51 255.57,628.31 255.29,626.46 C255.02,624.61 255.39,622.84 256.30,621.32 C257.21,619.80 259.00,618.63 260.75,617.36 C262.51,616.09 265.26,614.92 266.83,613.69 C268.40,612.47 269.32,611.37 270.16,610.01 C270.99,608.64 270.68,606.45 271.84,605.50 Z" fill="#2446c0"/><path d="M271.29,608.08 C272.23,607.43 274.02,607.49 275.62,607.40 C277.23,607.31 279.32,607.48 280.92,607.55 C282.52,607.61 284.23,607.46 285.23,607.80 C286.22,608.13 286.59,608.50 286.90,609.56 C287.21,610.61 287.28,612.92 287.08,614.11 C286.88,615.30 286.25,615.94 285.67,616.68 C285.10,617.43 284.23,617.90 283.64,618.59 C283.05,619.28 282.48,619.90 282.14,620.82 C281.80,621.75 282.16,622.82 281.62,624.15 C281.08,625.47 279.83,627.29 278.89,628.77 C277.96,630.24 276.99,631.73 276.01,633.01 C275.02,634.28 274.06,635.53 273.01,636.42 C271.95,637.30 270.76,638.00 269.68,638.32 C268.60,638.63 267.35,638.70 266.52,638.32 C265.70,637.94 265.96,637.20 264.72,636.05 C263.48,634.89 260.43,633.04 259.08,631.38 C257.72,629.72 256.91,627.75 256.60,626.09 C256.30,624.44 256.54,622.88 257.26,621.45 C257.97,620.01 259.31,618.74 260.91,617.48 C262.51,616.23 265.35,614.95 266.86,613.92 C268.37,612.88 269.22,612.26 269.96,611.28 C270.69,610.31 270.34,608.73 271.29,608.08 Z" fill="#2b62d6"/><path d="M270.81,610.30 C271.58,609.87 273.08,609.97 274.37,609.98 C275.67,609.98 277.32,610.22 278.57,610.35 C279.82,610.48 281.10,610.45 281.87,610.76 C282.64,611.06 282.93,611.35 283.20,612.18 C283.48,613.02 283.62,614.83 283.52,615.76 C283.42,616.69 282.98,617.19 282.59,617.77 C282.20,618.36 281.59,618.72 281.19,619.27 C280.78,619.83 280.40,620.33 280.17,621.11 C279.94,621.90 280.23,622.82 279.81,623.98 C279.39,625.14 278.42,626.78 277.63,628.08 C276.83,629.37 275.90,630.68 275.02,631.75 C274.13,632.82 273.24,633.79 272.31,634.49 C271.38,635.20 270.36,635.72 269.44,635.96 C268.51,636.21 267.48,636.24 266.76,635.96 C266.05,635.68 266.28,635.22 265.17,634.29 C264.07,633.36 261.36,631.80 260.15,630.37 C258.94,628.95 258.20,627.20 257.90,625.73 C257.59,624.27 257.73,622.91 258.30,621.59 C258.87,620.26 259.87,618.98 261.31,617.78 C262.75,616.59 265.53,615.30 266.93,614.43 C268.34,613.56 269.11,613.25 269.75,612.56 C270.40,611.87 270.04,610.73 270.81,610.30 Z" fill="#3590e0"/><path d="M270.38,612.31 C271.00,612.04 272.24,612.16 273.28,612.23 C274.31,612.31 275.61,612.58 276.58,612.75 C277.54,612.91 278.48,612.95 279.07,613.22 C279.66,613.50 279.88,613.72 280.12,614.37 C280.36,615.03 280.54,616.43 280.51,617.15 C280.48,617.88 280.19,618.26 279.94,618.71 C279.68,619.17 279.27,619.43 279.00,619.88 C278.74,620.33 278.49,620.73 278.34,621.38 C278.20,622.04 278.44,622.82 278.11,623.82 C277.78,624.83 277.04,626.28 276.37,627.39 C275.70,628.51 274.85,629.64 274.06,630.53 C273.28,631.42 272.47,632.17 271.67,632.72 C270.86,633.27 270.00,633.66 269.22,633.84 C268.44,634.03 267.58,634.04 266.98,633.84 C266.38,633.64 266.56,633.38 265.60,632.63 C264.64,631.89 262.27,630.59 261.21,629.38 C260.14,628.17 259.50,626.65 259.20,625.37 C258.90,624.10 258.98,622.93 259.43,621.74 C259.88,620.55 260.61,619.31 261.88,618.21 C263.15,617.12 265.75,615.88 267.03,615.15 C268.31,614.43 268.99,614.33 269.54,613.86 C270.10,613.39 269.75,612.58 270.38,612.31 Z" fill="#42bde6"/><path d="M269.97,614.18 C270.47,614.02 271.48,614.16 272.29,614.27 C273.10,614.37 274.10,614.66 274.83,614.84 C275.56,615.01 276.23,615.10 276.67,615.34 C277.12,615.57 277.28,615.74 277.48,616.24 C277.69,616.75 277.89,617.81 277.90,618.36 C277.92,618.91 277.73,619.20 277.58,619.54 C277.43,619.89 277.16,620.08 277.00,620.43 C276.84,620.78 276.70,621.10 276.61,621.64 C276.52,622.18 276.72,622.83 276.47,623.67 C276.22,624.52 275.67,625.77 275.11,626.71 C274.55,627.65 273.80,628.60 273.13,629.33 C272.45,630.05 271.74,630.62 271.06,631.05 C270.37,631.47 269.66,631.74 269.02,631.88 C268.37,632.02 267.68,632.03 267.18,631.88 C266.68,631.74 266.83,631.62 266.01,631.04 C265.19,630.45 263.18,629.39 262.26,628.39 C261.35,627.38 260.79,626.09 260.52,625.00 C260.25,623.92 260.28,622.94 260.63,621.90 C260.97,620.86 261.50,619.72 262.59,618.74 C263.67,617.77 266.03,616.63 267.15,616.04 C268.28,615.45 268.86,615.50 269.33,615.19 C269.80,614.88 269.48,614.33 269.97,614.18 Z" fill="#55c9a8"/><path d="M269.60,615.94 C269.97,615.87 270.77,616.00 271.39,616.12 C272.00,616.25 272.75,616.52 273.28,616.69 C273.82,616.87 274.27,616.98 274.59,617.17 C274.91,617.37 275.03,617.49 275.20,617.86 C275.37,618.24 275.56,619.02 275.61,619.42 C275.65,619.83 275.55,620.04 275.47,620.29 C275.39,620.55 275.23,620.68 275.15,620.95 C275.06,621.21 274.99,621.46 274.95,621.89 C274.90,622.32 275.05,622.84 274.87,623.53 C274.69,624.21 274.29,625.25 273.85,626.02 C273.40,626.79 272.76,627.57 272.20,628.14 C271.63,628.71 271.04,629.12 270.48,629.44 C269.91,629.76 269.35,629.95 268.83,630.05 C268.31,630.15 267.77,630.14 267.37,630.05 C266.97,629.95 267.08,629.93 266.41,629.48 C265.73,629.04 264.08,628.20 263.32,627.39 C262.56,626.58 262.11,625.52 261.87,624.63 C261.63,623.74 261.63,622.95 261.89,622.07 C262.14,621.19 262.50,620.20 263.40,619.36 C264.31,618.53 266.34,617.53 267.29,617.06 C268.25,616.59 268.73,616.73 269.11,616.55 C269.50,616.36 269.22,616.01 269.60,615.94 Z" fill="#7cc84a"/><path d="M269.23,617.62 C269.51,617.61 270.11,617.72 270.56,617.84 C271.00,617.96 271.53,618.19 271.90,618.35 C272.27,618.51 272.56,618.62 272.78,618.78 C272.99,618.93 273.07,619.01 273.20,619.28 C273.34,619.54 273.51,620.09 273.57,620.37 C273.63,620.65 273.57,620.80 273.55,620.97 C273.52,621.15 273.44,621.24 273.40,621.43 C273.37,621.62 273.35,621.80 273.34,622.13 C273.32,622.45 273.43,622.85 273.30,623.38 C273.18,623.91 272.91,624.73 272.57,625.33 C272.23,625.92 271.71,626.53 271.27,626.95 C270.83,627.38 270.35,627.67 269.91,627.89 C269.48,628.12 269.05,628.24 268.65,628.31 C268.26,628.38 267.86,628.37 267.55,628.31 C267.24,628.25 267.33,628.28 266.80,627.96 C266.27,627.64 264.98,627.01 264.39,626.39 C263.79,625.77 263.43,624.94 263.24,624.25 C263.04,623.56 263.02,622.94 263.20,622.24 C263.39,621.55 263.62,620.73 264.32,620.05 C265.03,619.38 266.69,618.56 267.45,618.21 C268.21,617.86 268.60,618.03 268.89,617.93 C269.19,617.84 268.96,617.64 269.23,617.62 Z" fill="#bcd636"/><path d="M268.89,619.23 C269.08,619.24 269.49,619.32 269.79,619.42 C270.09,619.52 270.44,619.69 270.68,619.81 C270.92,619.93 271.10,620.02 271.24,620.13 C271.38,620.24 271.43,620.30 271.52,620.47 C271.61,620.65 271.75,621.00 271.80,621.19 C271.85,621.37 271.83,621.47 271.82,621.58 C271.82,621.70 271.78,621.75 271.77,621.88 C271.76,622.01 271.76,622.13 271.76,622.36 C271.76,622.58 271.83,622.86 271.75,623.24 C271.67,623.61 271.49,624.20 271.26,624.62 C271.02,625.03 270.65,625.46 270.33,625.75 C270.02,626.05 269.67,626.24 269.37,626.39 C269.06,626.54 268.76,626.61 268.48,626.65 C268.21,626.70 267.93,626.69 267.72,626.65 C267.50,626.62 267.56,626.66 267.19,626.45 C266.81,626.23 265.90,625.80 265.48,625.36 C265.06,624.93 264.80,624.34 264.66,623.86 C264.51,623.37 264.49,622.93 264.61,622.43 C264.73,621.93 264.87,621.33 265.38,620.85 C265.88,620.36 267.09,619.76 267.63,619.52 C268.18,619.27 268.45,619.43 268.66,619.38 C268.87,619.33 268.70,619.22 268.89,619.23 Z" fill="#f0dc20"/><path d="M268.56,620.78 C268.66,620.78 268.90,620.83 269.08,620.89 C269.25,620.95 269.45,621.05 269.59,621.12 C269.73,621.19 269.83,621.24 269.91,621.30 C269.99,621.37 270.02,621.40 270.07,621.50 C270.13,621.60 270.21,621.80 270.24,621.91 C270.26,622.02 270.25,622.07 270.25,622.14 C270.25,622.21 270.22,622.24 270.22,622.31 C270.21,622.39 270.21,622.46 270.21,622.59 C270.21,622.72 270.26,622.88 270.21,623.09 C270.16,623.31 270.06,623.65 269.92,623.89 C269.79,624.13 269.57,624.38 269.39,624.55 C269.21,624.72 269.01,624.83 268.83,624.91 C268.65,625.00 268.48,625.04 268.32,625.07 C268.16,625.09 268.00,625.09 267.88,625.07 C267.75,625.05 267.79,625.07 267.57,624.95 C267.36,624.83 266.83,624.57 266.59,624.32 C266.34,624.07 266.20,623.73 266.11,623.45 C266.03,623.17 266.02,622.92 266.09,622.63 C266.16,622.34 266.24,622.00 266.53,621.72 C266.82,621.43 267.51,621.09 267.83,620.95 C268.15,620.81 268.30,620.90 268.42,620.87 C268.55,620.84 268.45,620.78 268.56,620.78 Z" fill="#f09020"/></g>
<g filter="url(#bl)"><path d="M273.00,606.00 C274.17,604.17 278.00,602.17 281.00,601.00 C284.00,599.83 288.08,599.25 291.00,599.00 C293.92,598.75 297.25,598.17 298.50,599.50 C299.75,600.83 299.42,604.92 298.50,607.00 C297.58,609.08 295.75,610.83 293.00,612.00 C290.25,613.17 285.17,614.00 282.00,614.00 C278.83,614.00 275.50,613.33 274.00,612.00 C272.50,610.67 271.83,607.83 273.00,606.00 Z" fill="#2b62d6"/><path d="M277.65,605.49 C278.25,604.16 279.85,602.52 282.02,601.52 C284.20,600.52 288.45,599.60 290.70,599.49 C292.96,599.37 294.70,599.71 295.53,600.85 C296.36,601.99 296.30,604.74 295.69,606.32 C295.08,607.91 293.89,609.50 291.86,610.36 C289.82,611.22 285.72,611.63 283.49,611.49 C281.26,611.35 279.44,610.52 278.47,609.52 C277.49,608.52 277.06,606.83 277.65,605.49 Z" fill="#3590e0"/><path d="M280.33,605.20 C280.65,604.18 281.29,602.83 282.95,601.99 C284.62,601.15 288.51,600.20 290.30,600.15 C292.09,600.10 293.09,600.73 293.69,601.68 C294.28,602.64 294.32,604.64 293.88,605.89 C293.44,607.14 292.61,608.51 291.03,609.18 C289.46,609.84 286.12,610.06 284.45,609.88 C282.77,609.70 281.68,608.90 280.99,608.12 C280.31,607.34 280.00,606.22 280.33,605.20 Z" fill="#42bde6"/><path d="M282.44,604.97 C282.60,604.21 282.69,603.16 283.92,602.48 C285.15,601.81 288.45,600.95 289.82,600.93 C291.19,600.91 291.72,601.62 292.13,602.39 C292.55,603.15 292.64,604.56 292.33,605.51 C292.02,606.46 291.45,607.59 290.27,608.09 C289.09,608.58 286.48,608.68 285.27,608.50 C284.05,608.32 283.43,607.62 282.96,607.03 C282.49,606.44 282.28,605.73 282.44,604.97 Z" fill="#55c9a8"/><path d="M284.20,604.78 C284.26,604.26 284.08,603.49 284.92,602.99 C285.77,602.49 288.32,601.80 289.29,601.80 C290.26,601.81 290.49,602.45 290.76,603.01 C291.03,603.58 291.13,604.51 290.92,605.18 C290.72,605.85 290.36,606.69 289.54,607.03 C288.72,607.38 286.83,607.40 286.01,607.25 C285.18,607.10 284.88,606.55 284.58,606.13 C284.27,605.72 284.14,605.30 284.20,604.78 Z" fill="#7cc84a"/><path d="M285.64,604.62 C285.66,604.31 285.52,603.85 286.02,603.55 C286.53,603.25 288.08,602.82 288.66,602.82 C289.25,602.83 289.36,603.23 289.52,603.57 C289.68,603.91 289.74,604.46 289.62,604.86 C289.50,605.26 289.29,605.77 288.80,605.98 C288.31,606.19 287.18,606.19 286.69,606.10 C286.20,606.01 286.04,605.66 285.86,605.42 C285.69,605.17 285.61,604.94 285.64,604.62 Z" fill="#bcd636"/></g>
<circle cx="92.9" cy="568.9" r="0.8" fill="#1a1a1a"/><circle cx="83.8" cy="557.9" r="0.8" fill="#1a1a1a"/><circle cx="77.9" cy="535.4" r="0.8" fill="#1a1a1a"/><circle cx="95.5" cy="566.3" r="0.8" fill="#1a1a1a"/><circle cx="73.5" cy="537.1" r="0.8" fill="#1a1a1a"/><circle cx="93.9" cy="568.1" r="0.8" fill="#1a1a1a"/><circle cx="88.0" cy="562.1" r="0.8" fill="#1a1a1a"/><circle cx="116.4" cy="534.2" r="0.8" fill="#1a1a1a"/><circle cx="107.0" cy="554.6" r="0.8" fill="#1a1a1a"/><circle cx="86.7" cy="561.9" r="0.8" fill="#1a1a1a"/><circle cx="94.0" cy="567.4" r="0.8" fill="#1a1a1a"/><circle cx="77.4" cy="552.1" r="0.8" fill="#1a1a1a"/><circle cx="86.2" cy="528.8" r="0.8" fill="#1a1a1a"/><circle cx="86.8" cy="560.9" r="0.8" fill="#1a1a1a"/><circle cx="100.2" cy="559.5" r="0.8" fill="#1a1a1a"/><circle cx="79.0" cy="534.1" r="0.8" fill="#1a1a1a"/><circle cx="89.3" cy="529.4" r="0.8" fill="#1a1a1a"/><circle cx="75.0" cy="536.6" r="0.8" fill="#1a1a1a"/><circle cx="107.9" cy="551.1" r="0.8" fill="#1a1a1a"/><circle cx="97.0" cy="565.8" r="0.8" fill="#1a1a1a"/><circle cx="113.5" cy="535.4" r="0.8" fill="#1a1a1a"/><circle cx="93.7" cy="566.6" r="0.8" fill="#1a1a1a"/><circle cx="81.6" cy="556.7" r="0.8" fill="#1a1a1a"/><circle cx="97.3" cy="565.6" r="0.8" fill="#1a1a1a"/><circle cx="96.7" cy="566.0" r="0.8" fill="#1a1a1a"/><circle cx="98.3" cy="565.8" r="0.8" fill="#1a1a1a"/><circle cx="76.6" cy="551.6" r="0.8" fill="#1a1a1a"/><circle cx="117.0" cy="529.1" r="0.8" fill="#1a1a1a"/><circle cx="76.2" cy="541.5" r="0.8" fill="#1a1a1a"/><circle cx="117.3" cy="529.3" r="0.8" fill="#1a1a1a"/><circle cx="75.0" cy="541.4" r="0.8" fill="#1a1a1a"/><circle cx="89.0" cy="563.4" r="0.8" fill="#1a1a1a"/><circle cx="99.9" cy="560.5" r="0.8" fill="#1a1a1a"/><circle cx="114.1" cy="536.0" r="0.8" fill="#1a1a1a"/><circle cx="119.9" cy="527.1" r="0.8" fill="#1a1a1a"/><circle cx="80.4" cy="557.7" r="0.8" fill="#1a1a1a"/><circle cx="89.7" cy="565.2" r="0.8" fill="#1a1a1a"/><circle cx="83.2" cy="557.4" r="0.8" fill="#1a1a1a"/><circle cx="88.3" cy="528.8" r="0.8" fill="#1a1a1a"/><circle cx="75.3" cy="540.6" r="0.8" fill="#1a1a1a"/><circle cx="159.3" cy="547.6" r="0.8" fill="#1a1a1a"/><circle cx="177.8" cy="529.9" r="0.8" fill="#1a1a1a"/><circle cx="199.9" cy="531.6" r="0.8" fill="#1a1a1a"/><circle cx="173.6" cy="564.1" r="0.8" fill="#1a1a1a"/><circle cx="161.4" cy="539.4" r="0.8" fill="#1a1a1a"/><circle cx="183.1" cy="569.1" r="0.8" fill="#1a1a1a"/><circle cx="185.6" cy="567.6" r="0.8" fill="#1a1a1a"/><circle cx="175.8" cy="529.7" r="0.8" fill="#1a1a1a"/><circle cx="180.1" cy="572.1" r="0.8" fill="#1a1a1a"/><circle cx="193.5" cy="559.2" r="0.8" fill="#1a1a1a"/><circle cx="180.0" cy="571.9" r="0.8" fill="#1a1a1a"/><circle cx="187.4" cy="565.6" r="0.8" fill="#1a1a1a"/><circle cx="170.9" cy="560.2" r="0.8" fill="#1a1a1a"/><circle cx="160.1" cy="547.2" r="0.8" fill="#1a1a1a"/><circle cx="178.2" cy="568.6" r="0.8" fill="#1a1a1a"/><circle cx="195.4" cy="554.5" r="0.8" fill="#1a1a1a"/><circle cx="175.6" cy="569.7" r="0.8" fill="#1a1a1a"/><circle cx="165.6" cy="557.8" r="0.8" fill="#1a1a1a"/><circle cx="158.7" cy="543.4" r="0.8" fill="#1a1a1a"/><circle cx="161.0" cy="552.3" r="0.8" fill="#1a1a1a"/><circle cx="181.0" cy="526.1" r="0.8" fill="#1a1a1a"/><circle cx="203.0" cy="529.2" r="0.8" fill="#1a1a1a"/><circle cx="185.7" cy="566.7" r="0.8" fill="#1a1a1a"/><circle cx="200.3" cy="536.1" r="0.8" fill="#1a1a1a"/><circle cx="202.7" cy="529.8" r="0.8" fill="#1a1a1a"/><circle cx="200.4" cy="531.9" r="0.8" fill="#1a1a1a"/><circle cx="176.6" cy="530.5" r="0.8" fill="#1a1a1a"/><circle cx="194.5" cy="552.0" r="0.8" fill="#1a1a1a"/><circle cx="162.4" cy="549.1" r="0.8" fill="#1a1a1a"/><circle cx="173.3" cy="566.0" r="0.8" fill="#1a1a1a"/><circle cx="185.3" cy="568.5" r="0.8" fill="#1a1a1a"/><circle cx="180.4" cy="528.4" r="0.8" fill="#1a1a1a"/><circle cx="176.3" cy="528.9" r="0.8" fill="#1a1a1a"/><circle cx="170.2" cy="531.6" r="0.8" fill="#1a1a1a"/><circle cx="264.8" cy="528.1" r="0.8" fill="#1a1a1a"/><circle cx="250.5" cy="555.2" r="0.8" fill="#1a1a1a"/><circle cx="285.7" cy="547.5" r="0.8" fill="#1a1a1a"/><circle cx="259.6" cy="528.3" r="0.8" fill="#1a1a1a"/><circle cx="291.1" cy="531.4" r="0.8" fill="#1a1a1a"/><circle cx="262.0" cy="529.2" r="0.8" fill="#1a1a1a"/><circle cx="283.0" cy="554.9" r="0.8" fill="#1a1a1a"/><circle cx="250.2" cy="533.3" r="0.8" fill="#1a1a1a"/><circle cx="292.0" cy="533.5" r="0.8" fill="#1a1a1a"/><circle cx="263.3" cy="568.9" r="0.8" fill="#1a1a1a"/><circle cx="266.4" cy="524.8" r="0.8" fill="#1a1a1a"/><circle cx="271.5" cy="568.8" r="0.8" fill="#1a1a1a"/><circle cx="258.4" cy="564.9" r="0.8" fill="#1a1a1a"/><circle cx="262.4" cy="526.4" r="0.8" fill="#1a1a1a"/><circle cx="282.6" cy="557.4" r="0.8" fill="#1a1a1a"/><circle cx="266.6" cy="568.9" r="0.8" fill="#1a1a1a"/><circle cx="270.9" cy="569.6" r="0.8" fill="#1a1a1a"/><circle cx="250.2" cy="536.4" r="0.8" fill="#1a1a1a"/><circle cx="270.1" cy="570.9" r="0.8" fill="#1a1a1a"/><circle cx="248.5" cy="545.5" r="0.8" fill="#1a1a1a"/><circle cx="253.1" cy="532.1" r="0.8" fill="#1a1a1a"/><circle cx="248.2" cy="540.5" r="0.8" fill="#1a1a1a"/><circle cx="290.0" cy="538.3" r="0.8" fill="#1a1a1a"/><circle cx="260.3" cy="528.9" r="0.8" fill="#1a1a1a"/><circle cx="256.3" cy="530.4" r="0.8" fill="#1a1a1a"/><circle cx="294.5" cy="526.9" r="0.8" fill="#1a1a1a"/><circle cx="259.1" cy="529.4" r="0.8" fill="#1a1a1a"/><circle cx="293.6" cy="527.9" r="0.8" fill="#1a1a1a"/><circle cx="260.6" cy="567.9" r="0.8" fill="#1a1a1a"/><circle cx="257.4" cy="529.1" r="0.8" fill="#1a1a1a"/><circle cx="262.6" cy="568.1" r="0.8" fill="#1a1a1a"/><circle cx="250.2" cy="540.8" r="0.8" fill="#1a1a1a"/><circle cx="253.6" cy="560.2" r="0.8" fill="#1a1a1a"/><circle cx="279.0" cy="559.5" r="0.8" fill="#1a1a1a"/><circle cx="247.7" cy="546.2" r="0.8" fill="#1a1a1a"/><circle cx="283.7" cy="554.7" r="0.8" fill="#1a1a1a"/><circle cx="91.9" cy="651.4" r="0.8" fill="#1a1a1a"/><circle cx="77.6" cy="629.9" r="0.8" fill="#1a1a1a"/><circle cx="122.4" cy="619.6" r="0.8" fill="#1a1a1a"/><circle cx="90.2" cy="615.6" r="0.8" fill="#1a1a1a"/><circle cx="122.2" cy="613.2" r="0.8" fill="#1a1a1a"/><circle cx="123.2" cy="617.3" r="0.8" fill="#1a1a1a"/><circle cx="118.8" cy="623.9" r="0.8" fill="#1a1a1a"/><circle cx="97.1" cy="653.4" r="0.8" fill="#1a1a1a"/><circle cx="89.0" cy="649.7" r="0.8" fill="#1a1a1a"/><circle cx="122.0" cy="618.8" r="0.8" fill="#1a1a1a"/><circle cx="81.1" cy="618.5" r="0.8" fill="#1a1a1a"/><circle cx="102.1" cy="649.4" r="0.8" fill="#1a1a1a"/><circle cx="105.2" cy="647.3" r="0.8" fill="#1a1a1a"/><circle cx="120.8" cy="621.7" r="0.8" fill="#1a1a1a"/><circle cx="76.0" cy="623.7" r="0.8" fill="#1a1a1a"/><circle cx="82.2" cy="640.5" r="0.8" fill="#1a1a1a"/><circle cx="120.5" cy="617.9" r="0.8" fill="#1a1a1a"/><circle cx="107.6" cy="642.4" r="0.8" fill="#1a1a1a"/><circle cx="85.1" cy="644.9" r="0.8" fill="#1a1a1a"/><circle cx="119.4" cy="620.7" r="0.8" fill="#1a1a1a"/><circle cx="122.2" cy="613.6" r="0.8" fill="#1a1a1a"/><circle cx="100.7" cy="649.3" r="0.8" fill="#1a1a1a"/><circle cx="81.9" cy="619.2" r="0.8" fill="#1a1a1a"/><circle cx="103.6" cy="647.2" r="0.8" fill="#1a1a1a"/><circle cx="121.8" cy="615.6" r="0.8" fill="#1a1a1a"/><circle cx="103.3" cy="649.1" r="0.8" fill="#1a1a1a"/><circle cx="88.4" cy="648.0" r="0.8" fill="#1a1a1a"/><circle cx="105.8" cy="644.3" r="0.8" fill="#1a1a1a"/><circle cx="97.7" cy="653.7" r="0.8" fill="#1a1a1a"/><circle cx="121.3" cy="620.7" r="0.8" fill="#1a1a1a"/><circle cx="77.1" cy="626.5" r="0.8" fill="#1a1a1a"/><circle cx="79.4" cy="637.8" r="0.8" fill="#1a1a1a"/><circle cx="92.8" cy="649.5" r="0.8" fill="#1a1a1a"/><circle cx="86.4" cy="617.4" r="0.8" fill="#1a1a1a"/><circle cx="180.5" cy="644.9" r="0.8" fill="#1a1a1a"/><circle cx="206.1" cy="615.0" r="0.8" fill="#1a1a1a"/><circle cx="205.9" cy="620.8" r="0.8" fill="#1a1a1a"/><circle cx="164.9" cy="638.7" r="0.8" fill="#1a1a1a"/><circle cx="169.5" cy="641.8" r="0.8" fill="#1a1a1a"/><circle cx="163.5" cy="623.4" r="0.8" fill="#1a1a1a"/><circle cx="163.6" cy="639.3" r="0.8" fill="#1a1a1a"/><circle cx="196.8" cy="595.4" r="0.8" fill="#1a1a1a"/><circle cx="272.5" cy="645.1" r="0.8" fill="#1a1a1a"/><circle cx="257.5" cy="639.2" r="0.8" fill="#1a1a1a"/><circle cx="265.1" cy="647.7" r="0.8" fill="#1a1a1a"/><circle cx="253.5" cy="632.0" r="0.8" fill="#1a1a1a"/><circle cx="252.8" cy="633.4" r="0.8" fill="#1a1a1a"/><circle cx="252.0" cy="621.8" r="0.8" fill="#1a1a1a"/><circle cx="289.7" cy="626.4" r="0.8" fill="#1a1a1a"/><circle cx="254.1" cy="621.1" r="0.8" fill="#1a1a1a"/>
<line x1="97.50" y1="490.60" x2="97.50" y2="575.60" stroke="#5a5a5a" stroke-width="1.0" stroke-opacity="0.85"/>
<line x1="51.20" y1="531.40" x2="134.60" y2="531.40" stroke="#5a5a5a" stroke-width="1.0" stroke-opacity="0.85"/>
<line x1="184.70" y1="490.60" x2="184.70" y2="575.60" stroke="#5a5a5a" stroke-width="1.0" stroke-opacity="0.85"/>
<line x1="138.00" y1="531.40" x2="221.80" y2="531.40" stroke="#5a5a5a" stroke-width="1.0" stroke-opacity="0.85"/>
<line x1="272.40" y1="490.60" x2="272.40" y2="575.60" stroke="#5a5a5a" stroke-width="1.0" stroke-opacity="0.85"/>
<line x1="225.40" y1="531.40" x2="308.60" y2="531.40" stroke="#5a5a5a" stroke-width="1.0" stroke-opacity="0.85"/>
<line x1="97.50" y1="577.30" x2="97.50" y2="661.60" stroke="#5a5a5a" stroke-width="1.0" stroke-opacity="0.85"/>
<line x1="51.20" y1="616.90" x2="134.60" y2="616.90" stroke="#5a5a5a" stroke-width="1.0" stroke-opacity="0.85"/>
<line x1="184.80" y1="577.30" x2="184.80" y2="661.60" stroke="#5a5a5a" stroke-width="1.0" stroke-opacity="0.85"/>
<line x1="138.00" y1="616.90" x2="221.80" y2="616.90" stroke="#5a5a5a" stroke-width="1.0" stroke-opacity="0.85"/>
<line x1="268.30" y1="577.30" x2="268.30" y2="661.60" stroke="#5a5a5a" stroke-width="1.0" stroke-opacity="0.85"/>
<line x1="225.40" y1="616.90" x2="308.60" y2="616.90" stroke="#5a5a5a" stroke-width="1.0" stroke-opacity="0.85"/>
<text x="53.70" y="503.60" font-size="8.7" font-weight="normal" font-style="normal" text-anchor="start" fill="#222" >0.13</text>
<text x="107.70" y="503.60" font-size="8.7" font-weight="normal" font-style="normal" text-anchor="start" fill="#222" >5.85</text>
<text x="54.00" y="567.30" font-size="8.7" font-weight="normal" font-style="normal" text-anchor="start" fill="#222" >77.9</text>
<text x="107.70" y="567.30" font-size="8.7" font-weight="normal" font-style="normal" text-anchor="start" fill="#222" >16.1</text>
<text x="140.50" y="503.60" font-size="8.7" font-weight="normal" font-style="normal" text-anchor="start" fill="#222" >0.21</text>
<text x="194.50" y="503.60" font-size="8.7" font-weight="normal" font-style="normal" text-anchor="start" fill="#222" >7.61</text>
<text x="140.80" y="567.30" font-size="8.7" font-weight="normal" font-style="normal" text-anchor="start" fill="#222" >74.5</text>
<text x="194.50" y="567.30" font-size="8.7" font-weight="normal" font-style="normal" text-anchor="start" fill="#222" >17.7</text>
<text x="227.90" y="503.60" font-size="8.7" font-weight="normal" font-style="normal" text-anchor="start" fill="#222" >0.14</text>
<text x="281.90" y="503.60" font-size="8.7" font-weight="normal" font-style="normal" text-anchor="start" fill="#222" >6.68</text>
<text x="228.20" y="567.30" font-size="8.7" font-weight="normal" font-style="normal" text-anchor="start" fill="#222" >75.9</text>
<text x="281.90" y="567.30" font-size="8.7" font-weight="normal" font-style="normal" text-anchor="start" fill="#222" >17.3</text>
<text x="53.70" y="590.30" font-size="8.7" font-weight="normal" font-style="normal" text-anchor="start" fill="#222" >0.11</text>
<text x="107.70" y="590.30" font-size="8.7" font-weight="normal" font-style="normal" text-anchor="start" fill="#222" >7.09</text>
<text x="54.00" y="653.30" font-size="8.7" font-weight="normal" font-style="normal" text-anchor="start" fill="#222" >61.3</text>
<text x="107.70" y="653.30" font-size="8.7" font-weight="normal" font-style="normal" text-anchor="start" fill="#222" >31.5</text>
<text x="140.50" y="590.30" font-size="8.7" font-weight="normal" font-style="normal" text-anchor="start" fill="#222" >0.73</text>
<text x="194.50" y="590.30" font-size="8.7" font-weight="normal" font-style="normal" text-anchor="start" fill="#222" >31.5</text>
<text x="140.80" y="653.30" font-size="8.7" font-weight="normal" font-style="normal" text-anchor="start" fill="#222" >42.5</text>
<text x="194.50" y="653.30" font-size="8.7" font-weight="normal" font-style="normal" text-anchor="start" fill="#222" >25.2</text>
<text x="227.90" y="590.30" font-size="8.7" font-weight="normal" font-style="normal" text-anchor="start" fill="#222" >0.61</text>
<text x="281.90" y="590.30" font-size="8.7" font-weight="normal" font-style="normal" text-anchor="start" fill="#222" >21.5</text>
<text x="228.20" y="653.30" font-size="8.7" font-weight="normal" font-style="normal" text-anchor="start" fill="#222" >56.9</text>
<text x="281.90" y="653.30" font-size="8.7" font-weight="normal" font-style="normal" text-anchor="start" fill="#222" >21.0</text>
<text x="65" y="485.6" font-size="10" font-weight="bold" fill="#111">Th17<tspan dy="-3.8" font-size="6.8">TGF&#946;1</tspan></text>
<text x="152.2" y="485.6" font-size="10" font-weight="bold" fill="#111">Th17<tspan dy="-3.8" font-size="6.8">IL1&#946;</tspan></text>
<text x="235.1" y="485.6" font-size="10" font-weight="bold" fill="#111">Th17<tspan dy="-3.8" font-size="6.8">IL1&#946;+TGF&#946;</tspan></text>
<rect x="45.2" y="500" width="2.5" height="128" fill="#111"/>
<polyline points="42.0,505.6 46.45,498.2 50.9,505.6" fill="none" stroke="#111" stroke-width="2.5" stroke-linejoin="round" stroke-linecap="round"/>
<polygon points="46.45,498.0 43.6,503.2 49.3,503.2" fill="#111"/>
<text transform="translate(37.00,529.50) rotate(-90)" font-size="9.8" font-weight="bold" font-style="normal" text-anchor="middle" fill="#111" >Mart-1</text>
<text transform="translate(37.4,615.4) rotate(-90)" font-size="10.6" font-weight="bold" text-anchor="middle" fill="#111">Ova<tspan dy="3" font-size="7.6">323-339</tspan></text>
<text transform="translate(48.60,644.50) rotate(-90)" font-size="10" font-weight="bold" font-style="italic" text-anchor="middle" fill="#111" >7AAD</text>
<text x="55.60" y="672.60" font-size="10" font-weight="bold" font-style="italic" text-anchor="start" fill="#111" textLength="47" lengthAdjust="spacingAndGlyphs">Annexin V</text>
<rect x="109.5" y="666.1" width="190" height="2.3" fill="#111"/>
<polyline points="293.0,662.6 300.9,667.2 293.0,671.2" fill="none" stroke="#111" stroke-width="2.5" stroke-linejoin="round" stroke-linecap="round"/>
<polygon points="301.6,667.2 296,664.4 296,670.0" fill="#111"/>
<line x1="347.70" y1="506.82" x2="347.70" y2="568.60" stroke="#111" stroke-width="1.2" />
<line x1="347.70" y1="568.60" x2="409.80" y2="568.60" stroke="#111" stroke-width="1.2" />
<line x1="344.50" y1="568.60" x2="347.70" y2="568.60" stroke="#111" stroke-width="1.2" />
<text transform="translate(343.50,571.70) scale(0.88,1)" font-size="8.9" font-weight="bold" font-style="normal" text-anchor="end" fill="#111" stroke="#111" stroke-width="0.2">0</text>
<line x1="344.50" y1="553.28" x2="347.70" y2="553.28" stroke="#111" stroke-width="1.2" />
<text transform="translate(343.50,556.38) scale(0.88,1)" font-size="8.9" font-weight="bold" font-style="normal" text-anchor="end" fill="#111" stroke="#111" stroke-width="0.2">20</text>
<line x1="344.50" y1="537.96" x2="347.70" y2="537.96" stroke="#111" stroke-width="1.2" />
<text transform="translate(343.50,541.06) scale(0.88,1)" font-size="8.9" font-weight="bold" font-style="normal" text-anchor="end" fill="#111" stroke="#111" stroke-width="0.2">40</text>
<line x1="344.50" y1="522.64" x2="347.70" y2="522.64" stroke="#111" stroke-width="1.2" />
<text transform="translate(343.50,525.74) scale(0.88,1)" font-size="8.9" font-weight="bold" font-style="normal" text-anchor="end" fill="#111" stroke="#111" stroke-width="0.2">60</text>
<line x1="344.50" y1="507.32" x2="347.70" y2="507.32" stroke="#111" stroke-width="1.2" />
<text transform="translate(343.50,510.42) scale(0.88,1)" font-size="8.9" font-weight="bold" font-style="normal" text-anchor="end" fill="#111" stroke="#111" stroke-width="0.2">80</text>
<line x1="355.10" y1="548.22" x2="355.10" y2="550.22" stroke="#111" stroke-width="1.1" />
<line x1="353.30" y1="548.22" x2="356.90" y2="548.22" stroke="#111" stroke-width="1.1" />
<rect x="352.30" y="550.22" width="5.6" height="18.38" fill="#3a56a8" stroke="#111" stroke-width="1.1"/>
<line x1="355.10" y1="568.60" x2="355.10" y2="571.60" stroke="#111" stroke-width="1.0" />
<text transform="translate(359.20,572.60) rotate(-90)" font-size="9.2" font-weight="bold" font-style="normal" text-anchor="end" fill="#111" >Mart-1</text>
<line x1="362.70" y1="537.49" x2="362.70" y2="539.49" stroke="#111" stroke-width="1.1" />
<line x1="360.90" y1="537.49" x2="364.50" y2="537.49" stroke="#111" stroke-width="1.1" />
<rect x="359.90" y="539.49" width="5.6" height="29.11" fill="#3a56a8" stroke="#111" stroke-width="1.1"/>
<line x1="362.70" y1="568.60" x2="362.70" y2="571.60" stroke="#111" stroke-width="1.0" />
<text transform="translate(366.30,573.10) rotate(-90)" font-size="10.4" font-weight="bold" text-anchor="end" fill="#111">Ova<tspan dy="3" font-size="7">323-339</tspan></text>
<line x1="375.90" y1="545.15" x2="375.90" y2="547.15" stroke="#111" stroke-width="1.1" />
<line x1="374.10" y1="545.15" x2="377.70" y2="545.15" stroke="#111" stroke-width="1.1" />
<rect x="373.10" y="547.15" width="5.6" height="21.45" fill="#6dbd4c" stroke="#111" stroke-width="1.1"/>
<line x1="375.90" y1="568.60" x2="375.90" y2="571.60" stroke="#111" stroke-width="1.0" />
<text transform="translate(380.00,572.60) rotate(-90)" font-size="9.2" font-weight="bold" font-style="normal" text-anchor="end" fill="#111" >Mart-1</text>
<line x1="382.90" y1="522.94" x2="382.90" y2="524.94" stroke="#111" stroke-width="1.1" />
<line x1="381.10" y1="522.94" x2="384.70" y2="522.94" stroke="#111" stroke-width="1.1" />
<rect x="380.10" y="524.94" width="5.6" height="43.66" fill="#6dbd4c" stroke="#111" stroke-width="1.1"/>
<line x1="382.90" y1="568.60" x2="382.90" y2="571.60" stroke="#111" stroke-width="1.0" />
<text transform="translate(386.50,573.10) rotate(-90)" font-size="10.4" font-weight="bold" text-anchor="end" fill="#111">Ova<tspan dy="3" font-size="7">323-339</tspan></text>
<line x1="396.10" y1="548.22" x2="396.10" y2="550.22" stroke="#111" stroke-width="1.1" />
<line x1="394.30" y1="548.22" x2="397.90" y2="548.22" stroke="#111" stroke-width="1.1" />
<rect x="393.30" y="550.22" width="5.6" height="18.38" fill="#e3292f" stroke="#111" stroke-width="1.1"/>
<line x1="396.10" y1="568.60" x2="396.10" y2="571.60" stroke="#111" stroke-width="1.0" />
<text transform="translate(400.20,572.60) rotate(-90)" font-size="9.2" font-weight="bold" font-style="normal" text-anchor="end" fill="#111" >Mart-1</text>
<line x1="403.60" y1="532.13" x2="403.60" y2="534.13" stroke="#111" stroke-width="1.1" />
<line x1="401.80" y1="532.13" x2="405.40" y2="532.13" stroke="#111" stroke-width="1.1" />
<rect x="400.80" y="534.13" width="5.6" height="34.47" fill="#e3292f" stroke="#111" stroke-width="1.1"/>
<line x1="403.60" y1="568.60" x2="403.60" y2="571.60" stroke="#111" stroke-width="1.0" />
<text transform="translate(407.20,573.10) rotate(-90)" font-size="10.4" font-weight="bold" text-anchor="end" fill="#111">Ova<tspan dy="3" font-size="7">323-339</tspan></text>
<text transform="translate(318.4,549.4) rotate(-90)" font-size="9.9" font-weight="bold" text-anchor="middle" fill="#111">% of Annexin V<tspan dy="-3.5" font-size="6.4">+</tspan><tspan dy="3.5"> +</tspan></text>
<text transform="translate(329.6,543) rotate(-90)" font-size="9.9" font-weight="bold" text-anchor="middle" fill="#111">Annexin<tspan dy="-3.5" font-size="6.4">+</tspan><tspan dy="3.5">7AAD</tspan><tspan dy="-3.5" font-size="6.4">+</tspan><tspan dy="3.5"> cells</tspan></text>
<rect x="409.6" y="506.8" width="12" height="12.4" fill="#3a56a8" stroke="#111" stroke-width="1.1"/>
<text x="427.7" y="517.4" font-size="10" font-weight="bold" fill="#111">Th17<tspan dy="-4" font-size="6.8">TGF&#946;1</tspan></text>
<rect x="409.6" y="523.8" width="12" height="10.4" fill="#6dbd4c" stroke="#111" stroke-width="1.1"/>
<text x="427.7" y="533.8" font-size="10" font-weight="bold" fill="#111">Th17<tspan dy="-4" font-size="6.8">IL1&#946;</tspan></text>
<rect x="409.6" y="540.2" width="12" height="12.4" fill="#e3292f" stroke="#111" stroke-width="1.1"/>
<text x="427.7" y="549.3" font-size="10" font-weight="bold" fill="#111">Th17<tspan dy="-4" font-size="6.8">IL1&#946;+TGF&#946;</tspan></text>
</svg></body></html>
